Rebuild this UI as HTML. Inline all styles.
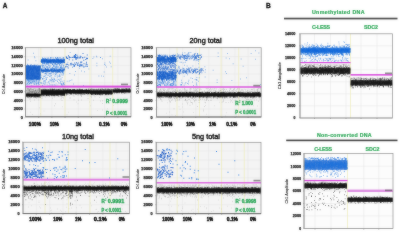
<!DOCTYPE html>
<html><head><meta charset="utf-8"><style>
html,body{margin:0;padding:0;background:#fff;width:400px;height:233px;overflow:hidden}
svg{display:block;font-family:"Liberation Sans", sans-serif;will-change:transform;}
</style></head><body><svg width="400" height="233" viewBox="0 0 400 233"><defs><filter id="soft" x="0" y="0" width="400" height="233" filterUnits="userSpaceOnUse" color-interpolation-filters="sRGB"><feGaussianBlur in="SourceGraphic" stdDeviation="1" result="b"/><feComposite in="SourceGraphic" in2="b" operator="arithmetic" k1="0" k2="0.65" k3="0.35" k4="0"/></filter></defs><g filter="url(#soft)"><rect width="400" height="233" fill="#fff"/><rect x="25.5" y="47.7" width="105.5" height="69.1" fill="#f4f4f4" fill-opacity="1.0"/><text x="20.68" y="119.06" font-size="3.5" font-weight="bold" text-anchor="start" fill="#1a1a1a" textLength="2.09" lengthAdjust="spacingAndGlyphs" stroke="#1a1a1a" stroke-width=".25">0</text><line x1="24.5" y1="117.8" x2="25.5" y2="117.8" stroke="#888" stroke-width=".5"/><line x1="25.5" y1="109.06" x2="131" y2="109.06" stroke="#e4e4e4" stroke-width=".5"/><text x="13.66" y="110.32" font-size="3.5" font-weight="bold" text-anchor="start" fill="#1a1a1a" textLength="9.11" lengthAdjust="spacingAndGlyphs" stroke="#1a1a1a" stroke-width=".25">2000</text><line x1="24.5" y1="109.06" x2="25.5" y2="109.06" stroke="#888" stroke-width=".5"/><line x1="25.5" y1="100.32" x2="131" y2="100.32" stroke="#e4e4e4" stroke-width=".5"/><text x="13.66" y="101.58" font-size="3.5" font-weight="bold" text-anchor="start" fill="#1a1a1a" textLength="9.11" lengthAdjust="spacingAndGlyphs" stroke="#1a1a1a" stroke-width=".25">4000</text><line x1="24.5" y1="100.32" x2="25.5" y2="100.32" stroke="#888" stroke-width=".5"/><line x1="25.5" y1="91.59" x2="131" y2="91.59" stroke="#e4e4e4" stroke-width=".5"/><text x="13.66" y="92.85" font-size="3.5" font-weight="bold" text-anchor="start" fill="#1a1a1a" textLength="9.11" lengthAdjust="spacingAndGlyphs" stroke="#1a1a1a" stroke-width=".25">6000</text><line x1="24.5" y1="91.59" x2="25.5" y2="91.59" stroke="#888" stroke-width=".5"/><line x1="25.5" y1="82.85" x2="131" y2="82.85" stroke="#e4e4e4" stroke-width=".5"/><text x="13.66" y="84.11" font-size="3.5" font-weight="bold" text-anchor="start" fill="#1a1a1a" textLength="9.11" lengthAdjust="spacingAndGlyphs" stroke="#1a1a1a" stroke-width=".25">8000</text><line x1="24.5" y1="82.85" x2="25.5" y2="82.85" stroke="#888" stroke-width=".5"/><line x1="25.5" y1="74.11" x2="131" y2="74.11" stroke="#e4e4e4" stroke-width=".5"/><text x="11.32" y="75.37" font-size="3.5" font-weight="bold" text-anchor="start" fill="#1a1a1a" textLength="11.45" lengthAdjust="spacingAndGlyphs" stroke="#1a1a1a" stroke-width=".25">10000</text><line x1="24.5" y1="74.11" x2="25.5" y2="74.11" stroke="#888" stroke-width=".5"/><line x1="25.5" y1="65.38" x2="131" y2="65.38" stroke="#e4e4e4" stroke-width=".5"/><text x="11.32" y="66.64" font-size="3.5" font-weight="bold" text-anchor="start" fill="#1a1a1a" textLength="11.45" lengthAdjust="spacingAndGlyphs" stroke="#1a1a1a" stroke-width=".25">12000</text><line x1="24.5" y1="65.38" x2="25.5" y2="65.38" stroke="#888" stroke-width=".5"/><line x1="25.5" y1="56.64" x2="131" y2="56.64" stroke="#e4e4e4" stroke-width=".5"/><text x="11.32" y="57.9" font-size="3.5" font-weight="bold" text-anchor="start" fill="#1a1a1a" textLength="11.45" lengthAdjust="spacingAndGlyphs" stroke="#1a1a1a" stroke-width=".25">14000</text><line x1="24.5" y1="56.64" x2="25.5" y2="56.64" stroke="#888" stroke-width=".5"/><text x="11.32" y="49.16" font-size="3.5" font-weight="bold" text-anchor="start" fill="#1a1a1a" textLength="11.45" lengthAdjust="spacingAndGlyphs" stroke="#1a1a1a" stroke-width=".25">16000</text><line x1="24.5" y1="47.9" x2="25.5" y2="47.9" stroke="#888" stroke-width=".5"/><line x1="38.69" y1="47.7" x2="38.69" y2="116.8" stroke="#e4e4e4" stroke-width=".5"/><line x1="38.69" y1="116.8" x2="38.69" y2="117.8" stroke="#666" stroke-width=".6"/><line x1="51.88" y1="47.7" x2="51.88" y2="116.8" stroke="#e4e4e4" stroke-width=".5"/><line x1="51.88" y1="116.8" x2="51.88" y2="117.8" stroke="#666" stroke-width=".6"/><line x1="65.06" y1="47.7" x2="65.06" y2="116.8" stroke="#e4e4e4" stroke-width=".5"/><line x1="65.06" y1="116.8" x2="65.06" y2="117.8" stroke="#666" stroke-width=".6"/><line x1="78.25" y1="47.7" x2="78.25" y2="116.8" stroke="#e4e4e4" stroke-width=".5"/><line x1="78.25" y1="116.8" x2="78.25" y2="117.8" stroke="#666" stroke-width=".6"/><line x1="91.44" y1="47.7" x2="91.44" y2="116.8" stroke="#e4e4e4" stroke-width=".5"/><line x1="91.44" y1="116.8" x2="91.44" y2="117.8" stroke="#666" stroke-width=".6"/><line x1="104.62" y1="47.7" x2="104.62" y2="116.8" stroke="#e4e4e4" stroke-width=".5"/><line x1="104.62" y1="116.8" x2="104.62" y2="117.8" stroke="#666" stroke-width=".6"/><line x1="117.81" y1="47.7" x2="117.81" y2="116.8" stroke="#e4e4e4" stroke-width=".5"/><line x1="117.81" y1="116.8" x2="117.81" y2="117.8" stroke="#666" stroke-width=".6"/><line x1="40.8" y1="47.7" x2="40.8" y2="116.8" stroke="#efeec0" stroke-width=".8"/><line x1="65" y1="47.7" x2="65" y2="116.8" stroke="#efeec0" stroke-width=".8"/><line x1="90" y1="47.7" x2="90" y2="116.8" stroke="#efeec0" stroke-width=".8"/><line x1="112.7" y1="47.7" x2="112.7" y2="116.8" stroke="#efeec0" stroke-width=".8"/><rect x="25.6" y="65.6" width="15.1" height="13.9" fill="#1860cc" fill-opacity="0.9"/><path transform="scale(.25)" d="M103 268h3m-3 27h3m-3 6h3m-3 1h3m-2-40h3m-3 5h3m-3 9h3m-3 6h3m-3 5h3m-3 1h3m-3 1h3m-3 2h3m-3 6h3m-3 6h3m-2-37h3m-3 20h3m-3 26h3m-3 1h3m-3 2h3m-2-40h3m-3 4h3m-3 5h3m-3 2h3m-3 3h3m-3 9h3m-3 2h3m-3 8h3m-2-42h3m-3 8h3m-3 1h3m-3 3h3m-3 1h3m-3 4h3m-3 6h3m-3 20h3m-2-40h3m-3 32h3m-2-41h3m-3 2h3m-3 29h3m-3 0h3m-3 7h3m-3 7h3m-3 2h3m-3 3h3m-2-28h3m-3 1h3m-3 2h3m-3 2h3m-3 4h3m-3 4h3m-3 0h3m-3 8h3m-3 14h3m-2-56h3m-3 2h3m-3 24h3m-3 1h3m-3 5h3m-3 2h3m-3 2h3m-3 1h3m-3 0h3m-3 15h3m-3 3h3m-2-52h3m-3 32h3m-3 7h3m-3 6h3m-2-47h3m-3 11h3m-3 6h3m-2-11h3m-3 0h3m-3 5h3m-3 44h3m-2-55h3m-3 7h3m-3 18h3m-3 12h3m-2-28h3m-3 11h3m-3 0h3m-3 6h3m-3 15h3m-2-24h3m-3 3h3m-3 33h3m-2-36h3m-3 27h3m-3 6h3m-2-46h3m-3 8h3m-3 4h3m-3 12h3m-3 23h3m-3 6h3m-2-56h3m-3 10h3m-3 5h3m-3 1h3m-3 22h3m-2-40h3m-3 0h3m-3 4h3m-3 28h3m-2-22h3m-3 2h3m-3 21h3m-3 7h3m-3 12h3m-3 2h3m-2-54h3m-3 15h3m-3 27h3m-3 8h3m-3 5h3m-3 0h3m-3 1h3m-2-42h3m-3 4h3m-3 5h3m-3 5h3m-2-29h3m-3 12h3m-3 15h3m-3 0h3m-3 9h3m-3 1h3m-3 2h3m-2-2h3m-3 12h3m-3 5h3m-3 2h3m-3 2h3m-2-25h3m-3 10h3m-3 10h3m-3 6h3m-2-56h3m-3 14h3m-3 0h3m-3 24h3m-3 4h3m-3 13h3m-2-56h3m-3 16h3m-3 1h3m-3 4h3m-3 2h3m-3 20h3m-2-25h3m-3 15h3m-3 7h3m-3 14h3m-2-50h3m-3 9h3m-3 16h3m-3 5h3m-3 2h3m-3 3h3m-3 7h3m-3 11h3m-2-57h3m-3 8h3m-3 0h3m-3 4h3m-3 13h3m-3 9h3m-2-16h3m-3 6h3m-3 33h3m-2-58h3m-3 8h3m-3 1h3m-3 4h3m-3 8h3m-3 20h3m-3 2h3m-3 12h3m-2-26h3m-3 22h3m-3 1h3m-2-49h3m-3 5h3m-3 25h3m-3 12h3m-3 7h3m-2-52h3m-3 0h3m-3 14h3m-3 22h3m-3 4h3m-3 12h3m-2-50h3m-3 7h3m-3 32h3m-3 5h3m-3 7h3m-2-48h3m-3 11h3m-3 31h3m-3 2h3m-3 8h3m-2-47h3m-3 21h3m-3 22h3m-2-53h3m-3 9h3m-3 35h3m-3 6h3m-2-36h3m-3 1h3m-3 4h3m-3 21h3m-3 6h3m-3 2h3m-2-36h3m-3 15h3m-3 26h3m-2-52h3m-3 21h3m-3 36h3m-2-43h3m-3 3h3m-3 2h3m-3 2h3m-3 5h3m-3 17h3m-3 4h3m-3 1h3m-3 8h3m-2-26h3m-3 3h3m-3 16h3m-3 5h3m-2-56h3m-3 25h3m-3 20h3m-2-24h3m-3 2h3m-3 4h3m-3 7h3m-3 13h3m-3 7h3m-2-44h3m-3 1h3m-3 5h3m-3 20h3m-3 0h3m-3 9h3m-3 10h3m-3 2h3m-3 1h3m-1-47h3m-3 12h3m-3 1h3m-3 22h3m-3 8h3m-2-22h3m-3 3h3m-3 2h3m-3 11h3m-3 11h3m-2-53h3m-3 4h3m-3 10h3m-3 11h3m-3 17h3m-2-45h3m-3 1h3m-3 17h3m-3 0h3m-3 2h3m-3 26h3m-3 6h3m-2-39h3m-3 5h3m-3 15h3m-3 17h3m-3 4h3m-3 2h3m-2-51h3m-3 9h3m-3 1h3m-3 25h3m-3 1h3m-2-28h3m-3 24h3m-2-35h3m-3 17h3m-3 11h3m-3 24h3m-2-53h3m-3 3h3m-3 10h3m-3 21h3m-3 2h3m-2-28h3m-3 39h3" stroke="#1860cc" stroke-width="3" stroke-opacity="0.8" fill="none"/><path transform="scale(.25)" d="M102 327h3m-1-4h3m-3 14h3m-2-13h3m-2 8h3m-3 7h3m-2-7h3m-3 4h3m-2-17h3m-3 1h3m-3 14h3m-2-15h3m-3 5h3m-3 8h3m-3 8h3m-2-20h3m-2 1h3m-3 5h3m-2-7h3m-3 1h3m-3 8h3m-3 1h3m-2-7h3m-3 15h3m-2-13h3m-3 1h3m-3 6h3m-2-8h3m-3 10h3m-3 5h3m-1-19h3m-3 7h3m-3 6h3m-3 3h3m-2-16h3m-3 1h3m-3 4h3m-3 10h3m-2-10h3m-2-4h3m-3 9h3m-2 3h3m-2-3h3m-3 2h3m-3 0h3m-2-11h3m-3 7h3m-3 5h3m-3 8h3m-2-7h3m-2-13h3m-3 12h3m-2-7h3m-3 17h3m-2-22h3m-3 1h3m-2 5h3m-3 3h3m-1-4h3m-3 6h3m-3 1h3m-2-6h3m-2-5h3m-2 11h3m-2-7h3m-3 14h3m-2-15h3m-3 3h3m-3 6h3m-2 2h3m-3 3h3m-2-18h3m-3 4h3m-3 4h3m-2-3h3m-2 4h3m-2-6h3m-1 9h3m-3 4h3m-2-15h3m-3 6h3m-3 2h3m-3 8h3m-2-14h3m-3 2h3m-3 15h3m-2-6h3m-2-14h3m-3 13h3m-3 3h3m-2-4h3m-1-8h3m-1 5h3m-3 3h3m-3 1h3m-3 8h3m-2-9h3m-3 4h3m-2-17h3m-3 7h3m-3 5h3m-3 5h3m-1-15h3m-3 7h3m-1-4h3m-3 14h3m-2-15h3m-2 7h3m-3 2h3m-3 0h3" stroke="#2274de" stroke-width="3" stroke-opacity="0.6" fill="none"/><path transform="scale(.25)" d="M108 257h3m0-17h3m18-27h3m2 14h3m-2 4h3m1 12h3" stroke="#2274de" stroke-width="3" stroke-opacity="0.8" fill="none"/><rect x="40.9" y="59.6" width="24" height="2.8" fill="#1860cc" fill-opacity="0.6"/><path transform="scale(.25)" d="M163 244h3m-3 2h3m-2-4h3m-3 1h3m-3 1h3m-3 3h3m-2-7h3m-3 1h3m-3 1h3m-3 0h3m-3 1h3m-3 5h3m-2-10h3m-3 4h3m-3 2h3m-3 3h3m-3 0h3m-3 2h3m-2-11h3m-3 2h3m-3 5h3m-3 4h3m-2-7h3m-3 10h3m-2-15h3m-3 2h3m-3 3h3m-3 5h3m-3 0h3m-3 1h3m-2-13h3m-3 6h3m-2-5h3m-3 6h3m-3 1h3m-3 3h3m-2-11h3m-3 4h3m-3 1h3m-3 8h3m-2-11h3m-3 11h3m-2-8h3m-3 1h3m-3 1h3m-2-4h3m-3 5h3m-3 0h3m-3 0h3m-3 2h3m-3 1h3m-3 2h3m-3 1h3m-2-13h3m-3 3h3m-3 2h3m-3 0h3m-3 3h3m-3 2h3m-3 3h3m-2-9h3m-3 3h3m-3 1h3m-3 1h3m-3 1h3m-2-3h3m-3 4h3m-3 0h3m-3 2h3m-2-14h3m-3 10h3m-2-5h3m-3 0h3m-3 2h3m-3 5h3m-2-10h3m-3 4h3m-3 5h3m-2-7h3m-3 3h3m-3 7h3m-2-10h3m-3 0h3m-3 1h3m-3 8h3m-2-10h3m-3 2h3m-3 4h3m-3 2h3m-2-7h3m-3 0h3m-3 1h3m-3 0h3m-3 1h3m-3 4h3m-3 4h3m-2-8h3m-3 1h3m-3 0h3m-3 6h3m-3 3h3m-2-15h3m-3 4h3m-3 2h3m-3 1h3m-3 1h3m-3 0h3m-3 2h3m-3 6h3m-2-13h3m-3 7h3m-3 0h3m-3 1h3m-3 0h3m-3 1h3m-3 0h3m-3 1h3m-2-3h3m-3 3h3m-3 0h3m-2-14h3m-3 4h3m-3 7h3m-3 1h3m-3 0h3m-3 0h3m-3 4h3m-2-14h3m-3 4h3m-3 2h3m-3 3h3m-3 1h3m-3 3h3m-2-8h3m-3 3h3m-3 2h3m-3 1h3m-3 3h3m-3 1h3m-2-8h3m-2-1h3m-3 2h3m-3 1h3m-3 1h3m-3 3h3m-2-13h3m-3 2h3m-3 3h3m-3 0h3m-3 1h3m-3 1h3m-3 1h3m-2-6h3m-3 3h3m-3 0h3m-3 2h3m-3 0h3m-3 4h3m-3 1h3m-3 3h3m-2-9h3m-3 3h3m-3 1h3m-2-3h3m-3 0h3m-3 1h3m-2 0h3m-3 2h3m-3 0h3m-3 2h3m-2-18h3m-3 8h3m-3 1h3m-3 2h3m-3 2h3m-3 1h3m-3 1h3m-3 3h3m-2-14h3m-3 6h3m-3 4h3m-3 0h3m-3 2h3m-3 5h3m-2-13h3m-3 0h3m-3 2h3m-3 1h3m-3 0h3m-3 1h3m-3 1h3m-3 1h3m-3 2h3m-3 4h3m-2-10h3m-3 2h3m-3 2h3m-3 3h3m-3 4h3m-2-10h3m-3 3h3m-2-6h3m-3 5h3m-3 6h3m-2-11h3m-3 7h3m-2-4h3m-3 3h3m-3 7h3m-2-12h3m-3 2h3m-3 3h3m-3 11h3m-3 1h3m-2-18h3m-3 0h3m-3 3h3m-3 2h3m-2-7h3m-3 7h3m-2-5h3m-3 4h3m-3 2h3m-3 5h3m-3 0h3m-2-13h3m-3 6h3m-3 2h3m-3 2h3m-3 0h3m-2-5h3m-3 2h3m-3 6h3m-2-13h3m-3 3h3m-3 1h3m-3 6h3m-3 2h3m-3 0h3m-2-10h3m-3 4h3m-3 0h3m-3 4h3m-3 1h3m-2-10h3m-3 1h3m-3 3h3m-3 3h3m-2 0h3m-3 1h3m-3 0h3m-3 1h3m-2-10h3m-3 3h3m-3 2h3m-3 2h3m-3 0h3m-3 6h3m-2-2h3m-3 1h3m-2-8h3m-3 3h3m-3 8h3m-3 2h3m-2-9h3m-3 1h3m-3 2h3m-2-9h3m-3 3h3m-3 3h3m-3 2h3m-3 5h3m-2-12h3m-3 1h3m-3 0h3m-3 4h3m-3 4h3m-2-13h3m-3 1h3m-3 3h3m-3 0h3m-3 2h3m-3 0h3m-3 0h3m-3 1h3m-3 0h3m-3 1h3m-3 5h3m-2 0h3m-2-6h3m-3 0h3m-3 1h3m-2-7h3m-3 0h3m-3 4h3m-3 1h3m-3 3h3m-3 1h3m-3 1h3m-3 1h3m-3 2h3m-3 0h3m-3 3h3m-2-17h3m-3 2h3m-3 1h3m-3 4h3m-3 3h3m-3 5h3m-2-21h3m-3 8h3m-3 7h3m-3 1h3m-2-5h3m-3 1h3m-3 0h3m-3 4h3m-2-7h3m-3 1h3m-3 1h3m-3 10h3m-3 1h3m-2-12h3m-3 3h3m-3 0h3m-3 3h3m-3 6h3m-2-16h3m-3 2h3m-3 2h3m-3 1h3m-3 2h3m-3 0h3m-3 1h3m-3 2h3m-3 4h3m-2-9h3m-3 2h3m-3 1h3m-3 1h3m-3 1h3m-3 1h3m-3 1h3m-3 6h3m-2-15h3m-3 0h3m-3 2h3m-3 1h3m-3 0h3m-3 0h3m-3 0h3m-3 3h3m-2 1h3m-3 1h3m-3 3h3m-2-8h3m-3 1h3m-3 2h3m-3 2h3m-2-11h3m-3 8h3m-3 0h3m-3 3h3m-3 2h3m-3 4h3m-2-14h3m-3 5h3m-3 2h3m-3 0h3m-3 2h3m-3 2h3m-2-4h3m-3 4h3m-2-13h3m-3 2h3m-3 4h3m-3 0h3m-3 1h3m-2-7h3m-3 5h3m-3 2h3m-2-5h3m-3 3h3m-3 3h3m-3 1h3m-3 1h3m-3 0h3m-3 1h3m-2-8h3m-3 2h3m-3 1h3m-3 6h3m-3 1h3m-3 0h3m-3 0h3m-2-14h3m-3 6h3m-3 3h3m-3 4h3m-2-10h3m-3 4h3m-3 2h3m-3 0h3m-3 2h3m-3 4h3m-2-15h3m-3 7h3m-2 0h3m-3 0h3m-3 0h3m-3 6h3m-3 1h3m-2-8h3m-3 0h3m-3 1h3m-3 0h3m-3 2h3m-2-6h3m-3 3h3m-3 4h3m-3 3h3m-2-13h3m-3 0h3m-3 7h3m-3 1h3m-3 1h3m-3 1h3m-2-7h3m-3 1h3m-3 2h3m-3 2h3m-3 1h3m-3 0h3m-3 3h3m-3 3h3m-2-6h3m-3 2h3m-2-15h3m-3 7h3m-3 4h3m-3 4h3m-2-3h3m-3 6h3m-3 0h3m-2-13h3m-3 1h3m-3 4h3m-3 8h3m-3 1h3m-2-11h3" stroke="#1860cc" stroke-width="3" stroke-opacity="0.85" fill="none"/><path transform="scale(.25)" d="M164 279h3m-3 1h3m-3 1h3m-2-3h3m-3 2h3m-3 1h3m-3 1h3m-3 1h3m-3 0h3m-3 0h3m-3 1h3m-2-7h3m-3 9h3m-3 1h3m-2-11h3m-3 4h3m-3 10h3m-2-6h3m-3 0h3m-2-3h3m-3 2h3m-3 1h3m-2-3h3m-3 0h3m-3 2h3m-3 0h3m-3 0h3m-3 0h3m-2-3h3m-3 2h3m-2-2h3m-3 3h3m-3 0h3m-3 1h3m-3 1h3m-3 0h3m-2-4h3m-3 3h3m-3 0h3m-2-5h3m-3 3h3m-3 1h3m-3 0h3m-3 3h3m-3 1h3m-2-15h3m-3 8h3m-3 3h3m-3 1h3m-2-3h3m-3 3h3m-2-3h3m-3 3h3m-3 2h3m-2-7h3m-3 1h3m-2 5h3m-3 1h3m-3 0h3m-2-10h3m-3 3h3m-3 1h3m-3 3h3m-3 1h3m-3 9h3m-2-19h3m-3 2h3m-3 0h3m-3 10h3m-2-9h3m-3 1h3m-3 1h3m-3 4h3m-3 0h3m-3 3h3m-3 8h3m-2-13h3m-3 3h3m-3 1h3m-3 0h3m-3 3h3m-3 0h3m-2-7h3m-3 2h3m-3 4h3m-2-9h3m-3 1h3m-2-1h3m-3 2h3m-3 3h3m-3 0h3m-2-6h3m-3 4h3m-3 1h3m-3 0h3m-3 2h3m-2-7h3m-3 2h3m-3 3h3m-3 5h3m-2-4h3m-3 0h3m-2-11h3m-3 8h3m-3 1h3m-3 4h3m-3 0h3m-2-8h3m-3 1h3m-3 1h3m-3 6h3m-2-2h3m-2-7h3m-3 5h3m-3 2h3m-3 1h3m-2-4h3m-3 0h3m-3 3h3m-3 0h3m-3 3h3m-2-4h3m-3 1h3m-2-2h3m-3 4h3m-3 2h3m-2-3h3m-3 0h3m-2-2h3m-3 1h3m-3 0h3m-2-10h3m-3 7h3m-2 0h3m-2-3h3m-3 5h3m-3 1h3m-2-4h3m-3 4h3m-3 0h3m-3 1h3m-3 4h3m-2-8h3m-3 1h3m-3 0h3m-2-3h3m-3 1h3m-3 4h3m-2-7h3m-3 5h3m-3 3h3m-3 8h3m-2-14h3m-3 3h3m-3 1h3m-3 1h3m-3 2h3m-3 1h3m-3 1h3m-2-10h3m-3 2h3m-3 4h3m-3 0h3m-3 3h3m-2-14h3m-3 7h3m-3 8h3m-2 0h3m-3 1h3m-2-12h3m-3 4h3m-2 3h3m-3 0h3m-2-4h3m-3 4h3m-3 2h3m-2-11h3m-3 9h3m-3 1h3m-3 0h3m-3 0h3m-3 1h3m-3 2h3m-3 4h3m-1-14h3m-3 2h3m-3 1h3m-3 0h3m-2 0h3m-3 2h3m-3 2h3m-3 0h3m-2-9h3m-3 5h3m-3 1h3m-3 0h3m-3 0h3m-3 2h3m-3 1h3m-3 2h3m-2 0h3m-2-6h3m-3 1h3m-3 0h3m-3 1h3m-2-1h3m-3 2h3m-3 1h3m-3 2h3m-2-4h3m-3 1h3m-3 8h3m-2-13h3m-3 2h3m-3 5h3m-2-4h3m-3 2h3m-3 1h3m-3 3h3m-2-10h3m-3 3h3m-3 7h3m-2 1h3m-2-8h3m-3 2h3m-3 5h3m-2-8h3m-3 1h3m-3 1h3m-3 1h3m-3 1h3m-3 1h3m-3 1h3m-3 5h3m-2-11h3m-3 4h3m-3 3h3m-2-4h3m-3 0h3m-2-1h3m-3 0h3m-3 6h3m-3 1h3m-3 0h3m-2-8h3m-3 5h3m-2-3h3m-3 1h3m-3 4h3m-2-8h3m-3 5h3m-3 1h3m-2-8h3m-3 2h3m-3 2h3m-3 3h3m-3 0h3m-3 2h3m-2-6h3m-3 4h3m-3 3h3m-3 0h3m-3 2h3m-2-10h3m-3 3h3m-3 5h3m-2-9h3m-3 1h3m-3 1h3m-3 1h3m-3 5h3m-3 0h3m-2-10h3m-3 7h3m-2-11h3m-3 5h3m-3 1h3m-3 10h3m-2-10h3m-3 3h3m-3 0h3m-3 10h3m-2-9h3m-2-3h3m-3 2h3m-3 4h3m-2-3h3m-3 1h3m-2-7h3m-1 1h3m-3 4h3m-3 1h3m-3 3h3m-2-8h3m-3 5h3m-3 3h3m-2-3h3m-3 2h3m-3 3h3m-2-11h3m-3 5h3m-3 2h3m-3 1h3m-3 6h3m-1-12h3m-3 1h3m-3 2h3m-2 2h3m-3 5h3m-2-7h3m-2-6h3m-3 3h3m-3 2h3m-3 0h3m-3 0h3m-3 5h3m-2-7h3m-2-3h3m-3 3h3m-3 2h3" stroke="#1860cc" stroke-width="3" stroke-opacity="0.8" fill="none"/><path transform="scale(.25)" d="M168 252h3m-3 2h3m-3 6h3m-2 1h3m1-7h3m-2 15h3m-1-15h3m-3 6h3m-3 7h3m-2-14h3m-1 0h3m-2 11h3m-1-12h3m-3 5h3m-3 14h3m0-18h3m-3 12h3m-3 4h3m-2 4h3m1-16h3m-3 11h3m1-11h3m0 13h3m-2-9h3m0 5h3m-1-13h3m-3 0h3m-3 21h3m2-3h3m-3 0h3m-2-13h3m-3 16h3m0-11h3m-1-9h3m-3 13h3m-2 0h3m-2-13h3m-2 9h3m-2-5h3m-2-1h3m-2 1h3m-2 14h3m-1-7h3m-3 1h3m-3 3h3m0-11h3m-3 2h3m-1-2h3m-2 6h3m-3 4h3m0-12h3m-2 20h3m0-18h3m-2 5h3m-2-11h3m-2 1h3m-3 18h3m-2-1h3m-2-17h3m-2 0h3m-3 8h3m-3 5h3m-2-5h3m-2 8h3m-2 4h3m-1 0h3m1-11h3m-2-1h3m-2 5h3m0 5h3" stroke="#2274de" stroke-width="3" stroke-opacity="0.6" fill="none"/><path transform="scale(.25)" d="M163 262h3m-2 14h3m-3 0h3m-3 58h3m-2-95h3m-3 10h3m-3 61h3m-3 20h3m-2-87h3m-3 17h3m-3 16h3m-3 1h3m-3 26h3m-2-38h3m-3 68h3m-2-103h3m-3 19h3m-3 16h3m-3 4h3m-3 21h3m-3 25h3m-3 26h3m-2-106h3m-3 1h3m-3 36h3m-3 43h3m-3 27h3m-2-106h3m-3 28h3m-3 25h3m-3 26h3m-3 0h3m-3 2h3m-2-66h3m-3 15h3m-2 20h3m-3 22h3m-2-56h3m-3 9h3m-3 1h3m-3 27h3m-3 36h3m-2-70h3m-3 18h3m-3 12h3m-3 6h3m-3 13h3m-3 27h3m-3 2h3m-3 1h3m-2-63h3m-3 35h3m-3 8h3m-3 9h3m-3 2h3m-3 13h3m-2-102h3m-3 12h3m-3 75h3m-2-69h3m-3 41h3m-2-64h3m-3 44h3m-3 29h3m-3 2h3m-2 21h3m-3 10h3m-2-103h3m-3 10h3m-3 17h3m-3 13h3m-3 19h3m-3 8h3m-3 10h3m-3 11h3m-2-85h3m-3 91h3m-3 4h3m-2-95h3m-2-1h3m-3 64h3m-3 18h3m-3 1h3m-1-72h3m-3 7h3m-3 31h3m-3 9h3m-3 4h3m-3 16h3m-3 4h3m-2-76h3m-3 14h3m-3 2h3m-3 9h3m-3 12h3m-3 31h3m-2-79h3m-3 11h3m-3 10h3m-3 58h3m-3 21h3m-3 8h3m-2-73h3m-3 21h3m-2-15h3m-3 29h3m-2-55h3m-3 3h3m-3 6h3m-3 17h3m-3 20h3m-2-3h3m-3 54h3m-2-105h3m-3 7h3m-3 11h3m-3 70h3m-3 5h3m-2-100h3m-3 31h3m-3 34h3m-3 6h3m-2-67h3m-3 8h3m-2 20h3m-3 1h3m-3 7h3m-3 10h3m-3 4h3m-3 43h3m-2-87h3m-3 26h3m-3 27h3m-2 12h3m-3 28h3m-3 6h3m-2-62h3m-3 17h3m-3 1h3m-3 23h3m-3 5h3m-2-82h3m-3 53h3m-3 6h3m-3 4h3m-3 2h3m-3 12h3m-3 21h3m-2-110h3m-3 50h3m-2 1h3m-3 13h3m-3 29h3m-2-72h3m-3 10h3m-3 11h3m-2 24h3m-3 6h3m-3 18h3m-3 19h3m-2-108h3m-3 82h3m-2-66h3m-3 26h3m-3 30h3m-3 20h3m-2-91h3m-3 16h3m-3 63h3m-3 9h3m-3 8h3m-2-84h3m-3 73h3m-3 26h3m-2-96h3m-3 32h3m-3 6h3m-2-38h3m-3 2h3m-3 29h3m-3 5h3m-3 35h3m-3 6h3m-2-68h3m-3 26h3m-3 57h3m-3 1h3m-2-110h3m-3 35h3m-3 7h3m-3 15h3m-3 10h3m-3 22h3m-2-57h3m-3 15h3m-3 48h3m-2-88h3m-3 20h3m-3 7h3m-2 48h3m-3 11h3m-3 5h3m-2-64h3m-3 10h3m-3 41h3m-3 4h3m-3 7h3m-2-80h3m-3 9h3m-2 37h3m-3 24h3m-3 2h3m-3 22h3m-2-94h3m-3 30h3m-3 4h3m-3 3h3m-3 21h3m-3 35h3m-2-95h3m-3 28h3m-3 0h3m-3 27h3m-3 6h3m-2-75h3m-3 0h3m-3 12h3m-3 56h3m-3 23h3m-2-87h3m-3 58h3m-2-44h3m-3 16h3m-3 6h3m-3 4h3m-3 24h3m-3 44h3m-2-110h3m-3 34h3m-3 56h3m-3 14h3m-2-94h3m-3 7h3m-3 11h3m-2-26h3m-3 6h3m-3 2h3m-3 16h3m-3 16h3m-3 20h3m-2-53h3m-3 29h3m-3 3h3m-3 23h3m-2-42h3m-3 14h3m-3 34h3m-3 6h3m-3 9h3m-2-81h3m-3 3h3m-3 7h3m-3 27h3m-3 16h3m-2-48h3m-3 67h3m-3 16h3m-3 2h3m-2-96h3m-3 1h3m-3 7h3m-3 8h3m-3 1h3m-3 93h3m-2-106h3m-3 5h3m-3 4h3m-2 26h3m-3 62h3m-2-83h3m-3 19h3m-3 38h3m-3 13h3m-1-75h3m-3 6h3m-3 27h3m-3 9h3m-3 19h3m-3 13h3m-3 16h3m-2-77h3m-3 3h3m-3 63h3m-2-75h3m-3 31h3m-3 22h3m-2-69h3m-3 1h3m-3 12h3m-3 17h3m-3 37h3m-3 5h3m-3 1h3m-3 1h3m-3 2h3m-2-77h3m-3 14h3m-3 76h3m-2-45h3m-3 12h3m-3 39h3m-3 3h3m-2-75h3m-3 16h3m-3 10h3m-3 53h3m-2-79h3m-3 12h3m-3 3h3m-3 14h3m-3 8h3m-3 24h3m-3 21h3m-2-63h3m-3 13h3m-3 31h3m-1-53h3m-3 19h3m-3 1h3m-3 1h3m-3 50h3m-3 3h3m-3 2h3m-2-84h3m-3 3h3m-3 10h3m-3 0h3m-3 21h3m-3 8h3m-3 26h3m-3 11h3m-3 2h3m-2-52h3m-3 0h3m-3 8h3m-3 9h3m-3 8h3m-3 16h3m-3 16h3m-1-87h3m-3 33h3m-3 52h3m-2-109h3m-3 19h3m-3 22h3m-3 19h3m-2-20h3m-3 10h3m-3 4h3m-3 12h3m-3 34h3m-3 6h3m-2-43h3m-2-64h3m-3 2h3m-3 68h3m-3 34h3m-3 0h3m-2-91h3m-3 18h3m-3 8h3m-3 5h3m-3 18h3m-3 40h3m-3 6h3m-3 2h3m-2-17h3m-3 6h3m-2 8h3m-2-92h3" stroke="#2274de" stroke-width="3" stroke-opacity="0.6" fill="none"/><path transform="scale(.25)" d="M263 227h4m-3 3h4m-3 3h4m-1 0h4m-3 1h4m-1-11h4m-2 5h4m-3 11h4m-3-11h4m-4 3h4m1-1h4m2 0h4m-2 10h4m-3-11h4m0 0h4m-3-6h4m-4 3h4m-3-3h4m-4 6h4m-4 0h4m0-11h4m-4 2h4m-4 6h4m-4 4h4m-3-10h4m-4 16h4m-3-3h4m-3-2h4m-4 6h4m-2-7h4m-3-9h4m-3 12h4m-2-5h4m-4 1h4m1 3h4m-1-1h4m-2-6h4m-3 6h4m-2-4h4m2 4h4m-2-17h4m-4 17h4m-1 10h4m0-12h4m0 9h4m0-5h4m-3 0h4m-4 2h4m-3-15h4m-4 14h4" stroke="#1860cc" stroke-width="4" stroke-opacity="0.85" fill="none"/><path transform="scale(.25)" d="M261 268h4m-3-2h4m-3-7h4m-1-3h4m-3 2h4m-2 9h4m-2 5h4m-2-12h4m4-6h4m-3 5h4m-4 0h4m-3-6h4m2 4h4m-1 2h4m-1 3h4m-4 3h4m-3-1h4m-3-12h4m-3 7h4m-1-2h4m-1-6h4m0 5h4m-4 5h4m-1-9h4m-4 9h4m1-1h4m-4 5h4m-1-1h4m-2-16h4m-4 9h4m-4 4h4m-3-11h4m-3 10h4m-3 3h4m-3-15h4m-2 12h4m-1 4h4m-1 4h4m-3-13h4m4 5h4m-4 6h4m-3-11h4m-3-6h4m-2 9h4m-2 7h4" stroke="#1860cc" stroke-width="4" stroke-opacity="0.85" fill="none"/><path transform="scale(.25)" d="M267 325h3m0-76h3m2 76h3m0-31h3m-2-84h3m-3 112h3m4-2h3m-1-50h3m0-4h3m-1 70h3m1-36h3m0-14h3m14-13h3m5 11h3m4 58h3m1-55h3m-2-20h3m14 9h3" stroke="#2274de" stroke-width="3" stroke-opacity="0.8" fill="none"/><path transform="scale(.25)" d="M370 234h3m1-6h3m8-3h3m-2 3h3m11 2h3m-2 0h3m4 5h3m28-10h3" stroke="#2274de" stroke-width="3" stroke-opacity="0.8" fill="none"/><path transform="scale(.25)" d="M386 253h3m-3 10h3m27-5h3m-1-6h3m-1 9h3m2 7h3m8-20h3m4 19h3" stroke="#2274de" stroke-width="3" stroke-opacity="0.8" fill="none"/><path transform="scale(.25)" d="M394 304h3m8 0h3m4 1h3m0-17h3m22-35h3" stroke="#2274de" stroke-width="3" stroke-opacity="0.8" fill="none"/><rect x="25.5" y="94" width="15.3" height="2.4" fill="#121212" fill-opacity="1.0"/><path transform="scale(.25)" d="M103 374h2m-1 0h2m-1 0h2m-2 3h2m0-4h2m-2 1h2m-2 2h2m-1-3h2m-2 4h2m-1-3h2m-1-1h2m-2 3h2m-2 0h2m-1-3h2m-2 1h2m-1 1h2m-2 1h2m-2 0h2m-1-1h2m-2 0h2m-1-2h2m-2 0h2m0 0h2m-2 3h2m-1-1h2m-2 1h2m-1-3h2m-1 1h2m-2 1h2m-2 0h2m-1 1h2m-1-3h2m-1 2h2m-2 0h2m0 1h2m-1-3h2m-2 1h2m-2 2h2m-1 0h2m-2 1h2m-1-3h2m-2 3h2m-1-3h2m0 0h2m-2 2h2m-2 0h2m-1-1h2m-2 1h2m0-2h2m-1 0h2m-1 0h2m-2 1h2m-2 1h2m-1-1h2m-1-1h2m-2 0h2m-2 2h2m-1-3h2m-1 0h2m-2 0h2m-2 1h2m-2 1h2m-1 0h2m-2 2h2m-1-3h2m-2 2h2m-1-2h2m-2 1h2m-2 0h2m0-1h2m-2 2h2m-2 1h2m-1-2h2m-1 0h2m-2 1h2m-1-3h2m-2 2h2m-2 0h2m1-1h2m-2 1h2m-2 0h2m-2 0h2m1 0h2m-1-2h2m-1 1h2m-1-1h2m-1 1h2m0-1h2m-2 2h2m-1-2h2m-2 4h2" stroke="#111" stroke-width="2" stroke-opacity="0.8" fill="none"/><path transform="scale(.25)" d="M102 387h2m-1 1h2m0-3h2m-1 1h2m-1 0h2m-2 1h2m-1-2h2m-2 3h2m-1-3h2m-2 2h2m-2 1h2m-1 0h2m1-3h2m-2 3h2m-2 0h2m-1-2h2m-2 2h2m0-2h2m-1-1h2m-2 1h2m-1 0h2m-2 1h2m-2 0h2m-1 0h2m-2 1h2m-1 1h2m-1-3h2m-2 1h2m0 0h2m-1 0h2m-2 1h2m-1-3h2m-2 1h2m-2 1h2m-1-2h2m-2 1h2m-2 2h2m-1-2h2m-2 0h2m-1 1h2m-1-2h2m-1 0h2m-2 1h2m0 2h2m-1-1h2m-1 0h2m-1-1h2m-2 1h2m-2 1h2m-1-2h2m-1 0h2m-1 0h2m-2 2h2m-2 1h2m-1-4h2m-2 1h2m-2 1h2m-1 0h2m-1 1h2m-2 0h2m0-3h2m-2 1h2m-2 1h2m-2 1h2m-2 0h2m-2 0h2m-1-2h2m0 0h2m-1 1h2m-2 1h2m-1-2h2m-2 0h2m-1 0h2m-2 2h2m-1-3h2m-2 0h2m-1 1h2m-2 0h2m-2 1h2m-2 0h2m-2 1h2m-1-2h2m-2 1h2m-1-2h2m-1 3h2m0-3h2m-1 2h2m-2 1h2m-2 0h2m-1-1h2m1 2h2" stroke="#111" stroke-width="2" stroke-opacity="0.8" fill="none"/><path transform="scale(.25)" d="M102 365h2m-1-10h2m-2 9h2m-2 3h2m-2 4h2m-2 3h2m-2 0h2m-1-11h2m-2 6h2m-2 2h2m-2 2h2m-1-19h2m-2 4h2m-2 4h2m-2 1h2m-2 9h2m-1-12h2m-2 1h2m-2 3h2m-1-10h2m-2 3h2m-2 7h2m-2 8h2m-1-18h2m-2 1h2m-2 1h2m-2 13h2m-2 3h2m-1-17h2m-2 3h2m-2 4h2m-2 6h2m-2 4h2m-2 0h2m-2 1h2m-2 1h2m-1-19h2m-2 2h2m-2 4h2m-2 3h2m-2 1h2m-2 4h2m-1-8h2m-2 0h2m-2 6h2m-2 6h2m-1-19h2m-2 2h2m-2 1h2m-2 4h2m-2 7h2m-2 1h2m-2 0h2m-2 3h2m-1-17h2m-2 4h2m-2 1h2m-2 3h2m-2 11h2m-1-20h2m-2 5h2m-2 2h2m-2 4h2m-2 3h2m-2 3h2m-2 0h2m-1-15h2m-2 1h2m-2 5h2m-2 4h2m-2 4h2m-2 1h2m-1-17h2m-2 6h2m-2 3h2m-2 0h2m-2 1h2m-2 1h2m-2 1h2m-2 6h2m-1-13h2m-2 1h2m-2 0h2m-2 4h2m-2 5h2m-2 2h2m-2 1h2m-2 0h2m-2 2h2m-2 0h2m-1-18h2m-2 2h2m-2 1h2m-2 0h2m-2 1h2m-2 3h2m-2 0h2m-2 9h2m-2 2h2m-2 1h2m-1-20h2m-2 6h2m-2 4h2m-2 0h2m-2 2h2m-2 2h2m-2 1h2m-2 0h2m-2 1h2m-1-16h2m-2 1h2m-2 0h2m-2 9h2m-2 3h2m-2 0h2m-2 6h2m-2 0h2m-1-20h2m-2 4h2m-2 7h2m-2 0h2m-2 0h2m-2 4h2m-2 3h2m-1-17h2m-2 4h2m-2 1h2m-2 8h2m-2 7h2m-1-19h2m-2 4h2m-2 0h2m-2 1h2m-2 4h2m-2 1h2m-2 1h2m-1-12h2m-2 2h2m-2 4h2m-2 2h2m-2 1h2m-2 1h2m-2 2h2m-2 2h2m-2 0h2m-2 2h2m-1-15h2m-2 2h2m-2 6h2m-2 5h2m-2 1h2m-2 4h2m-1-18h2m-2 11h2m-2 4h2m-2 0h2m-2 3h2m-1-16h2m-2 9h2m-2 0h2m-2 2h2m-2 1h2m-2 5h2m-1-11h2m-2 1h2m-2 0h2m-2 2h2m-2 0h2m-2 1h2m-2 0h2m-2 0h2m-2 2h2m-1-11h2m-2 1h2m-2 3h2m-2 4h2m-2 1h2m-2 0h2m-2 3h2m-1-16h2m-2 3h2m-2 1h2m-2 1h2m-2 9h2m-2 1h2m-2 2h2m-1-15h2m-2 1h2m-2 1h2m-2 9h2m-2 5h2m-1-16h2m-2 3h2m-2 2h2m-2 1h2m-2 1h2m-2 4h2m-1-9h2m-2 1h2m-2 3h2m-2 3h2m-2 1h2m-2 2h2m-2 0h2m-2 0h2m-2 2h2m-2 2h2m-1-17h2m-2 1h2m-2 8h2m-1-10h2m-2 1h2m-2 7h2m-2 0h2m-2 3h2m-2 1h2m-2 4h2m-1-6h2m-2 1h2m-2 0h2m-2 5h2m-2 2h2m-1-18h2m-2 14h2m-2 2h2m-2 1h2m-2 0h2m-2 0h2m-2 1h2m-1-17h2m-2 7h2m-2 0h2m-2 3h2m-2 3h2m-2 3h2m-2 1h2m-2 1h2m-1-18h2m-2 5h2m-2 0h2m-2 1h2m-2 1h2m-2 2h2m-2 5h2m-2 1h2m-1-14h2m-2 3h2m-2 0h2m-2 1h2m-2 1h2m-2 1h2m-2 1h2m-2 3h2m-2 1h2m-2 3h2m-1-16h2m-2 7h2m-2 1h2m-2 1h2m-2 10h2m-1-12h2m-2 3h2m-2 6h2m-2 1h2m-1-16h2m-2 0h2m-2 3h2m-2 4h2m-2 1h2m-2 0h2m-2 4h2m-2 1h2m-2 1h2m-2 0h2m-1-11h2m-2 9h2m-2 2h2m-2 1h2m-2 1h2m-1-15h2m-2 4h2m-2 2h2m-2 2h2m-2 0h2m-2 3h2m-2 1h2m-2 1h2m-1-3h2m-2 1h2m-2 2h2m-1-15h2m-2 7h2m-2 1h2m-2 6h2m-1-13h2m-2 6h2m-2 5h2m-2 3h2m-1-12h2m-2 4h2m-2 4h2m-2 2h2m-1-10h2m-2 2h2m-2 3h2m-2 3h2m-2 5h2m-2 3h2m-1-19h2m-2 5h2m-2 1h2m-2 2h2m-2 0h2m-2 1h2m-2 4h2m-2 1h2m-2 1h2m-2 3h2m-1-13h2m-2 9h2m-2 2h2m-2 0h2m-1-14h2m-2 1h2m-2 4h2m-2 2h2m-2 1h2m-2 9h2m-2 0h2m-1-20h2m-2 2h2m-2 8h2m-2 4h2m-2 1h2m-2 1h2m-2 1h2m-2 0h2m-2 2h2m-2 1h2m-2 0h2m-2 1h2m-1-19h2m-2 1h2m-2 2h2m-2 0h2m-2 1h2m-2 4h2m-2 3h2m-2 3h2m-1-16h2m-2 1h2m-2 1h2m-2 0h2m-2 4h2m-2 4h2m-2 1h2m-2 3h2m-2 5h2m-2 1h2m-1-19h2m-2 1h2m-2 2h2m-2 2h2m-2 2h2m-2 1h2m-2 0h2m-2 1h2m-2 1h2m-2 1h2m-2 1h2m-2 2h2m-2 1h2m-1-16h2m-2 1h2m-2 4h2m-2 1h2m-2 7h2m-2 5h2m-2 2h2m-1-15h2m-2 0h2m-2 1h2m-2 2h2m-2 2h2m-2 0h2m-2 1h2m-2 2h2m-2 1h2m-1-14h2m-2 10h2m-2 1h2m-2 2h2m-2 3h2m-1-12h2m-2 0h2m-2 0h2m-2 1h2" stroke="#555" stroke-width="2" stroke-opacity="0.45" fill="none"/><path transform="scale(.25)" d="M112 391h2m4 5h2m-1-7h2m-1 7h2m-2 9h2m2-17h2m11 12h2m5-7h2m7-6h2m5 3h2" stroke="#333" stroke-width="2" stroke-opacity="0.6" fill="none"/><rect x="40.8" y="90.1" width="24.2" height="4.8" fill="#121212" fill-opacity="1.0"/><path transform="scale(.25)" d="M163 361h2m-1-1h2m0 0h2m-2 0h2m-2 0h2m-2 1h2m-1-3h2m-1 3h2m-1-3h2m0 1h2m-2 0h2m-2 0h2m-1 1h2m0-2h2m-2 1h2m-2 0h2m-1-1h2m-1 1h2m-2 1h2m-2 0h2m0-1h2m-2 2h2m-1 0h2m-1-2h2m-2 0h2m-1-1h2m-2 1h2m-1-1h2m-2 2h2m-1 0h2m-2 1h2m-1-2h2m-2 2h2m-2 0h2m-1-2h2m-1 2h2m-1-2h2m-2 1h2m0-2h2m-2 3h2m-1-1h2m-1-3h2m-1 1h2m-2 2h2m-1 0h2m-1-2h2m-2 2h2m-1 1h2m-1-3h2m-2 1h2m1-1h2m-1 2h2m-2 0h2m-1-1h2m-2 0h2m-2 0h2m-2 2h2m0-3h2m-2 2h2m0 0h2m-1-2h2m-1 1h2m-2 0h2m-2 0h2m-1-2h2m-2 2h2m-1-2h2m-2 4h2m-2 0h2m-1-3h2m-2 0h2m-2 1h2m-2 0h2m-2 0h2m-1 0h2m-2 2h2m-2 0h2m-1-3h2m-2 0h2m-1 0h2m-2 0h2m-2 1h2m0-1h2m-1 0h2m-1 0h2m-2 0h2m-2 0h2m-1 0h2m0 0h2m-1 0h2m0 1h2m-2 1h2m-2 0h2m-1-3h2m-2 3h2m-2 1h2m0-3h2m-2 3h2m-1-2h2m-1-1h2m-1 1h2m-1 1h2m-2 1h2m-1-2h2m-2 2h2m-1-3h2m-2 1h2m-1-1h2m-2 1h2m-2 1h2m-1-2h2m-2 0h2m-2 1h2m0-1h2m-2 2h2m-2 1h2m-1-2h2m-2 2h2m-1-3h2m0 3h2m-1-2h2m-1 0h2m0-1h2m-2 2h2m-1 0h2m-1 1h2m1-3h2m-1 0h2m-1 0h2m-2 1h2m-2 0h2m-1 0h2m-2 1h2m-1-3h2m-2 2h2m-1 0h2m-2 1h2m-2 0h2m-1-2h2m-2 2h2m-2 0h2m-1 0h2m-2 0h2m-1-2h2m-2 2h2" stroke="#111" stroke-width="2" stroke-opacity="0.8" fill="none"/><path transform="scale(.25)" d="M164 379h2m-1 1h2m-1 1h2m-2 0h2m-2 0h2m-2 2h2m-1-3h2m-1 0h2m-2 2h2m0-3h2m-1 0h2m-2 1h2m-2 2h2m-2 1h2m-1-3h2m-1 2h2m-2 1h2m-1-1h2m-1-1h2m-1-1h2m-2 3h2m0-1h2m1 0h2m0-3h2m-2 1h2m-2 3h2m-1-4h2m-2 0h2m-2 1h2m-2 2h2m-2 1h2m-1-3h2m-2 2h2m-2 0h2m-1-2h2m-2 2h2m-1-1h2m-1-2h2m-2 4h2m0-2h2m-1-1h2m-2 0h2m-2 1h2m-2 1h2m-2 0h2m-1-2h2m-2 0h2m-1 1h2m-2 1h2m-1-1h2m0 2h2m-1-2h2m-2 1h2m0-3h2m-2 0h2m-2 0h2m-2 1h2m-2 1h2m0 0h2m0 0h2m-2 0h2m-1-1h2m-1 1h2m-1-2h2m-2 2h2m-2 1h2m-2 1h2m-1-4h2m-2 4h2m-1-4h2m-2 1h2m-1 1h2m-1-1h2m-2 1h2m-1-2h2m-1 2h2m-2 0h2m-1 1h2m-2 0h2m-1 0h2m-1-3h2m-1 1h2m-2 2h2m-2 0h2m-1-3h2m-2 2h2m-2 1h2m-1 0h2m0-1h2m-1 0h2m-2 1h2m-1-3h2m0 0h2m-2 2h2m-1-2h2m-2 2h2m-2 0h2m-2 1h2m-1-2h2m0 0h2m-2 1h2m-2 1h2m-1-2h2m-2 0h2m-2 3h2m-1-4h2m-2 0h2m-1 1h2m-1 2h2m-1-3h2m-1 2h2m-2 2h2m-1-3h2m1 0h2m-1 2h2m0-3h2m-2 1h2m-2 1h2m0-2h2m-2 2h2m-2 2h2m-1-4h2m-2 1h2m0-1h2m-2 3h2m-2 1h2m-1 0h2m-1-3h2m-1 1h2m-1-1h2m-2 2h2m-2 0h2m-1-2h2m-2 2h2m-1-3h2m-1 1h2m-2 2h2m-2 0h2m0 0h2m-1-1h2m-2 1h2m-2 1h2m-1-4h2m-2 3h2m-2 0h2" stroke="#111" stroke-width="2" stroke-opacity="0.8" fill="none"/><path transform="scale(.25)" d="M163 359h2m-1-2h2m-2 2h2m0 0h2m-1-1h2m-1-2h2m-2 2h2m-1-2h2m-1 2h2m-2 0h2m0-2h2m-1 2h2m-1-3h2m-2 3h2m-2 0h2m-1-1h2m-2 1h2m-1-3h2m-2 2h2m-2 1h2m-2 1h2m-1-1h2m-1-2h2m-2 2h2m-1-2h2m-2 0h2m-1 0h2m-2 1h2m-2 0h2m-1 1h2m-1 0h2m-1 0h2m-1 0h2m-2 1h2m0-3h2m-2 1h2m-2 1h2m-1 0h2m-1 0h2m0-2h2m-2 2h2m-1 1h2m-1-1h2m-1 1h2m-1-1h2m-2 0h2m0 0h2m0-3h2m-2 2h2m-2 1h2m-2 1h2m-1-4h2m-2 1h2m-2 2h2m-1-2h2m-2 2h2m-2 0h2m-1-1h2m-2 1h2m-1-2h2m-1-1h2m-2 1h2m-1 1h2m-2 1h2m0 0h2m-1-3h2m-2 4h2m-1-2h2m-1-2h2m-2 1h2m-2 2h2m0-1h2m-2 0h2m-2 2h2m0-2h2m-1 0h2m0-1h2m-2 1h2m-1-1h2m-2 1h2m-2 1h2m-1-3h2m-2 1h2m2 1h2m-1-1h2m0 2h2m-1 0h2m-1 0h2m1-1h2m-1 0h2m-1-2h2m-1 4h2m-2 0h2m-2 0h2m0-2h2m-1-1h2m-2 2h2m-2 0h2m-1-2h2m0 1h2m-1 2h2m-1-1h2m-2 1h2m-1-3h2m-2 0h2m-2 0h2m-1 1h2m0 1h2m-1 1h2m0-3h2m-1 0h2m-1 0h2m-1 1h2m-1-2h2m-2 1h2m-2 3h2m0-4h2m0 2h2m-1-1h2m-2 1h2m-2 1h2" stroke="#555" stroke-width="2" stroke-opacity="0.45" fill="none"/><path transform="scale(.25)" d="M163 382h2m1 4h2m-1 8h2m1-7h2m-1-3h2m4-1h2m1 5h2m1-6h2m10 3h2m1 1h2m8-3h2m0-2h2m-2 12h2m0-10h2m0-2h2m-1 4h2m0 3h2m-1 35h2m-1-38h2m-1 30h2m12-29h2m-1 0h2m5-2h2m-1 12h2m-1-12h2m-1 8h2m0 10h2m2-21h2m0 1h2m-2 10h2" stroke="#333" stroke-width="2" stroke-opacity="0.6" fill="none"/><rect x="65" y="90" width="25" height="3.3" fill="#121212" fill-opacity="1.0"/><path transform="scale(.25)" d="M260 357h2m-1 1h2m-2 2h2m-2 0h2m-1-3h2m-2 1h2m-1 0h2m-2 2h2m-2 1h2m-1-3h2m-2 2h2m-2 0h2m-2 1h2m0-2h2m-1-2h2m-2 3h2m-2 0h2m-2 0h2m-1-3h2m-2 1h2m-2 1h2m-1 1h2m-2 0h2m-2 0h2m-1-2h2m-1-1h2m-2 3h2m-1-2h2m-1 3h2m-1-4h2m-2 1h2m-2 2h2m1-1h2m-2 1h2m-2 0h2m-1-2h2m-2 1h2m-2 0h2m-2 1h2m-1-2h2m-2 1h2m-1 0h2m-2 1h2m-1-2h2m-2 0h2m-2 1h2m-2 0h2m-1-1h2m-1 1h2m0 0h2m-2 2h2m0-1h2m-1-2h2m-1 2h2m-1-2h2m-2 0h2m-2 1h2m-1-2h2m-1 2h2m-2 0h2m-1-1h2m-2 0h2m-1 1h2m-2 0h2m-2 2h2m-1-3h2m-1-1h2m-2 1h2m-2 1h2m-1-1h2m-2 1h2m-1-1h2m-2 0h2m-2 3h2m-1-3h2m-2 3h2m1-3h2m-1 1h2m0-1h2m-1-1h2m-1 1h2m0 0h2m-2 0h2m-1-1h2m-2 2h2m-2 1h2m-1-1h2m-1 0h2m-2 2h2m0-3h2m-2 1h2m0-2h2m-1 0h2m-2 1h2m-2 1h2m-1-2h2m-2 1h2m-2 1h2m-1-2h2m-2 0h2m-2 3h2m-1-1h2m-2 0h2m-2 2h2m0-3h2m-2 0h2m0 0h2m-2 2h2m-1-2h2m-2 1h2m-2 2h2m0-3h2m-2 0h2m-2 2h2m-1-1h2m-2 1h2m-2 0h2m-1-3h2m-2 3h2m-1-1h2m-1 1h2m-2 1h2m-1 0h2m0-1h2m0 0h2m-1-2h2m-1 1h2m0 1h2m-2 0h2m-1-2h2m0-1h2m-2 2h2m-2 1h2m-1-3h2m-2 1h2m-2 0h2m0 0h2m-2 2h2m-1 0h2m-2 0h2m0 0h2m-2 1h2m0-3h2m0-1h2m-2 0h2m-1 0h2m-2 3h2m-1-3h2m-1 1h2m-1-1h2" stroke="#111" stroke-width="2" stroke-opacity="0.8" fill="none"/><path transform="scale(.25)" d="M261 375h2m-1-1h2m-2 1h2m-1-2h2m-2 2h2m-2 0h2m0-1h2m-2 2h2m-1-2h2m-2 0h2m-2 1h2m-1-1h2m-1 0h2m-1 1h2m-1 1h2m0-1h2m1-2h2m-2 1h2m-1-1h2m-1 0h2m-1 1h2m-1-1h2m-2 2h2m-1-1h2m-2 0h2m-1 0h2m-2 1h2m-2 1h2m-1-3h2m-2 1h2m-2 1h2m-2 1h2m0-2h2m-2 1h2m-1-2h2m-2 1h2m-2 1h2m-1-1h2m-2 2h2m-2 0h2m-2 0h2m1-2h2m-2 0h2m1-1h2m-2 1h2m0 0h2m-2 0h2m-1 0h2m-1 2h2m-1-2h2m-2 0h2m-1-1h2m-1 1h2m-1-1h2m-1 0h2m-2 3h2m-1-2h2m-2 1h2m-2 0h2m-1 1h2m-2 0h2m-2 0h2m-1-3h2m-2 1h2m0 1h2m-2 0h2m-1 1h2m-1-3h2m-1 1h2m-2 0h2m-1 0h2m-2 1h2m-1-2h2m-2 2h2m-1-2h2m-2 0h2m-1 1h2m-1-1h2m-1 0h2m-2 0h2m-2 3h2m-2 0h2m-1-2h2m0-1h2m-2 1h2m-1-1h2m-2 1h2m-2 0h2m-2 1h2m-2 1h2m0 0h2m-1-3h2m-2 1h2m-2 2h2m-2 0h2m-1-3h2m-2 2h2m-1 0h2m-1-1h2m-2 0h2m-2 2h2m-2 0h2m-1-1h2m-1-2h2m-1 2h2m-2 1h2m-2 0h2m1-2h2m-2 2h2m0-3h2m-2 2h2m-2 1h2m-1-2h2m-1 1h2m0 1h2m-1-1h2m-2 1h2m-2 0h2m-1-1h2m-2 1h2m0 0h2m-1-3h2m-2 0h2m-1 1h2m-1 0h2m-2 0h2m-1-1h2m-2 1h2m-2 1h2m-1-3h2m-1 2h2m-2 1h2m-2 0h2m-1 0h2m-2 1h2m-1-1h2m0-2h2m-1 1h2m-2 0h2m-2 0h2m-2 0h2m-2 1h2m-1-1h2m-2 2h2m-1-1h2m-1-2h2m-2 1h2m-2 1h2m0-1h2m-2 2h2" stroke="#111" stroke-width="2" stroke-opacity="0.8" fill="none"/><path transform="scale(.25)" d="M263 376h2m-2 5h2m-1-1h2m-1-4h2m-2 0h2m-1 4h2m-1-5h2m-2 4h2m-1-2h2m1 1h2m0-3h2m2 5h2m1-4h2m0 16h2m2-17h2m1 4h2m1-4h2m-1 1h2m-2 4h2m0 5h2m-2 14h2m7-23h2m4 4h2m0 21h2m-1-24h2m-2 3h2m7 2h2m0-5h2m-1 5h2m-2 4h2m-1-2h2m-2 16h2m1-25h2m-2 1h2m2 1h2m2-2h2m11 0h2m-1 0h2m-2 9h2m-2 10h2" stroke="#333" stroke-width="2" stroke-opacity="0.6" fill="none"/><rect x="90" y="90.3" width="22.7" height="3.6" fill="#121212" fill-opacity="1.0"/><path transform="scale(.25)" d="M360 361h2m-1-2h2m-2 1h2m-1-1h2m-2 2h2m-1-3h2m-2 2h2m-2 0h2m0 0h2m-1-1h2m-2 3h2m-2 0h2m0-3h2m-2 0h2m0 2h2m0-2h2m-1 1h2m-2 2h2m-1-1h2m-1-2h2m-2 0h2m-2 1h2m-2 0h2m-2 1h2m-1-1h2m-2 2h2m-1-4h2m2 3h2m-1 0h2m-2 0h2m-1-2h2m-2 1h2m-1-1h2m-2 1h2m-1 1h2m-1-1h2m-2 1h2m-1 0h2m-1-2h2m-1 1h2m-2 0h2m-2 1h2m-1 1h2m-1-2h2m-2 1h2m-1 1h2m-1-4h2m-1 1h2m0 2h2m-1-1h2m-1 2h2m-1-3h2m-2 0h2m-2 1h2m-1 2h2m-1-3h2m-2 1h2m-2 1h2m-1-2h2m-2 0h2m-2 1h2m-1-2h2m-2 3h2m-2 1h2m-1 0h2m-1-4h2m-2 4h2m-1 0h2m-1-3h2m-1-1h2m0 1h2m-2 1h2m-1-1h2m-1 0h2m-2 0h2m-2 0h2m-1 1h2m-2 1h2m0-2h2m-2 1h2m-2 1h2m-1-1h2m-1 0h2m-1 1h2m-2 1h2m-1-3h2m-1 1h2m-2 0h2m-1 0h2m-1 1h2m-1-3h2m-2 2h2m-1 0h2m-2 1h2m-1 0h2m0-2h2m-2 2h2m-1-1h2m-2 0h2m-1 1h2m-2 0h2m-1-1h2m-1-2h2m-2 1h2m-2 0h2m0 1h2m-1-1h2m-2 0h2m-2 1h2m-2 2h2m-1-4h2m-2 2h2m-2 0h2m-1-1h2m-2 1h2m-1-1h2m-2 2h2m-1-2h2m-1 0h2m-2 1h2m-2 1h2m-1-1h2m-2 1h2m0 1h2m-1-4h2m-2 2h2m-2 0h2m-2 0h2m-1-1h2m-2 2h2m0-3h2m-2 1h2m-1 2h2m-1-2h2m-2 0h2m-2 2h2" stroke="#111" stroke-width="2" stroke-opacity="0.8" fill="none"/><path transform="scale(.25)" d="M363 375h2m-2 1h2m-2 1h2m-2 1h2m-1-1h2m-2 2h2m-1-4h2m-2 2h2m-1-1h2m-2 2h2m-1-3h2m-2 2h2m-2 1h2m-2 1h2m-1-4h2m-2 3h2m-1 0h2m0 0h2m-2 0h2m-1-2h2m0 0h2m-1-1h2m0 2h2m-1-2h2m-2 0h2m-2 3h2m0-3h2m-2 1h2m-2 1h2m-2 0h2m-2 1h2m-2 0h2m-1-2h2m-2 1h2m-1-2h2m-2 1h2m-2 0h2m-1 0h2m0 0h2m-2 2h2m0-1h2m-2 1h2m-2 0h2m-1-3h2m-2 0h2m-2 0h2m-2 1h2m-1 0h2m-2 0h2m-2 2h2m-1-2h2m-1 2h2m0-3h2m-1 0h2m-2 1h2m-2 2h2m-1-3h2m-2 1h2m-2 1h2m-2 1h2m-1-3h2m-1 2h2m-2 0h2m-2 1h2m-1-1h2m-2 0h2m-1 0h2m-2 1h2m-2 1h2m-1-4h2m-1 2h2m-1-1h2m-2 1h2m-1 1h2m-1-1h2m-1 1h2m-2 0h2m0-2h2m-1 0h2m-1 2h2m-2 0h2m-1 0h2m-1 0h2m-1-3h2m-2 1h2m-1-1h2m1 2h2m0-2h2m0 2h2m-2 0h2m-2 2h2m-1-3h2m-2 1h2m-2 0h2m-1-1h2m-1-1h2m-2 1h2m-2 0h2m-2 3h2m0-3h2m-2 0h2m-2 0h2m-2 1h2m-1-2h2m-2 1h2m-2 1h2m2-1h2m-2 1h2m-2 0h2m-1-2h2m-2 1h2m-2 0h2m-2 0h2m0-1h2m-2 3h2m-2 1h2m-1-3h2m-2 1h2m-2 0h2m-1-1h2m-1 0h2m-1 0h2m-2 2h2m-1-3h2m1 2h2m-2 1h2m-1-2h2m-1 0h2m-2 2h2m-1-2h2m-2 2h2m-1-3h2m-1 0h2m-1 0h2m-2 3h2m-1-3h2" stroke="#111" stroke-width="2" stroke-opacity="0.8" fill="none"/><path transform="scale(.25)" d="M361 356h2m-1 0h2m-1 0h2m-2 2h2m-2 1h2m-1-3h2m-2 0h2m-1-1h2m-1 1h2m-1 0h2m-2 3h2m-1-1h2m-2 1h2m-1-3h2m-1 0h2m-2 1h2m-2 3h2m-1-2h2m-1-1h2m-2 0h2m-2 1h2m-1-1h2m-2 2h2m0-2h2m-2 0h2m1-1h2m-1 0h2m-2 3h2m-2 0h2m-2 1h2m-1-1h2m-2 0h2m-1-1h2m-2 2h2m-1-1h2m-1-3h2m-1 1h2m-1 1h2m-1-2h2m-1 1h2m-2 1h2m-2 1h2m1 0h2m-1-3h2m-2 0h2m-1-1h2m-2 3h2m-2 0h2m-1 1h2m-1-3h2m-2 1h2m-2 2h2m-2 1h2m-1-4h2m-2 1h2m-2 0h2m-2 2h2m2-4h2m-2 1h2m-2 3h2m-1-3h2m-2 1h2m-1 3h2m-1-4h2m-1 1h2m-1-1h2m-2 1h2m-2 2h2m-1-3h2m-2 0h2m0-1h2m-2 3h2m-2 1h2m-1-1h2m-1-2h2m-2 0h2m-2 0h2m-2 0h2m-2 1h2m-1-1h2m-2 4h2m-1-4h2m-2 2h2m1-1h2m-1 2h2m-1-2h2m-2 0h2m-2 1h2m-1-2h2m-1 2h2m-1 0h2m-2 1h2m-1-3h2m-2 1h2m-2 2h2m-1-4h2m-2 1h2m-2 2h2m-1-3h2m-2 3h2m-1-2h2m-2 0h2m-2 1h2m-1 2h2m0-3h2m-2 0h2m0 0h2m-2 1h2m-2 2h2m-1-3h2m-2 2h2m-1-2h2m-2 1h2m-1-2h2m-1 0h2m-2 4h2m-1-3h2m-2 3h2m-2 1h2m-1-4h2m-2 1h2m-1-2h2m-2 1h2m0 0h2m-2 4h2m-1-1h2m-2 0h2m0-3h2m-2 0h2m-1 3h2m0-3h2m-1 0h2m-2 0h2m-2 3h2m-1-1h2m1 0h2" stroke="#555" stroke-width="2" stroke-opacity="0.45" fill="none"/><path transform="scale(.25)" d="M363 386h2m0 3h2m5-9h2m-2 21h2m-1-24h2m3 3h2m-1 7h2m4-8h2m10 11h2m0-11h2m0-1h2m-2 26h2m-1-22h2m3 0h2m-1 32h2m-1-35h2m-1 24h2m13-7h2m0-12h2m14-5h2" stroke="#333" stroke-width="2" stroke-opacity="0.6" fill="none"/><rect x="112.7" y="89.5" width="18.3" height="2.6" fill="#121212" fill-opacity="1.0"/><path transform="scale(.25)" d="M451 357h2m-2 1h2m-1-1h2m-1 1h2m0-3h2m0 1h2m-2 2h2m-1-3h2m-1 1h2m-1 0h2m-2 2h2m-1-3h2m-2 0h2m-2 1h2m-2 2h2m0-1h2m-1 0h2m-2 0h2m-1-2h2m-1 2h2m-1-2h2m-2 2h2m-1-2h2m-2 4h2m-1-4h2m-2 0h2m-1 1h2m-2 2h2m0 0h2m-2 0h2m-1-2h2m-2 1h2m-2 0h2m-2 0h2m-1-1h2m-1 0h2m-2 2h2m-1-1h2m-2 1h2m-1-3h2m-2 2h2m-1 0h2m-1 1h2m1 0h2m0-1h2m-1-1h2m-2 1h2m-2 0h2m-2 0h2m1 1h2m-2 0h2m-1-3h2m-2 3h2m-1-2h2m-2 1h2m-2 2h2m-1-3h2m-1-1h2m-1 2h2m-2 1h2m-1-1h2m-2 2h2m-1-3h2m-2 3h2m0-2h2m-2 0h2m-2 2h2m-1-2h2m-2 2h2m-2 0h2m-1-4h2m-1 1h2m-1 3h2m-1-4h2m-2 1h2m-1 0h2m-2 2h2m-1-1h2m-2 0h2m-1 1h2m-1-3h2m-2 0h2m-2 0h2m-2 1h2m-2 2h2m-1-3h2m0 0h2m-2 3h2m-1-2h2m-2 2h2m-1-2h2m-1 1h2m-2 0h2m-1-2h2m-2 1h2m-1 2h2m-1-3h2m-1 0h2m-2 0h2m-2 1h2m-2 2h2m-2 0h2m-1-2h2m-2 0h2m-2 1h2m-1 0h2m-1 1h2m-1-1h2m-1 0h2" stroke="#111" stroke-width="2" stroke-opacity="0.8" fill="none"/><path transform="scale(.25)" d="M451 369h2m-2 1h2m-1 1h2m0-1h2m-1-2h2m-2 0h2m-2 1h2m-2 2h2m-1-3h2m-2 3h2m0-2h2m-2 2h2m-2 0h2m0-1h2m0-2h2m-2 1h2m-2 0h2m-2 1h2m-2 1h2m0-2h2m-2 2h2m-1-2h2m-2 0h2m-2 1h2m-1-2h2m-2 3h2m-1-3h2m-2 2h2m-2 1h2m-2 0h2m-1-2h2m-2 1h2m-2 0h2m-1 1h2m-1-3h2m-2 2h2m-1 0h2m-1-1h2m-1 2h2m-1-1h2m-2 0h2m-1-1h2m-2 2h2m-1-1h2m-1-1h2m-2 0h2m-2 2h2m-1-2h2m-2 2h2m1-2h2m-1 1h2m-1-2h2m-2 1h2m-1 0h2m-2 2h2m-2 1h2m-1-2h2m-2 1h2m-2 0h2m-1-2h2m-2 1h2m-1-1h2m-1 0h2m-1-1h2m-2 0h2m-2 2h2m-1-2h2m-2 1h2m-2 1h2m-1 0h2m-1-2h2m-1 1h2m-2 0h2m-1 1h2m-2 1h2m-2 0h2m-1 0h2m0 0h2m-2 0h2m-2 1h2m-2 0h2m-1-4h2m-1 4h2m-1-4h2m-2 2h2m-2 2h2m0-2h2m-1-1h2m-2 2h2m-1-1h2m-1 1h2m0 0h2m-1 0h2m-1-2h2m0-1h2m-2 2h2m1-1h2m-2 2h2m-1-3h2m-2 1h2m-2 0h2m-2 2h2m-1-2h2m-1-1h2m-2 2h2m-2 1h2m1-3h2m-2 1h2m-2 1h2" stroke="#111" stroke-width="2" stroke-opacity="0.8" fill="none"/><path transform="scale(.25)" d="M456 371h2m0 4h2m5-3h2m1-1h2m14-1h2m4 5h2m7 18h2m9 2h2" stroke="#333" stroke-width="2" stroke-opacity="0.6" fill="none"/><path transform="scale(.25)" d="M122 449h2m5 9h2m23-58h2m2 31h2m-1-44h2m1 68h2m11-11h2m72-54h2m-2 37h2m16 32h2m4-10h2m1-57h2m27 16h2m4 7h2m44-7h2m3 15h2m25 19h2m18-2h2m16 5h2m-1-10h2m23-13h2m1 40h2m17-69h2m43-6h2m-1 67h2" stroke="#777" stroke-width="2" stroke-opacity="0.6" fill="none"/><rect x="25.5" y="85.6" width="105.5" height="2" fill="#d846dc" fill-opacity="1.0"/><rect x="121" y="83.6" width="7" height="1.6" fill="#444" fill-opacity="0.6"/><rect x="25.5" y="47.7" width="105.5" height="69.1" fill="none" stroke="#8c8c8c" stroke-width=".7"/><line x1="25.5" y1="116.8" x2="131" y2="116.8" stroke="#666" stroke-width="1"/><line x1="25.5" y1="47.7" x2="25.5" y2="116.8" stroke="#888" stroke-width=".6"/><text x="57.4" y="43.2" font-size="7" font-weight="normal" text-anchor="start" fill="#141414" textLength="36.6" lengthAdjust="spacingAndGlyphs" stroke="#141414" stroke-width=".4">100ng total</text><text x="5.3" y="84" font-size="3.1" text-anchor="middle" fill="#1e1e1e" stroke="#1e1e1e" stroke-width=".12" textLength="20" lengthAdjust="spacingAndGlyphs" transform="rotate(-90 5.3 84)">Ch1 Amplitude</text><text x="28.75" y="126.2" font-size="5.4" font-weight="bold" text-anchor="start" fill="#141414" textLength="12.2" lengthAdjust="spacingAndGlyphs" stroke="#141414" stroke-width=".5">100%</text><text x="49.75" y="126.2" font-size="5.4" font-weight="bold" text-anchor="start" fill="#141414" textLength="9.2" lengthAdjust="spacingAndGlyphs" stroke="#141414" stroke-width=".5">10%</text><text x="75.75" y="126.2" font-size="5.4" font-weight="bold" text-anchor="start" fill="#141414" textLength="5.5" lengthAdjust="spacingAndGlyphs" stroke="#141414" stroke-width=".5">1%</text><text x="98.95" y="126.2" font-size="5.4" font-weight="bold" text-anchor="start" fill="#141414" textLength="10.8" lengthAdjust="spacingAndGlyphs" stroke="#141414" stroke-width=".5">0.1%</text><text x="120.85" y="126.2" font-size="5.4" font-weight="bold" text-anchor="start" fill="#141414" textLength="6.4" lengthAdjust="spacingAndGlyphs" stroke="#141414" stroke-width=".5">0%</text><text x="106.05" y="103.3" font-size="4.5" font-weight="bold" text-anchor="start" fill="#25a454" textLength="3.3" lengthAdjust="spacingAndGlyphs" stroke="#25a454" stroke-width=".3">R</text><text x="109.6" y="101.4" font-size="2.6" font-weight="bold" text-anchor="start" fill="#25a454" >2</text><text x="112.35" y="103.3" font-size="4.5" font-weight="bold" text-anchor="start" fill="#25a454" textLength="15.6" lengthAdjust="spacingAndGlyphs" stroke="#25a454" stroke-width=".3">0.9999</text><text x="106.05" y="114.6" font-size="4.5" font-weight="bold" text-anchor="start" fill="#25a454" textLength="21.2" lengthAdjust="spacingAndGlyphs" stroke="#25a454" stroke-width=".3">P &lt; 0.0001</text><rect x="156.5" y="47.7" width="104.7" height="69.3" fill="#f4f4f4" fill-opacity="1.0"/><text x="150.59" y="119.06" font-size="3.5" font-weight="bold" text-anchor="start" fill="#1a1a1a" textLength="2.09" lengthAdjust="spacingAndGlyphs" stroke="#1a1a1a" stroke-width=".25">0</text><line x1="155.5" y1="117.8" x2="156.5" y2="117.8" stroke="#888" stroke-width=".5"/><line x1="156.5" y1="109.05" x2="261.2" y2="109.05" stroke="#e4e4e4" stroke-width=".5"/><text x="143.56" y="110.31" font-size="3.5" font-weight="bold" text-anchor="start" fill="#1a1a1a" textLength="9.11" lengthAdjust="spacingAndGlyphs" stroke="#1a1a1a" stroke-width=".25">2000</text><line x1="155.5" y1="109.05" x2="156.5" y2="109.05" stroke="#888" stroke-width=".5"/><line x1="156.5" y1="100.3" x2="261.2" y2="100.3" stroke="#e4e4e4" stroke-width=".5"/><text x="143.56" y="101.56" font-size="3.5" font-weight="bold" text-anchor="start" fill="#1a1a1a" textLength="9.11" lengthAdjust="spacingAndGlyphs" stroke="#1a1a1a" stroke-width=".25">4000</text><line x1="155.5" y1="100.3" x2="156.5" y2="100.3" stroke="#888" stroke-width=".5"/><line x1="156.5" y1="91.55" x2="261.2" y2="91.55" stroke="#e4e4e4" stroke-width=".5"/><text x="143.56" y="92.81" font-size="3.5" font-weight="bold" text-anchor="start" fill="#1a1a1a" textLength="9.11" lengthAdjust="spacingAndGlyphs" stroke="#1a1a1a" stroke-width=".25">6000</text><line x1="155.5" y1="91.55" x2="156.5" y2="91.55" stroke="#888" stroke-width=".5"/><line x1="156.5" y1="82.8" x2="261.2" y2="82.8" stroke="#e4e4e4" stroke-width=".5"/><text x="143.56" y="84.06" font-size="3.5" font-weight="bold" text-anchor="start" fill="#1a1a1a" textLength="9.11" lengthAdjust="spacingAndGlyphs" stroke="#1a1a1a" stroke-width=".25">8000</text><line x1="155.5" y1="82.8" x2="156.5" y2="82.8" stroke="#888" stroke-width=".5"/><line x1="156.5" y1="74.05" x2="261.2" y2="74.05" stroke="#e4e4e4" stroke-width=".5"/><text x="141.23" y="75.31" font-size="3.5" font-weight="bold" text-anchor="start" fill="#1a1a1a" textLength="11.45" lengthAdjust="spacingAndGlyphs" stroke="#1a1a1a" stroke-width=".25">10000</text><line x1="155.5" y1="74.05" x2="156.5" y2="74.05" stroke="#888" stroke-width=".5"/><line x1="156.5" y1="65.3" x2="261.2" y2="65.3" stroke="#e4e4e4" stroke-width=".5"/><text x="141.23" y="66.56" font-size="3.5" font-weight="bold" text-anchor="start" fill="#1a1a1a" textLength="11.45" lengthAdjust="spacingAndGlyphs" stroke="#1a1a1a" stroke-width=".25">12000</text><line x1="155.5" y1="65.3" x2="156.5" y2="65.3" stroke="#888" stroke-width=".5"/><line x1="156.5" y1="56.55" x2="261.2" y2="56.55" stroke="#e4e4e4" stroke-width=".5"/><text x="141.23" y="57.81" font-size="3.5" font-weight="bold" text-anchor="start" fill="#1a1a1a" textLength="11.45" lengthAdjust="spacingAndGlyphs" stroke="#1a1a1a" stroke-width=".25">14000</text><line x1="155.5" y1="56.55" x2="156.5" y2="56.55" stroke="#888" stroke-width=".5"/><text x="141.23" y="49.06" font-size="3.5" font-weight="bold" text-anchor="start" fill="#1a1a1a" textLength="11.45" lengthAdjust="spacingAndGlyphs" stroke="#1a1a1a" stroke-width=".25">16000</text><line x1="155.5" y1="47.8" x2="156.5" y2="47.8" stroke="#888" stroke-width=".5"/><line x1="169.59" y1="47.7" x2="169.59" y2="117" stroke="#e4e4e4" stroke-width=".5"/><line x1="169.59" y1="117" x2="169.59" y2="118" stroke="#666" stroke-width=".6"/><line x1="182.68" y1="47.7" x2="182.68" y2="117" stroke="#e4e4e4" stroke-width=".5"/><line x1="182.68" y1="117" x2="182.68" y2="118" stroke="#666" stroke-width=".6"/><line x1="195.76" y1="47.7" x2="195.76" y2="117" stroke="#e4e4e4" stroke-width=".5"/><line x1="195.76" y1="117" x2="195.76" y2="118" stroke="#666" stroke-width=".6"/><line x1="208.85" y1="47.7" x2="208.85" y2="117" stroke="#e4e4e4" stroke-width=".5"/><line x1="208.85" y1="117" x2="208.85" y2="118" stroke="#666" stroke-width=".6"/><line x1="221.94" y1="47.7" x2="221.94" y2="117" stroke="#e4e4e4" stroke-width=".5"/><line x1="221.94" y1="117" x2="221.94" y2="118" stroke="#666" stroke-width=".6"/><line x1="235.02" y1="47.7" x2="235.02" y2="117" stroke="#e4e4e4" stroke-width=".5"/><line x1="235.02" y1="117" x2="235.02" y2="118" stroke="#666" stroke-width=".6"/><line x1="248.11" y1="47.7" x2="248.11" y2="117" stroke="#e4e4e4" stroke-width=".5"/><line x1="248.11" y1="117" x2="248.11" y2="118" stroke="#666" stroke-width=".6"/><line x1="177" y1="47.7" x2="177" y2="117" stroke="#efeec0" stroke-width=".8"/><line x1="199.5" y1="47.7" x2="199.5" y2="117" stroke="#efeec0" stroke-width=".8"/><line x1="221.1" y1="47.7" x2="221.1" y2="117" stroke="#efeec0" stroke-width=".8"/><line x1="238.7" y1="47.7" x2="238.7" y2="117" stroke="#efeec0" stroke-width=".8"/><path transform="scale(.25)" d="M626 230h3m-2 2h3m-3 1h3m-3 3h3m-3 6h3m-3 4h3m-3 1h3m-2-17h3m-3 1h3m-3 2h3m-3 1h3m-3 1h3m-3 4h3m-3 0h3m-3 5h3m-2-12h3m-3 1h3m-3 3h3m-3 4h3m-3 0h3m-3 0h3m-2-20h3m-3 11h3m-3 2h3m-3 12h3m-3 8h3m-2-30h3m-3 8h3m-3 2h3m-3 0h3m-3 3h3m-3 4h3m-3 2h3m-3 6h3m-2-21h3m-3 7h3m-3 1h3m-3 1h3m-3 3h3m-3 3h3m-3 3h3m-2-7h3m-3 2h3m-3 2h3m-3 4h3m-3 0h3m-2-17h3m-3 10h3m-3 2h3m-2 0h3m-3 0h3m-3 2h3m-2-22h3m-3 17h3m-3 7h3m-3 0h3m-3 3h3m-2-23h3m-3 2h3m-3 6h3m-3 3h3m-3 1h3m-3 0h3m-3 1h3m-3 7h3m-2-23h3m-3 8h3m-3 2h3m-3 4h3m-3 6h3m-3 2h3m-3 6h3m-2-20h3m-3 4h3m-3 1h3m-3 1h3m-3 1h3m-3 2h3m-3 4h3m-3 3h3m-2-24h3m-3 13h3m-3 0h3m-3 2h3m-3 4h3m-2-5h3m-3 2h3m-3 1h3m-3 4h3m-3 2h3m-3 7h3m-2-23h3m-3 8h3m-3 0h3m-3 6h3m-3 0h3m-3 11h3m-2-28h3m-3 1h3m-3 2h3m-3 9h3m-3 4h3m-3 0h3m-3 2h3m-2-12h3m-2-7h3m-3 2h3m-3 3h3m-3 5h3m-3 3h3m-3 0h3m-3 0h3m-3 9h3m-2-16h3m-3 4h3m-3 2h3m-3 1h3m-3 1h3m-3 3h3m-3 5h3m-2-15h3m-3 2h3m-3 5h3m-3 4h3m-3 0h3m-3 9h3m-2-27h3m-3 0h3m-3 4h3m-3 1h3m-3 15h3m-2-12h3m-3 3h3m-3 5h3m-3 8h3m-2-21h3m-3 11h3m-3 2h3m-3 0h3m-3 9h3m-3 1h3m-2-23h3m-3 3h3m-3 2h3m-3 3h3m-3 1h3m-3 4h3m-3 3h3m-3 0h3m-3 2h3m-2-19h3m-3 4h3m-3 2h3m-3 0h3m-3 3h3m-3 4h3m-3 4h3m-2-13h3m-3 8h3m-2-9h3m-3 2h3m-3 5h3m-3 2h3m-3 11h3m-2-27h3m-3 5h3m-3 3h3m-3 6h3m-3 6h3m-3 4h3m-2-19h3m-3 7h3m-3 2h3m-3 1h3m-3 3h3m-3 4h3m-3 3h3m-2-20h3m-3 4h3m-3 0h3m-3 7h3m-3 1h3m-3 3h3m-3 3h3m-3 1h3m-2-22h3m-3 21h3m-2-20h3m-3 6h3m-3 1h3m-3 4h3m-3 1h3m-3 2h3m-3 1h3m-3 6h3m-2-11h3m-3 8h3m-3 8h3m-2-25h3m-3 11h3m-3 7h3m-3 1h3m-3 9h3m-2-28h3m-3 8h3m-3 1h3m-3 4h3m-3 3h3m-2-6h3m-3 14h3m-2-27h3m-3 22h3m-3 3h3m-3 2h3m-2-19h3m-3 4h3m-3 2h3m-3 4h3m-3 3h3m-3 2h3m-2-11h3m-3 1h3m-3 1h3m-3 3h3m-2-11h3m-3 3h3m-3 6h3m-3 1h3m-3 7h3m-2-4h3m-3 0h3m-2-18h3m-3 3h3m-3 1h3m-3 3h3m-3 2h3m-3 2h3m-3 1h3m-3 10h3m-2-15h3m-3 2h3m-3 1h3m-3 2h3m-3 1h3m-3 4h3m-2-12h3m-3 1h3m-3 2h3m-3 2h3m-3 5h3m-3 0h3m-3 5h3m-3 3h3m-2-13h3m-3 2h3m-3 1h3m-3 17h3m-2-20h3m-3 2h3m-3 6h3m-3 1h3m-3 0h3m-2-1h3m-3 3h3m-2-12h3m-3 1h3m-3 10h3m-3 1h3m-2-11h3m-3 0h3m-2-3h3m-3 0h3m-3 2h3m-3 12h3m-3 1h3m-2-14h3m-3 5h3m-3 2h3m-3 4h3m-3 1h3m-3 1h3m-2-18h3m-3 7h3m-3 1h3m-3 2h3m-3 2h3m-3 8h3m-2-12h3m-3 5h3m-2-13h3m-3 10h3m-2-5h3m-3 2h3m-3 3h3m-3 0h3m-3 0h3m-3 4h3m-3 3h3m-3 3h3m-2-18h3m-3 1h3m-3 2h3m-3 2h3m-3 5h3m-2-8h3m-3 5h3m-3 3h3m-3 10h3m-2-20h3m-3 6h3m-3 5h3m-3 1h3m-2-10h3m-3 2h3m-3 0h3m-3 5h3m-3 2h3m-3 1h3m-3 0h3m-3 2h3m-3 0h3m-3 2h3m-2-12h3m-3 0h3m-3 3h3m-3 4h3m-3 5h3m-2-5h3m-3 5h3m-3 0h3m-3 7h3m-2-21h3m-3 0h3m-3 2h3m-3 6h3m-3 7h3m-2-20h3m-3 4h3m-3 1h3m-3 3h3m-3 3h3m-3 4h3m-3 1h3m-3 0h3m-2-13h3m-3 1h3m-3 4h3m-3 1h3m-3 2h3m-3 2h3m-3 5h3m-2-15h3m-3 2h3m-3 2h3m-3 4h3m-3 0h3m-3 6h3m-2-23h3m-3 5h3m-3 6h3m-3 2h3m-3 5h3m-3 4h3m-3 1h3m-2-14h3m-3 5h3m-3 11h3m-3 1h3m-2-18h3m-3 2h3m-3 3h3m-3 12h3m-2-22h3m-3 11h3m-3 7h3m-3 1h3m-2-13h3m-3 5h3m-3 0h3m-3 1h3m-2-6h3m-3 7h3m-3 2h3m-3 1h3m-3 4h3m-2-8h3m-3 0h3m-3 2h3m-3 0h3m-3 1h3m-3 5h3m-3 3h3m-2-13h3m-3 2h3m-3 5h3m-3 2h3m-3 0h3m-3 6h3m-2-14h3m-3 3h3m-3 1h3m-3 0h3m-3 3h3m-3 0h3m-2-9h3m-3 4h3m-3 1h3m-3 7h3m-2-12h3m-3 7h3m-3 4h3m-3 0h3m-2-19h3m-3 13h3" stroke="#1860cc" stroke-width="3" stroke-opacity="0.85" fill="none"/><path transform="scale(.25)" d="M626 247h3m-2-9h3m-2-7h3m-3 12h3m-2-13h3m-3 16h3m-3 2h3m-2-20h3m-3 3h3m-3 2h3m-3 8h3m-2 10h3m-2-29h3m-3 2h3m-3 6h3m-3 2h3m-3 6h3m-3 5h3m-3 5h3m-2-26h3m-3 15h3m-2-13h3m-3 4h3m-3 19h3m-2-26h3m-3 11h3m-3 8h3m-3 6h3m-2-22h3m-3 12h3m-2-16h3m-3 10h3m-2-8h3m-3 3h3m-3 17h3m-3 6h3m-2-27h3m-3 4h3m-3 16h3m-3 10h3m-3 2h3m-2-26h3m-3 4h3m-2 12h3m-3 7h3m-2-16h3m-2-4h3m-3 15h3m-2-10h3m-3 17h3m-2-17h3m-2-15h3m-3 14h3m-3 1h3m-2 0h3m-3 1h3m-3 9h3m-2-21h3m-2 15h3m-2-10h3m-3 21h3m-2-21h3m-3 2h3m-3 1h3m-3 4h3m-3 9h3m-3 3h3m-2-15h3m-3 0h3m-3 10h3m-2-11h3m-3 2h3m-2-14h3m-3 10h3m-3 3h3m-3 6h3m-2-3h3m-2-11h3m-3 10h3m-3 1h3m-3 14h3m-2-7h3m-3 10h3m-2-3h3m-3 4h3m-2-33h3m-3 7h3m-2-7h3m-3 16h3m-3 4h3m-3 5h3m-3 4h3m-2-25h3m-3 2h3m-3 12h3m-3 14h3m-2-11h3m-2-1h3m-2 3h3m-2-17h3m-3 17h3m-2 2h3m-2-25h3m-3 9h3m-1-4h3m-3 1h3m-3 4h3m-3 19h3m-1-15h3m-3 18h3m-2-23h3m-3 14h3m-2-13h3m-3 5h3m-2-3h3m-3 2h3m-3 0h3m-3 5h3m-2-5h3m-3 13h3m-3 2h3m-3 1h3m-3 3h3m-2-28h3m-2-5h3m-3 13h3m-2-5h3m-3 8h3m-3 8h3m-3 0h3m-3 3h3m-3 0h3m-2-21h3m-3 12h3m-3 2h3m-3 11h3m-3 0h3m-2-23h3m-3 13h3m-3 9h3m-2-24h3m-3 4h3m-3 6h3m-2-15h3m-3 9h3m-3 12h3m-3 2h3m-3 6h3m-2-27h3m-3 20h3m-3 5h3m-3 2h3m-2-16h3m-3 1h3m-3 12h3m-2-18h3m-3 5h3m-3 2h3m-3 7h3m-3 1h3m-3 4h3m-2-26h3m-3 14h3m-3 13h3m-3 1h3m-2-27h3m-3 8h3m-3 4h3m-2 16h3m-2-30h3m-3 0h3m-3 5h3m-3 1h3m-3 1h3m-2 3h3m-3 4h3m-3 14h3m-3 4h3m-2-34h3m-3 7h3m-3 4h3m-3 22h3m-2-22h3m-3 9h3m-3 6h3m-3 6h3m-2-7h3m-3 9h3m-2-27h3m-3 17h3m-3 3h3m-3 3h3m-2-27h3m-3 18h3m-2-19h3m-3 10h3m-3 2h3m-3 1h3m-3 1h3m-2-14h3m-3 19h3m-3 13h3m-2-33h3m-3 7h3m-3 4h3m-2-10h3m-3 16h3m-3 7h3m-3 1h3m-2-26h3m-3 9h3m-3 7h3m-2-6h3m-3 3h3m-3 9h3m-3 4h3m-2-16h3m-3 3h3m-3 7h3m-3 5h3" stroke="#1860cc" stroke-width="3" stroke-opacity="0.8" fill="none"/><path transform="scale(.25)" d="M626 267h3m-3 13h3m-3 5h3m-2-28h3m-3 1h3m-3 2h3m-3 17h3m-2-20h3m-3 2h3m-3 24h3m-2-28h3m-3 0h3m-3 2h3m-3 11h3m-3 2h3m-1 7h3m-3 1h3m-3 7h3m-2-30h3m-3 6h3m-3 1h3m-3 15h3m-3 6h3m-2-21h3m-3 3h3m-3 2h3m-3 8h3m-3 1h3m-2-16h3m-3 1h3m-3 5h3m-3 2h3m-3 7h3m-3 1h3m-2-15h3m-3 24h3m-2-16h3m-3 6h3m-3 10h3m-3 0h3m-2-24h3m-3 7h3m-2-11h3m-3 2h3m-3 7h3m-3 1h3m-3 1h3m-3 4h3m-3 1h3m-2-17h3m-3 2h3m-3 13h3m-2-15h3m-3 22h3m-3 6h3m-2-26h3m-3 20h3m-3 2h3m-2-19h3m-3 10h3m-3 1h3m-3 11h3m-2-29h3m-3 4h3m-3 1h3m-2-5h3m-3 2h3m-3 0h3m-3 9h3m-3 8h3m-2-13h3m-3 5h3m-2-7h3m-3 16h3m-3 1h3m-3 4h3m-2-22h3m-3 3h3m-3 10h3m-3 10h3m-3 4h3m-2-8h3m-2-21h3m-3 14h3m-3 12h3m-2-8h3m-3 2h3m-3 10h3m-2-24h3m-3 5h3m-3 6h3m-3 8h3m-2-21h3m-3 10h3m-3 5h3m-3 1h3m-2-9h3m-3 13h3m-2-22h3m-3 17h3m-3 9h3m-2-29h3m-3 17h3m-3 9h3m-2-7h3m-3 3h3m-3 4h3m-2-15h3m-3 13h3m-2-6h3m-2-12h3m-3 11h3m-3 3h3m-2-19h3m-3 12h3m-3 2h3m-2-2h3m-3 5h3m-3 9h3m-3 0h3m-3 4h3m-2-22h3m-3 5h3m-3 7h3m-2-18h3m-3 2h3m-3 7h3m-3 6h3m-2-18h3m-3 21h3m-3 10h3m-2-16h3m-3 6h3m-3 3h3m-2-21h3m-3 24h3m-2-6h3m-3 1h3m-3 2h3m-2-21h3m-3 8h3m-3 5h3m-3 4h3m-2-2h3m-2-13h3m-3 11h3m-3 10h3m-2-9h3m-3 4h3m-3 1h3m-2-19h3m-3 11h3m-3 0h3m-3 17h3m-1-27h3m-3 9h3m-3 12h3m-1-4h3m-2-16h3m-3 0h3m-2-4h3m-3 23h3m-2-23h3m-3 7h3m-2 6h3m-3 10h3m-3 2h3m-3 4h3m-2-28h3m-3 9h3m-3 2h3m-3 4h3m-2-16h3m-3 7h3m-3 18h3m-2-18h3m-3 5h3m-2 2h3m-3 10h3m-2-20h3m-3 11h3m-3 7h3m-2-10h3m-3 9h3m-2 1h3m-3 3h3m-3 4h3m-2-24h3m-3 4h3m-3 14h3m-3 5h3m-2-23h3m-3 4h3m-2 21h3m-2-3h3m-2-22h3m-3 9h3m-3 13h3m-2-19h3m-3 5h3m-2-5h3m-3 15h3m-3 1h3m-3 2h3m-2-4h3m-3 1h3m-3 4h3m-2-24h3m-3 24h3m-2-13h3m-2-14h3m-3 8h3m-3 1h3m-3 3h3m-3 17h3m-2-15h3m-3 5h3m-2-17h3m-3 1h3m-3 7h3m-3 9h3m-3 5h3m-2-18h3m-3 9h3m-3 14h3m-2-1h3m-2-5h3m-3 3h3m-3 2h3m-2-21h3" stroke="#1860cc" stroke-width="3" stroke-opacity="0.7" fill="none"/><path transform="scale(.25)" d="M626 287h3m-3 12h3m-3 9h3m-3 9h3m-2-30h3m-3 2h3m-3 1h3m-3 5h3m-3 7h3m-3 15h3m-2-28h3m-3 3h3m-3 5h3m-3 2h3m-3 12h3m-3 4h3m-2-22h3m-3 16h3m-2-17h3m-3 8h3m-3 1h3m-3 1h3m-3 0h3m-3 15h3m-2-26h3m-3 24h3m-2-21h3m-3 12h3m-3 5h3m-3 2h3m-2-16h3m-3 12h3m-3 3h3m-3 3h3m-3 0h3m-2-25h3m-3 12h3m-3 3h3m-3 2h3m-3 8h3m-2-26h3m-3 2h3m-3 1h3m-3 4h3m-3 2h3m-3 10h3m-3 0h3m-3 0h3m-3 7h3m-3 3h3m-2-32h3m-3 12h3m-3 9h3m-3 2h3m-3 1h3m-3 4h3m-3 4h3m-2-27h3m-3 1h3m-3 1h3m-3 7h3m-3 0h3m-3 5h3m-3 0h3m-3 7h3m-3 1h3m-3 5h3m-2-30h3m-3 0h3m-3 3h3m-3 7h3m-2-9h3m-3 19h3m-2-20h3m-3 1h3m-3 3h3m-3 1h3m-3 2h3m-3 12h3m-3 8h3m-2-24h3m-3 0h3m-3 4h3m-3 8h3m-3 5h3m-2-9h3m-3 2h3m-3 1h3m-3 7h3m-3 3h3m-2-26h3m-3 2h3m-3 0h3m-3 0h3m-3 3h3m-3 5h3m-3 1h3m-3 10h3m-3 6h3m-3 3h3m-3 1h3m-2-26h3m-3 17h3m-3 8h3m-2-9h3m-3 8h3m-2-27h3m-3 3h3m-3 19h3m-3 4h3m-3 0h3m-3 1h3m-3 0h3m-3 2h3m-2-20h3m-3 2h3m-3 8h3m-3 11h3m-2-31h3m-3 2h3m-3 13h3m-3 6h3m-3 8h3m-2-28h3m-3 11h3m-3 3h3m-3 14h3m-3 2h3m-3 0h3m-2-31h3m-3 1h3m-3 13h3m-3 0h3m-3 6h3m-3 7h3m-3 1h3m-2-19h3m-3 8h3m-3 5h3m-2-22h3m-3 3h3m-3 2h3m-3 0h3m-3 13h3m-3 2h3m-3 2h3m-3 4h3m-3 1h3m-3 1h3m-2-25h3m-3 5h3m-2-4h3m-3 1h3m-3 1h3m-3 8h3m-3 9h3m-3 5h3m-2-29h3m-3 17h3m-3 5h3m-3 1h3m-3 5h3m-2-28h3m-3 14h3m-3 3h3m-2-15h3m-3 19h3m-3 0h3m-3 5h3m-3 5h3m-2-28h3m-3 1h3m-3 2h3m-3 2h3m-3 13h3m-3 1h3m-3 3h3m-3 0h3m-2-20h3m-3 15h3m-3 1h3m-3 4h3m-3 0h3m-2-23h3m-3 4h3m-3 14h3m-2-19h3m-3 6h3m-3 1h3m-3 9h3m-3 9h3m-2-23h3m-3 1h3m-3 5h3m-3 6h3m-3 6h3m-3 2h3m-3 5h3m-3 0h3m-2-19h3m-3 5h3m-3 0h3m-3 15h3m-2-26h3m-3 29h3m-2-23h3m-3 1h3m-3 10h3m-3 11h3m-2-22h3m-3 12h3m-3 3h3m-3 7h3m-2-24h3m-3 3h3m-3 4h3m-3 8h3m-3 2h3m-3 3h3m-3 4h3m-2-10h3m-3 9h3m-2-27h3m-3 5h3m-3 3h3m-3 15h3m-2-20h3m-3 0h3m-3 10h3m-2 11h3m-3 2h3m-2-20h3m-3 17h3m-3 2h3m-2-28h3m-3 11h3m-3 3h3m-3 3h3m-3 12h3m-3 3h3m-2-24h3m-3 16h3m-3 2h3m-2-26h3m-3 15h3m-3 0h3m-3 3h3m-3 3h3m-3 7h3m-3 0h3m-2-28h3m-3 1h3m-3 2h3m-3 5h3m-3 6h3m-3 11h3m-2-20h3m-3 3h3m-3 5h3m-3 3h3m-3 2h3m-3 7h3m-2-22h3m-3 12h3m-3 1h3m-3 5h3m-3 5h3m-3 1h3m-3 5h3m-2-28h3m-3 7h3m-3 5h3m-3 10h3m-2-25h3m-3 6h3m-3 13h3m-3 9h3m-2-28h3m-3 14h3m-3 7h3m-3 3h3m-2-2h3m-2-20h3m-3 8h3m-3 1h3m-3 13h3m-3 7h3m-2-31h3m-3 19h3m-3 3h3m-3 4h3m-2-19h3m-3 0h3m-3 11h3m-3 6h3m-3 7h3m-2-26h3m-3 1h3m-2-5h3m-3 0h3m-3 3h3m-3 13h3m-2-14h3m-3 3h3m-3 1h3m-3 3h3m-3 9h3m-3 2h3m-3 9h3m-2-30h3m-3 20h3m-3 10h3m-2-28h3m-3 5h3m-3 3h3m-3 14h3m-3 1h3m-3 3h3m-3 0h3m-2-23h3m-3 0h3m-3 2h3m-3 4h3m-3 1h3m-3 1h3m-3 4h3m-3 7h3m-3 4h3m-2-14h3m-3 4h3m-3 8h3m-3 2h3m-2-2h3m-3 3h3m-2-27h3m-3 6h3m-3 1h3m-3 5h3m-3 2h3m-3 10h3m-2-27h3m-3 14h3m-3 5h3m-2-14h3m-3 13h3m-3 5h3m-3 0h3m-3 7h3m-2-11h3m-3 4h3m-3 4h3m-2-19h3m-3 12h3m-3 2h3m-3 6h3m-2-25h3m-3 1h3m-3 10h3m-3 18h3m-2-16h3m-3 6h3m-3 8h3m-3 2h3m-2-25h3m-3 8h3m-3 2h3m-3 6h3m-3 6h3m-2-26h3m-3 11h3m-3 4h3m-3 6h3m-3 4h3m-3 2h3m-2-29h3m-3 2h3m-3 0h3m-3 15h3m-2-12h3m-3 17h3" stroke="#1860cc" stroke-width="3" stroke-opacity="0.85" fill="none"/><path transform="scale(.25)" d="M627 300h3m-3 5h3m-3 6h3m-2-22h3m-3 3h3m-3 7h3m-3 3h3m-3 13h3m-2-27h3m-3 12h3m-3 3h3m-3 11h3m-2-21h3m-3 4h3m-3 0h3m-3 1h3m-2 13h3m-1-6h3m-2 0h3m-2-6h3m-3 3h3m-2 3h3m-3 4h3m-3 4h3m-2-27h3m-3 15h3m-3 6h3m-2-15h3m-3 11h3m-3 3h3m-2-5h3m-3 6h3m-2-5h3m-3 5h3m-2-13h3m-3 2h3m-3 10h3m-2-4h3m-3 1h3m-3 10h3m-2-2h3m-2-6h3m-3 2h3m-3 2h3m-3 1h3m-2-16h3m-3 4h3m-3 0h3m-3 2h3m-3 4h3m-2-15h3m-3 10h3m-3 4h3m-3 2h3m-3 8h3m-3 6h3m-3 2h3m-2-26h3m-3 11h3m-3 0h3m-3 11h3m-2-19h3m-3 11h3m-3 3h3m-2-19h3m-3 1h3m-3 10h3m-3 10h3m-3 2h3m-3 6h3m-2-29h3m-3 6h3m-3 0h3m-2-4h3m-3 3h3m-3 6h3m-3 3h3m-3 0h3m-3 5h3m-3 6h3m-3 2h3m-2-10h3m-2-21h3m-3 0h3m-3 4h3m-3 4h3m-3 1h3m-3 3h3m-3 8h3m-2-21h3m-3 15h3m-3 1h3m-3 13h3m-2-22h3m-3 3h3m-3 4h3m-3 2h3m-3 7h3m-2-5h3m-2-3h3m-2-13h3m-3 7h3m-3 1h3m-3 1h3m-3 0h3m-3 10h3m-2-15h3m-3 2h3m-3 3h3m-3 7h3m-3 3h3m-3 7h3m-1-15h3m-3 10h3m-2-22h3m-2 4h3m-3 8h3m-3 4h3m-3 7h3m-3 1h3m-2 6h3m-3 3h3m-2-30h3m-3 2h3m-2 1h3m-3 3h3m-3 1h3m-3 5h3m-3 5h3m-3 5h3m-2-13h3m-2-6h3m-3 2h3m-3 2h3m-3 5h3m-3 8h3m-2-12h3m-3 3h3m-3 2h3m-3 10h3m-2-17h3m-3 2h3m-3 5h3m-3 2h3m-3 3h3m-2-20h3m-3 5h3m-3 6h3m-3 4h3m-3 0h3m-2-6h3m-3 8h3m-3 4h3m-2-18h3m-3 10h3m-2-2h3m-3 3h3m-2-21h3m-3 14h3m-3 2h3m-3 1h3m-3 4h3m-3 7h3m-1-14h3m-2 15h3m-2-9h3m-3 5h3m-2-16h3m-3 9h3m-2-8h3m-3 8h3m-3 2h3m-2-6h3m-2-10h3m-3 4h3m-3 2h3m-3 4h3m-2-5h3m-3 5h3m-3 5h3m-3 6h3m-3 1h3m-2-11h3m-3 1h3m-3 2h3m-3 2h3m-3 1h3m-3 10h3m-2-22h3m-3 9h3m-3 8h3m-2-23h3m-3 15h3m-3 2h3m-2-12h3m-3 7h3m-3 1h3m-3 0h3m-3 16h3m-2-28h3m-3 10h3m-3 14h3m-3 0h3m-2-10h3m-3 6h3m-3 8h3m-2-25h3m-3 10h3m-2 13h3m-3 2h3m-3 6h3m-2-38h3m-3 8h3m-3 26h3m-2-29h3m-3 14h3m-3 1h3m-1 10h3m-2-18h3m-2-4h3m-3 6h3m-3 4h3m-2-1h3m-3 1h3m-3 6h3m-2-7h3m-3 2h3m-3 4h3m-2-13h3m-3 8h3m-3 8h3m-3 0h3m-3 2h3m-2-19h3m-3 3h3m-3 6h3m-3 2h3m-3 6h3m-2-7h3m-3 3h3" stroke="#1860cc" stroke-width="3" stroke-opacity="0.85" fill="none"/><path transform="scale(.25)" d="M626 329h3m-2 14h3m-2-10h3m-2 8h3m-3 1h3m-3 1h3m-2-21h3m-3 13h3m-2-9h3m-3 3h3m-3 10h3m-2-14h3m-3 18h3m-1-22h3m-3 18h3m-2-19h3m-3 12h3m-3 6h3m-3 3h3m-2-15h3m-2 12h3m-3 0h3m-2-8h3m-3 2h3m-2 9h3m-2-16h3m-3 6h3m-3 7h3m-3 3h3m-3 3h3m-2-8h3m-3 7h3m-2-12h3m-3 13h3m-1-16h3m-3 3h3m-2-12h3m-2 13h3m-3 2h3m-2-13h3m-3 18h3m-2-15h3m-3 3h3m-3 1h3m-2 5h3m-2-9h3m-3 2h3m-2 2h3m-2 1h3m-2 2h3m-3 3h3m-2-2h3m-3 4h3m-1-8h3m-3 12h3m-3 1h3m-2-21h3m-3 4h3m-2 0h3m-3 13h3m-3 4h3m-1-14h3m-2 4h3m-2 10h3m-2-6h3m-3 8h3m-3 1h3m-2-24h3m-1 2h3m-3 14h3m-2-4h3m-3 7h3m-2-11h3m-3 11h3m-2-4h3m-2-15h3m-3 23h3m-2-23h3m-3 8h3m-3 1h3m-3 8h3m-2-4h3m-1-14h3m-3 7h3m-3 17h3m-1-3h3m-2-18h3m-3 8h3m-2-10h3m-2 16h3m-3 4h3m-2-2h3m-3 3h3m-1-6h3m-3 1h3m-3 2h3m-3 4h3m-3 1h3m-2-24h3m-3 4h3m-1 11h3m-3 9h3m-2-24h3m-3 5h3m-3 12h3m-3 6h3m-2-3h3m-2-20h3m-3 1h3m-2 12h3m-3 2h3m-3 9h3m-2-23h3m-3 21h3m-3 2h3m-2-8h3m-2-7h3m-3 0h3m-3 4h3m-3 6h3m-3 1h3m-2-12h3m-3 8h3m-2-10h3m-2 5h3m-3 7h3m-3 5h3m-2-23h3m-3 7h3m-1 9h3m-2-12h3m-1-3h3m-3 2h3m-3 18h3m-2-13h3m-3 5h3m-3 8h3m-3 3h3m-2-19h3m-3 16h3" stroke="#2274de" stroke-width="3" stroke-opacity="0.7" fill="none"/><path transform="scale(.25)" d="M708 233h3m-2-17h3m-3 9h3m-2-1h3m-2 0h3m-3 5h3m-2-5h3m-1-5h3m-1 12h3m-3 2h3m-1-5h3m-3 1h3m-3 3h3m-2-11h3m-3 4h3m-3 2h3m-3 3h3m-2-2h3m-3 6h3m-1 3h3m-2-9h3m-2-3h3m-1 4h3m-2-9h3m-3 5h3m-1-7h3m-3 12h3m-2-7h3m-1 6h3m-2-7h3m-3 5h3m-2-4h3m-3 11h3m-2-6h3m-3 5h3m-2-9h3m-3 0h3m-3 6h3m-2-5h3m-2-2h3m-2-1h3m-3 8h3m-2-7h3m-3 2h3m-2 9h3m-3 9h3m-2-10h3m-2 1h3m-1-14h3m-3 6h3m-3 7h3m-2 4h3m-2-12h3m-2 3h3m-2-7h3m-3 13h3m-2-5h3m-3 0h3m-2-13h3m-2 8h3m-2 1h3m-3 0h3m-1 8h3m-2-6h3m-3 9h3m0-1h3m-2-6h3m-1-5h3m0 11h3m-2-11h3m-3 8h3m-1-7h3m-2-4h3m-3 11h3m0-12h3m-3 7h3m-3 0h3m-2 13h3m-2-12h3m-1-11h3m-3 3h3m-3 1h3m-3 3h3m-3 11h3m-3 3h3m-2-6h3m-2-16h3m-3 14h3m-3 2h3m-2-18h3m-2 12h3m-3 5h3m-3 4h3m-2-10h3m-2 0h3m-3 4h3m-3 1h3m-2-2h3m-3 5h3m-3 0h3m-3 1h3m-2-12h3m-3 7h3m-1-2h3m-3 9h3m-2-12h3m-2-2h3m-2-8h3m-2 3h3m-3 4h3m-3 5h3m-2 0h3m-3 13h3m-2-17h3m-3 6h3m-2 2h3m-3 8h3m-2-16h3m-3 8h3m-3 9h3m0-18h3m-2 16h3m-2-16h3m-3 10h3m-2-9h3m-3 13h3m0-16h3m-3 11h3m-2-4h3m-3 3h3" stroke="#1860cc" stroke-width="3" stroke-opacity="0.9" fill="none"/><path transform="scale(.25)" d="M708 286h3m-2-3h3m-3 1h3m-3 1h3m-2-8h3m-2 7h3m-3 5h3m-1-18h3m-3 21h3m-2 2h3m-1-26h3m-3 16h3m-3 1h3m-3 6h3m-3 2h3m-2 4h3m-2-5h3m-2-7h3m-3 4h3m-2-7h3m-3 3h3m-2-3h3m-3 0h3m-2-4h3m-3 0h3m-3 5h3m-3 11h3m2-7h3m-3 4h3m-1-4h3m-2-14h3m-2 5h3m-3 7h3m-3 5h3m-3 1h3m-2-9h3m-3 5h3m-2 5h3m-2-10h3m-1 4h3m-3 4h3m-2-9h3m-2-1h3m-3 7h3m-1-2h3m-3 2h3m-3 0h3m-2 4h3m-2-8h3m-3 6h3m-2-3h3m-3 3h3m-3 2h3m-2-8h3m-3 5h3m-3 6h3m-1-20h3m-3 5h3m-2-2h3m-3 16h3m-2-15h3m-3 9h3m-1-6h3m-1-4h3m-2-5h3m-3 4h3m-2 5h3m-3 10h3m-2-12h3m-3 6h3m-2-10h3m-3 8h3m-3 1h3m-2 1h3m-2 1h3m-2-14h3m-1 17h3m-2-18h3m-3 13h3m-3 7h3m-1-14h3m-2 3h3m-2 2h3m-1 4h3m-2-9h3m-3 16h3m-1-9h3m-3 2h3m-3 5h3m-2-12h3m-3 6h3m-2 2h3m-3 3h3m-3 0h3m-2-8h3m-3 7h3m-1-5h3m-2-3h3m-3 0h3m-2-7h3m-3 11h3m-2-3h3m-2 9h3m-2-12h3m-3 2h3m-3 6h3m-2-10h3m-3 10h3m-1-11h3m-3 14h3m-1-11h3m-1 8h3m-3 2h3m-2-12h3m-3 9h3m-2-9h3m0 10h3m-1-4h3m-3 1h3m-3 14h3m-2-4h3m-2-3h3m-3 3h3m-2-14h3m-3 1h3m-3 8h3m-2-9h3m-2-4h3m-3 8h3m-3 5h3m0-12h3m-1-3h3m-3 7h3m-3 4h3m-2-6h3m-3 2h3m-3 10h3m-1-11h3m-1-5h3m-1 8h3" stroke="#1860cc" stroke-width="3" stroke-opacity="0.9" fill="none"/><path transform="scale(.25)" d="M710 244h3m-1 21h3m1 10h3m0-39h3m-3 13h3m0 89h3m-3 3h3m-1-92h3m-3 90h3m-3 0h3m-2-18h3m-3 8h3m0-117h3m-3 69h3m-3 51h3m0-81h3m-1 23h3m-1-37h3m-3 38h3m-3 30h3m-3 36h3m-2-106h3m-3 3h3m-3 23h3m-1-50h3m-2 39h3m-3 85h3m-2-114h3m-1 109h3m-1-99h3m-3 11h3m-3 41h3m-2-58h3m-2 17h3m-2 22h3m-2 35h3m-3 35h3m-2-114h3m-2 15h3m-2-20h3m-2 112h3m-2-116h3m-3 74h3m-3 51h3m-2-15h3m-2-110h3m-3 9h3m-2 4h3m-3 66h3m-2-10h3m2-70h3m-3 102h3m0-85h3m0 87h3m-3 14h3m-2-99h3m-2 35h3m0 20h3m-3 2h3m-3 56h3m0-118h3m-1 17h3m-3 37h3m-2 40h3m2-25h3m-3 25h3m-3 19h3m-2-96h3m-3 91h3m-2-22h3m-3 10h3m-3 1h3m-3 20h3m-1-124h3m-3 23h3m2 5h3m-3 10h3m-3 70h3m-2-56h3m-2 42h3" stroke="#2274de" stroke-width="3" stroke-opacity="0.8" fill="none"/><path transform="scale(.25)" d="M818 267h3m-2 22h3m-3 19h3m-2-29h3m28 2h3m13 39h3m-3 10h3m1-118h3m-3 14h3m27 61h3m-1-55h3m-1 62h3m0-80h3m5 21h3m7 87h3m2-67h3m27 61h3m-1-80h3m5 29h3m10 46h3m16-97h3m14 23h3m-2-34h3m10 9h3m3 126h3" stroke="#2274de" stroke-width="3" stroke-opacity="0.8" fill="none"/><path transform="scale(.25)" d="M626 356h2m-2 14h2m-1-11h2m-1-5h2m-2 5h2m-2 6h2m-1 1h2m-2 2h2m-1-11h2m-2 6h2m0 2h2m-1-11h2m1 7h2m-2 5h2m-1 1h2m-1-3h2m-1-6h2m-2 6h2m-2 0h2m-2 0h2m-2 2h2m0-10h2m-2 2h2m-1-1h2m-2 9h2m-1-4h2m-1 2h2m0-8h2m-1 11h2m-1-12h2m-2 11h2m1-8h2m-1-3h2m-2 5h2m-1 3h2m-2 7h2m-1-9h2m-1-1h2m-1 2h2m-2 0h2m-1-2h2m-1-5h2m-1 14h2m-1-11h2m-1 11h2m2-4h2m0-3h2m-2 2h2m0 3h2m-2 4h2m-1-14h2m-2 3h2m-1-5h2m-1 5h2m-1-4h2m-2 7h2m-1 3h2m-1-10h2m-2 12h2m-1-1h2m-1 2h2m-1-13h2m-1-2h2m0 11h2m0-10h2m0 1h2m0-1h2m-2 8h2m-1-7h2m-1 10h2m-1-12h2m-1 10h2m-1-4h2m-1 3h2m-2 6h2m-1-15h2m-1 12h2m-2 4h2m-1-13h2m-2 7h2m-2 2h2m0-1h2m-2 2h2m0-3h2m-2 2h2m-2 5h2m-1-14h2m-2 3h2m-1 0h2m-2 3h2m-2 5h2m0-6h2m-1-7h2m-1 12h2m-1-1h2m-2 3h2m1-7h2m-2 5h2m-2 2h2m-1-12h2m-2 5h2m1 5h2m-2 4h2m0-9h2m-2 2h2m-1-5h2m0 2h2m-1-2h2m0 7h2m0-1h2m0-2h2m-2 6h2m-1-1h2m2-9h2m-2 8h2m1 3h2m0-16h2m-1 1h2m-2 4h2m-2 4h2m-1-7h2m-1 3h2m-2 6h2m-2 4h2m-1-12h2m-1 6h2m-1 2h2m-2 5h2m2-8h2m-2 4h2m-2 3h2m-2 2h2m-1-11h2m-2 1h2m-2 0h2m-1 10h2m-1-3h2m0 0h2m2 1h2m-1-12h2m-1 8h2m-1 2h2m-1-13h2m-2 6h2m0-4h2m-2 10h2m-1-11h2m-2 7h2m-2 6h2m-1-11h2m-1-2h2m-1 14h2m-1-1h2m6-14h2m-2 9h2m-1-8h2m-2 2h2m-1 4h2m-1 1h2m-2 5h2m-1 1h2m0-3h2m-1-10h2m-2 6h2m-1 1h2m-1-6h2m-2 8h2m-1-1h2m-1-5h2m-2 2h2m-2 10h2m-1-3h2m-1-12h2m-1 6h2m-2 3h2m-2 2h2m-1-12h2m1 0h2m-2 14h2m1-8h2m-2 8h2m-1-9h2m-2 3h2m-1 8h2m0-15h2m-2 2h2m0 0h2m1 1h2m-1 9h2m3-1h2m5-2h2m-1-1h2m1 8h2m0-16h2m-1 0h2m0 12h2m-1-13h2m-1 0h2m-2 5h2m-1 7h2m-1 1h2m1-4h2m-1-9h2m-2 15h2m-2 1h2m1-12h2m-2 4h2m-1-5h2m-2 14h2m-1-2h2m-1-9h2m-1-7h2m-2 13h2m-1-11h2m-1 1h2m-2 8h2m-2 5h2m-1-8h2m-1 10h2m0-13h2m-1-3h2m4 5h2m-1-5h2m-2 7h2m1-8h2m-2 6h2m0 6h2m-2 2h2m-1-2h2m-2 0h2m-1-5h2m-2 1h2m-1-8h2m-1 11h2m0-8h2m-1 10h2m0 3h2m-1 1h2m-1-1h2m0-1h2m-1-10h2m-1 5h2m-2 6h2m-1-7h2m1-9h2m-2 5h2m-2 10h2m-1-7h2m-2 1h2m-2 0h2m0 6h2m-1-8h2m-1 7h2m-2 0h2m-2 3h2m1-13h2m0-1h2m-2 9h2m0-10h2m-1 14h2m-1-17h2m-2 4h2m-2 5h2m-1 0h2m-2 3h2m-2 1h2m-1-10h2m-2 3h2m-1-1h2m-2 13h2m-1-3h2m0-11h2m0 7h2m-2 2h2m2-9h2m-2 1h2m1 6h2m-1 2h2m0 0h2m0 4h2m1-15h2m-1 5h2m-2 3h2m-2 2h2m-1-2h2m0-8h2m0 1h2m-2 1h2m-1-2h2m0 8h2m-2 6h2m1-7h2m-2 2h2m-1 0h2m-2 7h2m1-12h2m-2 5h2m-1-7h2m-2 4h2m-1-4h2m-2 9h2m0-11h2m-1-2h2m-2 4h2m-1 3h2m2 2h2m0-3h2m-2 1h2m-1 6h2m0 0h2m1-12h2m-2 2h2m-2 1h2m0 10h2m-2 3h2m-1 1h2m-1-6h2m-2 0h2m-1-11h2m-2 2h2m-2 2h2m-2 12h2m-1-15h2m-1 4h2m0 4h2m-1 4h2m-1 1h2m0-8h2m-1 9h2m0-9h2m-2 0h2m2-2h2m-2 3h2m-1 1h2m-2 6h2m1-8h2m-2 7h2m0-10h2m3 7h2m-1-5h2m-1 0h2m1 7h2m1-4h2m-1-1h2m-2 5h2m-1-5h2m3 6h2m-1 4h2m-1-2h2m-1-11h2m-2 5h2m-2 2h2m-2 5h2m-1-4h2m1 4h2m-1-5h2m-1-7h2m-1-1h2m-2 2h2m-2 8h2m-1 0h2m-1-9h2m-1-1h2m-2 4h2m2-5h2m-2 8h2m0-8h2m-1 0h2m-2 6h2m-2 5h2m0 0h2m-1-7h2m0 5h2m-1 5h2m1-12h2m-1 4h2m-2 9h2m-1-2h2m-1-10h2m-2 1h2m-2 4h2m-2 2h2m-1-9h2m-2 6h2m-1-4h2m-2 6h2m-1-9h2m-2 0h2m0-2h2m-1 7h2m-1-7h2m-2 12h2m-1 1h2m0-2h2m-1-11h2m-1 2h2m-2 0h2m-2 12h2m-1-5h2m-1-7h2" stroke="#666" stroke-width="2" stroke-opacity="0.5" fill="none"/><rect x="156.5" y="93.1" width="104.7" height="3.2" fill="#121212" fill-opacity="1.0"/><path transform="scale(.25)" d="M626 372h2m-1 0h2m-2 1h2m-1-2h2m-2 1h2m-2 0h2m-1 1h2m0-3h2m-2 1h2m-1-1h2m-2 2h2m-2 1h2m-1-1h2m-2 1h2m-1-3h2m-1 0h2m-2 2h2m-1 0h2m-1-2h2m-2 1h2m-1 1h2m0-1h2m-2 2h2m-1 0h2m-1-3h2m-2 0h2m-2 2h2m0 0h2m-2 0h2m-2 0h2m-2 1h2m-1 0h2m-2 0h2m-1-4h2m-2 3h2m-2 1h2m-1-4h2m-2 1h2m-2 1h2m-1 0h2m-1 0h2m-1 2h2m0-2h2m-1-1h2m-1 0h2m-1 0h2m-2 0h2m-2 2h2m-2 0h2m-1-3h2m-2 4h2m-1-1h2m-1-3h2m-1 4h2m1-3h2m-2 0h2m-1 0h2m-1-1h2m-2 1h2m-2 1h2m-2 2h2m-2 0h2m-1 0h2m-2 0h2m-1-3h2m0 0h2m-2 0h2m-2 3h2m0-1h2m-2 0h2m-1-3h2m-2 1h2m-1 0h2m-1 3h2m-1-4h2m-1 2h2m-1-1h2m-1 0h2m1-1h2m-2 2h2m-1 0h2m-2 1h2m-1-2h2m-2 0h2m-2 3h2m-1-1h2m-2 1h2m-1-2h2m-2 1h2m-1-2h2m-2 0h2m0 1h2m-2 2h2m-1-4h2m-2 0h2m-2 2h2m1 1h2m-2 0h2m-1 1h2m-1-2h2m0-1h2m-2 2h2m2-1h2m-1 0h2m-2 0h2m-2 1h2m-1-1h2m-1-1h2m-2 2h2m-2 0h2m-1-2h2m-1 2h2m-2 0h2m-2 0h2m-1-2h2m-2 2h2m-2 1h2m-1 0h2m-1-3h2m3 2h2m-1-1h2m-2 1h2m0-3h2m-1 4h2m-1-2h2m-2 1h2m-2 1h2m-1-3h2m-2 2h2m-2 1h2m-1-4h2m-2 1h2m-2 2h2m-1-1h2m-2 1h2m-1-2h2m-2 1h2m-1 1h2m-1-2h2m-2 2h2m1-1h2m-2 2h2m-1-3h2m-2 1h2m-1 0h2m-2 1h2m-1-2h2m-2 3h2m-1-1h2m-1-1h2m-2 1h2m-2 0h2m-2 1h2m-1-2h2m-2 2h2m-1-1h2m-2 0h2m-1-2h2m-1 2h2m0-3h2m-2 1h2m-2 3h2m-1-3h2m-2 2h2m-2 0h2m-1 1h2m-1-4h2m-1 3h2m-1 0h2m-1-1h2m-2 1h2m-1-2h2m-2 1h2m-2 1h2m-1-3h2m-2 0h2m-2 1h2m-2 1h2m-1 0h2m-2 0h2m-1 0h2m-1 1h2m-1-1h2m-1 0h2m-2 0h2m-2 1h2m0-1h2m-2 1h2m-1-1h2m-1 1h2m-1-1h2m-1-2h2m-2 1h2m-2 1h2m-2 0h2m-1 1h2m-1-1h2m-1-1h2m-2 0h2m-2 0h2m-2 0h2m1-1h2m-2 1h2m-2 1h2m-2 2h2m-1-3h2m-2 0h2m-2 1h2m-2 1h2m-1-2h2m-1-1h2m0 2h2m-1-2h2m-1 2h2m-2 1h2m-1-2h2m-2 2h2m-2 0h2m-2 1h2m0-4h2m-2 4h2m-1-3h2m-2 2h2m-2 1h2m0-3h2m-2 1h2m-1-1h2m-2 2h2m-1-1h2m2 2h2m-1-2h2m-1 0h2m-2 1h2m-1 1h2m-1 0h2m-1-3h2m-2 2h2m-1-3h2m-2 3h2m-1 0h2m0-3h2m-2 4h2m0-3h2m-1 0h2m-1 1h2m0-2h2m-2 2h2m-2 1h2m-1-1h2m-2 0h2m-2 0h2m-1-2h2m-2 1h2m-2 1h2m-2 2h2m0-2h2m-2 2h2m-1-3h2m-2 0h2m-2 0h2m-2 1h2m-2 0h2m-2 1h2m0-2h2m-2 2h2m0-2h2m-2 0h2m-2 2h2m-1-2h2m-2 3h2m0-4h2m-2 1h2m-2 2h2m-1 0h2m-1-3h2m-2 1h2m-2 2h2m-1 0h2m-1-1h2m-1 2h2m-1-1h2m-1-1h2m0 0h2m-1-2h2m-1 4h2m-1-4h2m-2 2h2m-1-1h2m-1 0h2m-2 2h2m-1-1h2m-2 1h2m-1 0h2m-1-2h2m-2 3h2m-1-3h2m-2 2h2m-2 0h2m-2 1h2m0-3h2m-2 3h2m-1-2h2m-1-2h2m-2 1h2m-2 1h2m-2 0h2m-2 0h2m-2 1h2m-1-3h2m-1 3h2m-1-1h2m-2 0h2m-1-1h2m-2 0h2m-2 3h2m-1 0h2m-1-2h2m-2 0h2m-1 1h2m-1-3h2m-2 1h2m-2 0h2m-2 1h2m-1-2h2m3 4h2m-1-3h2m-1 0h2m-2 1h2m-1 0h2m-2 0h2m-2 0h2m-2 1h2m-2 1h2m-2 0h2m1-2h2m-2 2h2m-1-3h2m-1 0h2m-2 2h2m-1-1h2m-2 2h2m0-3h2m-2 0h2m-1 0h2m-2 0h2m-2 1h2m-2 0h2m-1 0h2m-2 0h2m-2 1h2m0-2h2m-2 2h2m-1 0h2m-1-3h2m-2 1h2m-2 2h2m-2 0h2m-2 1h2m-1-3h2m1 2h2m-2 0h2m-1-2h2m-2 3h2m1-3h2m-2 1h2m-1 0h2m-1 0h2m-1-1h2m-2 0h2m-2 0h2m-1 2h2m-1-3h2m-2 2h2m-1-2h2m-2 2h2m0-1h2m0 0h2m-1 0h2m-2 3h2m-2 0h2m0-2h2m-2 0h2m-2 1h2m-1-1h2m-1-1h2m-2 3h2m-1-2h2m-2 2h2m-1-2h2m-1-1h2m-2 1h2m-2 0h2m-2 0h2m-1-1h2m-2 1h2m-2 2h2m-1-2h2m-2 2h2m0-3h2m-1-1h2m-2 2h2m-1 1h2m-2 0h2m-1-2h2m-2 0h2m-2 1h2m-1 1h2m-1 0h2m-1-3h2m-2 1h2m-2 2h2m-2 0h2m0-1h2m-1-2h2m-2 4h2m-1-1h2m0-3h2m-2 2h2m-2 2h2m-1-2h2m-1 0h2m-1-1h2m0 2h2m-2 1h2m-1-3h2m-1 2h2m0 0h2m-2 1h2m-2 0h2m0-2h2m-2 0h2m-2 1h2m0-2h2m-2 2h2m-2 1h2m-2 0h2m-2 0h2m-1-2h2m-2 2h2m-1-2h2m-2 2h2m-1 0h2m0-4h2m-1 1h2m-2 1h2m-2 1h2m-2 1h2m-1-3h2m-2 1h2m-1 0h2m-1 2h2m0-3h2m-2 1h2m-1 1h2m-1-2h2m-2 0h2m1 0h2m-2 2h2m0 0h2m-2 1h2m-1-1h2m-2 0h2m-1-1h2m-1-1h2m-2 1h2m-2 1h2m-1-1h2m-1-1h2m-2 1h2m-2 1h2m-2 0h2m-2 1h2m-2 0h2m-1-3h2m-2 2h2m0 0h2m1-1h2m-1 2h2m-1-1h2m-2 0h2m-1-1h2m-2 1h2m-2 0h2m-1-1h2m-2 1h2m-1 0h2m-1 0h2m-2 0h2m0-2h2m-2 3h2m-2 0h2m-1-3h2m-2 1h2m-2 0h2m-2 0h2m-1-2h2m-2 3h2m-2 0h2m-1-2h2m-2 2h2m-2 1h2m0-4h2m-2 1h2m-2 1h2m-1-1h2m-2 1h2m-2 0h2m-2 1h2m-1-3h2m0 1h2m-1 0h2m-2 1h2m-2 1h2m-1-2h2m-1 0h2m-2 1h2m0 0h2m-2 1h2m-1-1h2m-2 0h2m-2 1h2m-1-1h2m-2 1h2m0-1h2m-2 1h2m-2 0h2m-1-1h2m-1-1h2m-1 2h2m-1 0h2m0 0h2m-1-2h2m-2 3h2m-1-2h2m-1 0h2m-2 1h2m-2 1h2m-1 0h2m0-1h2m-2 1h2m-1-1h2m-1-1h2m0 1h2m-1-1h2m-2 1h2m-1-2h2m-2 0h2m0-1h2m-2 1h2m-1 0h2m-2 1h2m-1 2h2m-1-2h2m-2 1h2m-1 1h2m0-3h2m-1 1h2m-1 1h2m-1-2h2m-2 2h2m-1 0h2m0-2h2m2 2h2m0-1h2m-2 1h2m-1-3h2m-2 1h2m-2 2h2m-2 0h2m-2 1h2m1-2h2m-2 0h2m-2 1h2m-2 1h2m-1-3h2m-2 2h2m-1-2h2m-2 2h2m-1 0h2m-2 1h2m-1-3h2m-2 1h2m-2 2h2m0-3h2m-2 2h2m-1-2h2m-2 0h2m-2 1h2m0 1h2m-1-3h2m-2 1h2m-1 0h2m-2 2h2m-1 0h2m-2 0h2m-2 1h2m-1-2h2m-1 1h2m-2 1h2m-2 0h2m-1-3h2m-2 2h2m-2 1h2m-2 0h2m-1-2h2m0-2h2m-2 0h2m-2 2h2m-2 1h2m-1-1h2m-1 0h2m-2 0h2m-2 1h2m-2 0h2m-1-2h2m-2 1h2m-2 1h2m-2 1h2m-1-1h2m-1-2h2m-1 0h2m-2 2h2m-1-2h2m-2 0h2m-2 2h2m-1-1h2m-1 0h2m-1 2h2" stroke="#111" stroke-width="2" stroke-opacity="0.8" fill="none"/><path transform="scale(.25)" d="M629 387h2m-1-1h2m-2 2h2m-2 0h2m0-2h2m-2 0h2m-1-1h2m-2 1h2m-2 2h2m-1-3h2m-2 1h2m0 2h2m-2 0h2m-2 0h2m-1-3h2m-1 0h2m-2 2h2m-1-1h2m-2 2h2m-1-3h2m-2 1h2m-1-1h2m-1 1h2m1-1h2m-2 1h2m-2 1h2m-2 1h2m-1-2h2m-1 1h2m1 1h2m-2 0h2m2-1h2m-1 1h2m-1-2h2m1-1h2m-2 0h2m-2 2h2m-2 0h2m-1 0h2m0-2h2m-2 3h2m1-2h2m-2 0h2m-1 0h2m-2 1h2m-2 1h2m-1-2h2m-1-2h2m-2 1h2m-1 0h2m-2 2h2m-2 0h2m0 1h2m-2 0h2m-1-3h2m-2 0h2m1 0h2m-2 3h2m-1-3h2m-2 1h2m-2 2h2m-1-3h2m-2 1h2m-2 0h2m-2 1h2m-2 1h2m-1-2h2m-2 0h2m-2 1h2m-1-1h2m-2 1h2m0 0h2m-2 1h2m-1-3h2m-2 2h2m-1 0h2m-2 0h2m-2 0h2m-1 0h2m-1-1h2m-2 0h2m-1 0h2m-2 0h2m-2 1h2m-2 1h2m-2 0h2m1-3h2m-1 1h2m0 2h2m0-2h2m-2 0h2m1-1h2m-2 1h2m-2 1h2m0-2h2m-2 1h2m-2 0h2m-1-1h2m-2 0h2m-2 2h2m-2 0h2m-1 0h2m0-2h2m-2 2h2m-2 1h2m-1-2h2m1 1h2m-2 1h2m-1 0h2m0-2h2m-1 0h2m-1 0h2m-2 0h2m-2 1h2m-2 1h2m-1-3h2m-2 1h2m-2 1h2m-1-1h2m0 2h2m-1-3h2m-2 2h2m-2 1h2m-1-3h2m-2 1h2m-2 0h2m-2 1h2m-2 0h2m-2 1h2m-1-2h2m-2 1h2m-2 0h2m-2 0h2m0-2h2m-1 0h2m-2 1h2m-1-1h2m-2 2h2m0-2h2m0 3h2m-1-2h2m-2 0h2m-2 2h2m-1-1h2m-1-2h2m-2 0h2m-2 2h2m-2 1h2m-1-1h2m-2 1h2m0-2h2m-2 1h2m-2 0h2m-1-2h2m-2 1h2m0-1h2m-2 2h2m0-2h2m-2 2h2m-1-2h2m-1 1h2m-2 2h2m-1-3h2m-1 3h2m-1-1h2m-1-2h2m-2 1h2m-2 1h2m-1-2h2m0 0h2m-2 1h2m-1 1h2m-1-1h2m-1 0h2m-2 0h2m-1 1h2m-2 1h2m-1-3h2m-1 0h2m-2 2h2m-1-2h2m-2 1h2m-2 1h2m-2 1h2m-1-2h2m-1-1h2m-2 0h2m-1 0h2m-2 1h2m2 0h2m-2 1h2m-2 1h2m-1-3h2m-2 1h2m-2 2h2m-1-1h2m1 1h2m0-3h2m-2 3h2m-1-1h2m0 0h2m-2 0h2m-1-1h2m-1-2h2m-2 1h2m-2 1h2m-2 1h2m-2 1h2m-1-3h2m-2 1h2m-2 1h2m-2 0h2m-2 1h2m0-2h2m-2 1h2m1-1h2m-1 1h2m-1-2h2m-2 2h2m-1-2h2m-2 2h2m-2 1h2m-2 0h2m-1-2h2m-1 1h2m-1-2h2m-1 0h2m-2 0h2m-2 3h2m0-2h2m-2 1h2m-1-2h2m-2 1h2m-2 0h2m-2 0h2m-1-1h2m-1 1h2m-2 2h2m0-3h2m-2 2h2m-2 1h2m0-2h2m-1 1h2m-2 0h2m-2 0h2m-1-1h2m-2 0h2m-2 1h2m-2 1h2m-1-4h2m-2 2h2m-2 0h2m-2 2h2m0-3h2m-1 0h2m-2 1h2m-2 0h2m-2 1h2m-2 0h2m-1 1h2m0-3h2m-1 0h2m-2 2h2m-1-2h2m-2 1h2m-2 1h2m-2 0h2m-1-2h2m-1 0h2m-1 3h2m-2 0h2m-1-3h2m-1 2h2m-2 0h2m-1-2h2m-1-1h2m-2 1h2m-2 2h2m-1 0h2m-2 0h2m-2 1h2m-2 0h2m-1-1h2m-1-1h2m-2 2h2m-1-3h2m-2 1h2m-1 2h2m-1-2h2m-1-1h2m-1 3h2m-1-3h2m-2 2h2m-1 1h2m-1 0h2m-2 0h2m-1-1h2m-2 1h2m-1-1h2m-1-2h2m-2 0h2m-2 2h2m-1-2h2m-2 2h2m-2 1h2m-1-1h2m-2 1h2m-1-1h2m-1-1h2m-2 0h2m-2 0h2m-1-2h2m-1 4h2m-1-1h2m-2 1h2m-1-1h2m-1-2h2m-2 0h2m-1 3h2m-1-1h2m-1-2h2m-2 1h2m0 0h2m-1 2h2m-1 0h2m-1-3h2m-1 0h2m-2 2h2m0 0h2m2-2h2m-2 2h2m-1 1h2m-1-2h2m-1 0h2m-2 1h2m-2 1h2m-2 0h2m-2 0h2m-1-3h2m-2 3h2m-1-1h2m-1-2h2m-2 3h2m-1-3h2m-2 0h2m-2 1h2m-1 0h2m-1 0h2m-1 0h2m-1 1h2m-2 1h2m-1 0h2m-1-2h2m0 1h2m-1 1h2m-1-2h2m-2 1h2m-1-2h2m-2 1h2m-1 0h2m-2 0h2m-1-1h2m-2 1h2m-1-1h2m-2 0h2m-2 1h2m-2 2h2m-1-2h2m-2 0h2m-2 1h2m-1-2h2m-2 3h2m-2 0h2m-1-2h2m-2 0h2m-1-1h2m-2 3h2m-1-1h2m-2 1h2m0-3h2m-2 1h2m-2 1h2m-1-2h2m-2 0h2m-2 3h2m-1-3h2m-2 2h2m-1-1h2m-2 1h2m-1-1h2m-1-1h2m-2 0h2m-1 0h2m-2 1h2m-2 2h2m-1 0h2m-1-1h2m-1 1h2m-1-3h2m-2 3h2m-2 0h2m-1-2h2m-2 2h2m-1-3h2m-2 2h2m-1-2h2m-2 1h2m0 1h2m-2 1h2m-1-3h2m-1 3h2m-1-3h2m-2 0h2m-2 0h2m-2 3h2m-1 0h2m-2 0h2m-1-2h2m-2 2h2m-1-3h2m-2 1h2m-1-1h2m-2 3h2m-1-2h2m-1 1h2m-1-1h2m-2 0h2m-2 1h2m-2 1h2m-1-1h2m-1-1h2m-2 1h2m-1-2h2m-2 3h2m0-2h2m-2 0h2m-2 1h2m-1-3h2m0 1h2m0 0h2m-1 0h2m-2 2h2m0-1h2m0 1h2m-2 1h2m-2 0h2m-1-2h2m-2 2h2m-1-3h2m-2 3h2m-1 0h2m-1-1h2m-1-2h2m0 0h2m-1 0h2m-2 1h2m0-1h2m-1 2h2m-1-1h2m-2 1h2m-1-3h2m-2 0h2m-2 3h2m-2 1h2m-1-1h2m-2 0h2m-2 1h2m-2 0h2m-1-2h2m-2 2h2m-1-1h2m-2 0h2m-2 1h2m-1-2h2m-2 1h2m-2 0h2m-1-2h2m-2 2h2m-1-2h2m-2 3h2m-1-2h2m0-1h2m-1 0h2m-2 3h2m-1-2h2m-2 1h2m-2 1h2m-2 0h2m0-2h2m0-1h2m-2 0h2m-2 2h2m-1 0h2m-2 1h2m-2 0h2m-1-2h2m3 1h2m0 1h2m-1-3h2m-2 1h2m-1 0h2m0 0h2m-2 1h2m-1-2h2m-2 0h2m-1 0h2m-2 1h2m-1-1h2m-1 1h2m-1 0h2m-2 1h2m-2 1h2m1-2h2m-2 1h2m-2 1h2m1-3h2m-2 3h2m-1-4h2m-2 2h2m-1-2h2m-2 1h2m-2 0h2m-1 3h2m0-4h2m-1 2h2m-1-1h2m-2 3h2m-2 0h2m-1-2h2m-2 2h2m-1-2h2m-1 1h2m-2 0h2m-2 0h2m-1-2h2m-2 1h2m-1-1h2m-2 1h2m-1-1h2m-2 0h2m-2 2h2m-1-1h2m0-1h2m-2 3h2m0-2h2m-2 1h2m-1-2h2m-2 2h2m-1-1h2m-2 1h2m-1-1h2m-2 1h2m-1-1h2m-2 2h2m-1-3h2m1 0h2m-1 1h2m-1-1h2m-2 0h2m-1 3h2m-1-2h2m-2 2h2m-2 0h2m-1-3h2m-2 3h2m-1-3h2m-2 1h2m-1 2h2m-2 0h2m-1-2h2m-2 2h2m-1-3h2m-2 2h2m0-2h2m-2 0h2m-2 3h2m-1-2h2m-2 2h2m0-1h2m-2 0h2m-1-2h2m-2 0h2m-2 3h2m-2 0h2m-1-1h2m-2 1h2m-1-3h2m-2 0h2m-1 0h2m-2 2h2m-1-2h2m-2 1h2m-2 2h2m-1-3h2m-2 1h2m-2 1h2m-1-2h2m-1 1h2m-2 1h2m-2 0h2m1-2h2m-2 3h2m0-2h2m-1-1h2m-2 3h2m3-3h2m-2 0h2m-1 0h2m-2 0h2m0 0h2m-2 1h2m-1-1h2m1 1h2m-2 0h2m-2 2h2m-2 0h2m-1-3h2m-2 1h2m-2 1h2m-1-2h2m-2 1h2m-1-1h2m-2 2h2m-1-2h2m-2 1h2m-1 0h2m-2 1h2m-2 0h2" stroke="#111" stroke-width="2" stroke-opacity="0.8" fill="none"/><path transform="scale(.25)" d="M627 386h2m-2 43h2m3-42h2m0 0h2m-2 4h2m-2 1h2m3-5h2m-2 2h2m-2 0h2m-2 4h2m-1-6h2m-1 4h2m-2 5h2m-2 1h2m1-7h2m0 9h2m-1-11h2m-2 17h2m-1-18h2m2 2h2m0-1h2m-2 0h2m6-1h2m-1 2h2m1-2h2m3 0h2m-2 1h2m-1 8h2m-1-8h2m-2 2h2m1-4h2m-1 5h2m-1 12h2m-1-10h2m-2 14h2m-1-13h2m0-5h2m-2 19h2m-1-19h2m0 2h2m-1 10h2m-1-14h2m-2 5h2m0 7h2m1-8h2m0-4h2m-1 1h2m-2 47h2m0-45h2m-2 4h2m-1 1h2m0 1h2m-1 5h2m1-10h2m-1 2h2m0 0h2m-2 8h2m-1-2h2m0-8h2m3-4h2m-2 13h2m1-5h2m-2 4h2m-1-12h2m-1 0h2m-2 0h2m1 5h2m-2 1h2m14 9h2m-1-5h2m-2 2h2m-1 2h2m-1-3h2m0 5h2m1 6h2m0-8h2m-1-12h2m-2 0h2m-2 25h2m2-24h2m-2 8h2m0 0h2m0-9h2m-1 32h2m0-32h2m-2 15h2m0 6h2m1 0h2m-1-17h2m-2 1h2m-1-1h2m-2 23h2m-1-28h2m-2 23h2m1-13h2m2-8h2m-2 17h2m-1-4h2m-1-9h2m-1 8h2m1-3h2m2 1h2m1 26h2m4-26h2m-2 1h2m-2 9h2m-1-22h2m-2 3h2m-1 3h2m1-3h2m-1-2h2m-2 9h2m5-1h2m1-9h2m-2 3h2m-1-4h2m-1 0h2m2 12h2m-2 27h2m0-17h2m1 2h2m0-20h2m-2 4h2m-1-6h2m-1 7h2m-2 5h2m-1-11h2m-2 8h2m0-4h2m2 8h2m3-12h2m0 1h2m0-2h2m-2 12h2m1-8h2m-1 8h2m3-12h2m0 5h2m2-5h2m4 2h2m2 3h2m-1-5h2m-2 1h2m-2 3h2m-2 2h2m6-4h2m0-4h2m-2 0h2m0 2h2m1 0h2m4-2h2m-2 6h2m0-1h2m-2 15h2m0-3h2m-1-5h2m0-11h2m-2 5h2m1 1h2m0-6h2m-1-1h2m-1 3h2m-2 20h2m4-18h2m5-1h2m1-3h2m-1 11h2m-2 9h2m3-20h2m-1 15h2m0-7h2m-1 13h2m3-20h2m2-1h2m-2 1h2m-1 14h2m-1-15h2m-2 13h2m0-12h2m2 25h2m-1-22h2m6 1h2m-1-6h2m-1 13h2m11-9h2m6-1h2m0 13h2m-1 12h2m-1-25h2m-2 4h2m-1-6h2m-1 9h2m-1-10h2m0 0h2m-1 3h2m-2 6h2m4 2h2m-2 8h2m1-17h2m0 10h2m-1-11h2m-1 0h2m-1 3h2m-1 7h2m4-3h2m-1-7h2m-2 4h2m0-2h2m-2 5h2m2-7h2m-1 12h2m0-8h2m4-6h2m-2 4h2m-1 9h2m4-11h2m0 1h2m-2 16h2m2-14h2m-1 6h2" stroke="#333" stroke-width="2" stroke-opacity="0.6" fill="none"/><path transform="scale(.25)" d="M664 453h2m3-42h2m7 37h2m7 12h2m11-54h2m0 56h2m11-35h2m2 10h2m8-21h2m-2 12h2m3 20h2m13-29h2m0-10h2m21 41h2m36-13h2m-2 6h2m-1 1h2m6-22h2m0-20h2m-1 55h2m31-34h2m19-14h2m7 0h2m11 55h2m4-13h2m4-41h2m24 41h2m4 14h2m0 1h2m7-49h2m2 34h2m1-11h2m14-36h2m1 3h2m2-1h2m0-8h2m18 68h2m4-43h2m14 1h2m8 42h2" stroke="#777" stroke-width="2" stroke-opacity="0.6" fill="none"/><rect x="156.5" y="86.3" width="104.7" height="1.4" fill="#d846dc" fill-opacity="1.0"/><rect x="253.3" y="84.8" width="7" height="1.6" fill="#444" fill-opacity="0.6"/><rect x="156.5" y="47.7" width="104.7" height="69.3" fill="none" stroke="#8c8c8c" stroke-width=".7"/><line x1="156.5" y1="117" x2="261.2" y2="117" stroke="#666" stroke-width="1"/><line x1="156.5" y1="47.7" x2="156.5" y2="117" stroke="#888" stroke-width=".6"/><text x="189.5" y="43.2" font-size="7" font-weight="normal" text-anchor="start" fill="#141414" textLength="32" lengthAdjust="spacingAndGlyphs" stroke="#141414" stroke-width=".4">20ng total</text><text x="138.9" y="83.6" font-size="3.1" text-anchor="middle" fill="#1e1e1e" stroke="#1e1e1e" stroke-width=".12" textLength="20" lengthAdjust="spacingAndGlyphs" transform="rotate(-90 138.9 83.6)">Ch1 Amplitude</text><text x="161.25" y="125.6" font-size="5.4" font-weight="bold" text-anchor="start" fill="#141414" textLength="11" lengthAdjust="spacingAndGlyphs" stroke="#141414" stroke-width=".5">100%</text><text x="186.25" y="125.6" font-size="5.4" font-weight="bold" text-anchor="start" fill="#141414" textLength="8.5" lengthAdjust="spacingAndGlyphs" stroke="#141414" stroke-width=".5">10%</text><text x="209" y="125.6" font-size="5.4" font-weight="bold" text-anchor="start" fill="#141414" textLength="7" lengthAdjust="spacingAndGlyphs" stroke="#141414" stroke-width=".5">1%</text><text x="226.25" y="125.6" font-size="5.4" font-weight="bold" text-anchor="start" fill="#141414" textLength="11" lengthAdjust="spacingAndGlyphs" stroke="#141414" stroke-width=".5">0.1%</text><text x="250.25" y="125.6" font-size="5.4" font-weight="bold" text-anchor="start" fill="#141414" textLength="5.5" lengthAdjust="spacingAndGlyphs" stroke="#141414" stroke-width=".5">0%</text><text x="235.35" y="105.3" font-size="4.5" font-weight="bold" text-anchor="start" fill="#25a454" textLength="3.3" lengthAdjust="spacingAndGlyphs" stroke="#25a454" stroke-width=".3">R</text><text x="238.9" y="103.4" font-size="2.6" font-weight="bold" text-anchor="start" fill="#25a454" >2</text><text x="241.65" y="105.3" font-size="4.5" font-weight="bold" text-anchor="start" fill="#25a454" textLength="11.5" lengthAdjust="spacingAndGlyphs" stroke="#25a454" stroke-width=".3">1.000</text><text x="235.35" y="114.3" font-size="4.5" font-weight="bold" text-anchor="start" fill="#25a454" textLength="20.8" lengthAdjust="spacingAndGlyphs" stroke="#25a454" stroke-width=".3">P &lt; 0.0001</text><rect x="23" y="142.2" width="106.5" height="71.4" fill="#f4f4f4" fill-opacity="1.0"/><text x="17.59" y="214.86" font-size="3.5" font-weight="bold" text-anchor="start" fill="#1a1a1a" textLength="2.09" lengthAdjust="spacingAndGlyphs" stroke="#1a1a1a" stroke-width=".25">0</text><line x1="22" y1="213.6" x2="23" y2="213.6" stroke="#888" stroke-width=".5"/><line x1="23" y1="204.66" x2="129.5" y2="204.66" stroke="#e4e4e4" stroke-width=".5"/><text x="10.57" y="205.92" font-size="3.5" font-weight="bold" text-anchor="start" fill="#1a1a1a" textLength="9.11" lengthAdjust="spacingAndGlyphs" stroke="#1a1a1a" stroke-width=".25">2000</text><line x1="22" y1="204.66" x2="23" y2="204.66" stroke="#888" stroke-width=".5"/><line x1="23" y1="195.72" x2="129.5" y2="195.72" stroke="#e4e4e4" stroke-width=".5"/><text x="10.57" y="196.98" font-size="3.5" font-weight="bold" text-anchor="start" fill="#1a1a1a" textLength="9.11" lengthAdjust="spacingAndGlyphs" stroke="#1a1a1a" stroke-width=".25">4000</text><line x1="22" y1="195.72" x2="23" y2="195.72" stroke="#888" stroke-width=".5"/><line x1="23" y1="186.79" x2="129.5" y2="186.79" stroke="#e4e4e4" stroke-width=".5"/><text x="10.57" y="188.05" font-size="3.5" font-weight="bold" text-anchor="start" fill="#1a1a1a" textLength="9.11" lengthAdjust="spacingAndGlyphs" stroke="#1a1a1a" stroke-width=".25">6000</text><line x1="22" y1="186.79" x2="23" y2="186.79" stroke="#888" stroke-width=".5"/><line x1="23" y1="177.85" x2="129.5" y2="177.85" stroke="#e4e4e4" stroke-width=".5"/><text x="10.57" y="179.11" font-size="3.5" font-weight="bold" text-anchor="start" fill="#1a1a1a" textLength="9.11" lengthAdjust="spacingAndGlyphs" stroke="#1a1a1a" stroke-width=".25">8000</text><line x1="22" y1="177.85" x2="23" y2="177.85" stroke="#888" stroke-width=".5"/><line x1="23" y1="168.91" x2="129.5" y2="168.91" stroke="#e4e4e4" stroke-width=".5"/><text x="8.23" y="170.17" font-size="3.5" font-weight="bold" text-anchor="start" fill="#1a1a1a" textLength="11.45" lengthAdjust="spacingAndGlyphs" stroke="#1a1a1a" stroke-width=".25">10000</text><line x1="22" y1="168.91" x2="23" y2="168.91" stroke="#888" stroke-width=".5"/><line x1="23" y1="159.97" x2="129.5" y2="159.97" stroke="#e4e4e4" stroke-width=".5"/><text x="8.23" y="161.23" font-size="3.5" font-weight="bold" text-anchor="start" fill="#1a1a1a" textLength="11.45" lengthAdjust="spacingAndGlyphs" stroke="#1a1a1a" stroke-width=".25">12000</text><line x1="22" y1="159.97" x2="23" y2="159.97" stroke="#888" stroke-width=".5"/><line x1="23" y1="151.04" x2="129.5" y2="151.04" stroke="#e4e4e4" stroke-width=".5"/><text x="8.23" y="152.3" font-size="3.5" font-weight="bold" text-anchor="start" fill="#1a1a1a" textLength="11.45" lengthAdjust="spacingAndGlyphs" stroke="#1a1a1a" stroke-width=".25">14000</text><line x1="22" y1="151.04" x2="23" y2="151.04" stroke="#888" stroke-width=".5"/><text x="8.23" y="143.36" font-size="3.5" font-weight="bold" text-anchor="start" fill="#1a1a1a" textLength="11.45" lengthAdjust="spacingAndGlyphs" stroke="#1a1a1a" stroke-width=".25">16000</text><line x1="22" y1="142.1" x2="23" y2="142.1" stroke="#888" stroke-width=".5"/><line x1="36.31" y1="142.2" x2="36.31" y2="213.6" stroke="#e4e4e4" stroke-width=".5"/><line x1="36.31" y1="213.6" x2="36.31" y2="214.6" stroke="#666" stroke-width=".6"/><line x1="49.62" y1="142.2" x2="49.62" y2="213.6" stroke="#e4e4e4" stroke-width=".5"/><line x1="49.62" y1="213.6" x2="49.62" y2="214.6" stroke="#666" stroke-width=".6"/><line x1="62.94" y1="142.2" x2="62.94" y2="213.6" stroke="#e4e4e4" stroke-width=".5"/><line x1="62.94" y1="213.6" x2="62.94" y2="214.6" stroke="#666" stroke-width=".6"/><line x1="76.25" y1="142.2" x2="76.25" y2="213.6" stroke="#e4e4e4" stroke-width=".5"/><line x1="76.25" y1="213.6" x2="76.25" y2="214.6" stroke="#666" stroke-width=".6"/><line x1="89.56" y1="142.2" x2="89.56" y2="213.6" stroke="#e4e4e4" stroke-width=".5"/><line x1="89.56" y1="213.6" x2="89.56" y2="214.6" stroke="#666" stroke-width=".6"/><line x1="102.88" y1="142.2" x2="102.88" y2="213.6" stroke="#e4e4e4" stroke-width=".5"/><line x1="102.88" y1="213.6" x2="102.88" y2="214.6" stroke="#666" stroke-width=".6"/><line x1="116.19" y1="142.2" x2="116.19" y2="213.6" stroke="#e4e4e4" stroke-width=".5"/><line x1="116.19" y1="213.6" x2="116.19" y2="214.6" stroke="#666" stroke-width=".6"/><line x1="45" y1="142.2" x2="45" y2="213.6" stroke="#efeec0" stroke-width=".8"/><line x1="68.5" y1="142.2" x2="68.5" y2="213.6" stroke="#efeec0" stroke-width=".8"/><line x1="90" y1="142.2" x2="90" y2="213.6" stroke="#efeec0" stroke-width=".8"/><line x1="110" y1="142.2" x2="110" y2="213.6" stroke="#efeec0" stroke-width=".8"/><path transform="scale(.25)" d="M92 620h4m-3 12h4m-3-18h4m-2 13h4m-4 2h4m-3 4h4m-3-13h4m-4 8h4m-4 8h4m-3 4h4m-3-15h4m-3-11h4m-3 10h4m-4 5h4m-3-18h4m-2 30h4m-2-14h4m-4 3h4m-2-5h4m-3-5h4m-4 23h4m-3-28h4m-4 5h4m-2 12h4m-4 0h4m-4 12h4m-3-35h4m-3 3h4m-4 2h4m-4 31h4m-3-24h4m-4 4h4m-3-15h4m-3 16h4m-3-16h4m-4 24h4m-3-20h4m-4 25h4m-2-12h4m-2 7h4m-4 5h4m-3-27h4m-4 2h4m-4 29h4m-1-15h4m-3 17h4m-3-15h4m-3-19h4m-1 23h4m-3-13h4m-4 2h4m-4 14h4m-3-28h4m-3 23h4m-3-20h4m-4 29h4m-4 4h4m-3-23h4m-4 1h4m-4 13h4m-2-6h4m-3 7h4m-3-13h4m-4 21h4m-3-35h4m-4 15h4m-4 10h4m-4 0h4m-4 9h4m-3-34h4m-4 8h4m-4 11h4m-2 7h4m-4 3h4m-3-6h4m-3-23h4m-4 27h4m-2-17h4m-4 8h4m-3-15h4m-3 3h4m-3 0h4m-4 22h4m-2 3h4m-3-30h4m-4 15h4m-4 18h4m-1-28h4m-4 11h4m-4 6h4m-4 7h4m-3-28h4m-4 14h4m-4 2h4m-3-10h4m-3-5h4m-4 2h4m-4 3h4m-3 5h4m-2 14h4m-3-7h4m-3-19h4m-3 6h4m-4 20h4m-3-4h4m-4 1h4m-3-11h4m-4 22h4m-3-31h4m-4 17h4" stroke="#1a58c4" stroke-width="4" stroke-opacity="0.85" fill="none"/><path transform="scale(.25)" d="M94 633h4m-4 7h4m-3-23h4m-4 18h4m-1-10h4m-3 11h4m-3-11h4m-3 7h4m-3-1h4m-2-10h4m-4 0h4m-4 5h4m2 2h4m-3-12h4m-4 13h4m-3 6h4m-2-16h4m-3 7h4m-3 9h4m-3-9h4m-4 6h4m-1 3h4m-3-5h4m-1 4h4m-3-7h4m-1-6h4m-3 12h4m1 1h4m-3-18h4m1 13h4m-2 0h4m-3 6h4m-3-7h4m-4 2h4m-4 4h4m-2-11h4m-1 5h4m-3-20h4m-2 21h4m-2 3h4m-1-6h4m0 2h4m-2 7h4m-2-4h4m-3-9h4" stroke="#2a6ad0" stroke-width="4" stroke-opacity="0.85" fill="none"/><path transform="scale(.25)" d="M93 683h4m-3 6h4m-3 22h4m-3-25h4m-4 6h4m-2-8h4m-4 11h4m-4 10h4m-2-12h4m-4 7h4m-3-4h4m-3-18h4m-4 6h4m-4 6h4m-4 11h4m-4 7h4m-4 6h4m-3-12h4m-3-13h4m-4 4h4m-4 4h4m-2-14h4m-4 19h4m-4 6h4m-2-18h4m-4 19h4m-3-2h4m-2-5h4m-1-23h4m-3 8h4m-4 2h4m-3-1h4m-4 4h4m-4 4h4m-1-3h4m-4 6h4m-4 6h4m-3 6h4m-3-2h4m-3-11h4m-3-3h4m-3 3h4m-4 0h4m-3-7h4m-4 11h4m-2-5h4m-3-12h4m-4 13h4m-3-14h4m-4 5h4m-4 2h4m-4 23h4m-3-31h4m-4 11h4m-4 11h4m-3-11h4m-4 4h4m-3-8h4m-1-12h4m-4 1h4m-3 0h4m-4 1h4m-4 26h4m-3-20h4m-4 12h4m-2-1h4m-2-9h4m-4 3h4m-3-4h4m-4 9h4m-4 9h4m-4 8h4m-2-8h4m-3-15h4m-4 13h4m-3-6h4m-2-15h4m-4 28h4m-3-27h4m-3-3h4m-4 1h4m-4 19h4m-4 7h4m-4 0h4m-2-20h4m-3 5h4m-3-10h4m-4 1h4m-4 14h4m-4 13h4m-3-17h4m-4 2h4m-3 15h4m-4 2h4m-3-30h4m-4 3h4m-3-2h4m-3-3h4m-4 25h4m-3-14h4m-3-3h4m-3 3h4m-4 2h4m-3 7h4m-4 0h4m-4 10h4m-2-5h4m-4 7h4m-2-24h4m-4 6h4m-3-13h4m-3 8h4m-4 1h4m-4 16h4m-3-26h4m-4 14h4m-4 10h4m-3-18h4m-4 3h4m-3 3h4" stroke="#1a58c4" stroke-width="4" stroke-opacity="0.85" fill="none"/><path transform="scale(.25)" d="M94 705h4m1-18h4m-4 10h4m-2-7h4m-4 4h4m-2 4h4m-3 12h4m-2-16h4m-3 13h4m-3-11h4m-2-9h4m1 12h4m-4 5h4m-3 4h4m-2-14h4m-4 1h4m-2-1h4m-3 14h4m-3-10h4m-4 1h4m-3-17h4m-3 7h4m-3 0h4m-4 13h4m-2 9h4m-3-13h4m0 8h4m-2-16h4m-1 4h4m-3-4h4m-4 11h4m-2 2h4m-3-15h4m-4 4h4m-4 14h4m-2-5h4m9-10h4m-3 4h4m-1 1h4m-3 12h4m-2-20h4m-3 7h4m-3-6h4m1 7h4m-1 11h4" stroke="#2a6ad0" stroke-width="4" stroke-opacity="0.85" fill="none"/><path transform="scale(.25)" d="M94 593h4m-3 42h4m-4 28h4m-3 5h4m-3-66h4m-2 36h4m-2 36h4m0-84h4m0 32h4m-3-5h4m-4 22h4m2-25h4m-4 29h4m-3 16h4m7-64h4m-1 39h4m-3-25h4m-4 11h4m-3 39h4m-4 15h4m-2-56h4m0-21h4m-3 65h4m-3-23h4m-4 0h4m-4 35h4m-1-74h4m-4 17h4m-2-9h4m0 56h4m-1-22h4m-3-22h4m3 34h4m3-63h4m-3 34h4m-3 45h4m-2 1h4m-3-62h4m-4 34h4m-4 29h4" stroke="#2274de" stroke-width="4" stroke-opacity="0.85" fill="none"/><path transform="scale(.25)" d="M179 634h4m-2 6h4m-1-17h4m3 0h4m-4 8h4m-3-26h4m2 15h4m-1 2h4m-3-12h4m1-2h4m-3 30h4m2 0h4m-2 3h4m6-5h4m0-18h4m0 10h4m-3 2h4m7-24h4m-3 3h4m-4 15h4m8-5h4m-1 21h4m-2-8h4m-4 8h4m-3-10h4m-1 9h4m-2-31h4m-4 11h4" stroke="#2274de" stroke-width="4" stroke-opacity="0.9" fill="none"/><path transform="scale(.25)" d="M180 678h4m0 12h4m-2-12h4m-2 35h4m8-31h4m5 14h4m0-22h4m-2-3h4m-4 43h4m-2-33h4m-3 24h4m0-35h4m-2 40h4m-4 1h4m-3-25h4m1-6h4m1 13h4m2 14h4m-3-29h4m3 25h4m-3-30h4m-4 37h4m-3-21h4m-1 14h4m-4 6h4m-3-37h4m-3 32h4m-3-17h4m-2-10h4m-3 8h4m0 19h4m-3-28h4" stroke="#2274de" stroke-width="4" stroke-opacity="0.9" fill="none"/><path transform="scale(.25)" d="M184 641h4m8 0h4m18 57h4m1-26h4m1 35h4m3-100h4m-2 61h4m4 11h4m9-14h4m-2 4h4" stroke="#2274de" stroke-width="4" stroke-opacity="0.9" fill="none"/><path transform="scale(.25)" d="M299 674h4m25-31h4m7-45h4m13 53h4m18-1h4m54 62h4m29-77h4m17 45h4" stroke="#2274de" stroke-width="4" stroke-opacity="0.9" fill="none"/><rect x="23" y="186.7" width="106.5" height="3.1" fill="#121212" fill-opacity="1.0"/><path transform="scale(.25)" d="M92 744h2m-2 0h2m-2 0h2m-2 3h2m-1-1h2m0-2h2m-2 0h2m-2 3h2m-1 0h2m-1-3h2m-2 1h2m-1-1h2m-1 1h2m-2 2h2m1-3h2m-2 3h2m-1-3h2m-2 2h2m-1-1h2m-2 2h2m-1 1h2m-1-1h2m1-2h2m-2 1h2m0-1h2m-1 1h2m0-2h2m-2 1h2m-2 2h2m-1 0h2m-1-3h2m-1 2h2m-1 1h2m0-1h2m0-2h2m-1 2h2m-1-1h2m-2 0h2m-1 0h2m-1-1h2m-2 0h2m-1 0h2m-2 3h2m-2 0h2m-1-3h2m-2 3h2m-1-2h2m-2 2h2m-1-2h2m0 1h2m-2 1h2m-1-2h2m-2 1h2m-2 1h2m-1-2h2m-2 1h2m0-2h2m-2 0h2m-2 1h2m-2 1h2m-1-2h2m-2 1h2m-2 2h2m-1-3h2m-2 0h2m-2 0h2m-2 2h2m-2 1h2m-1-3h2m-2 2h2m-2 1h2m-1-3h2m-2 1h2m-2 1h2m-1-2h2m-2 2h2m-2 0h2m-1-1h2m-2 2h2m-1-2h2m-2 1h2m-1-2h2m1 0h2m-2 3h2m-1-2h2m-1 1h2m-2 1h2m-2 0h2m-1-2h2m0-1h2m0 0h2m-2 2h2m-2 1h2m-1-1h2m-1-2h2m-2 2h2m-2 1h2m-1-2h2m-1-1h2m-1 0h2m-2 0h2m-2 3h2m-2 0h2m-1-1h2m1 1h2m-1-2h2m-2 0h2m-2 1h2m-2 0h2m-1-2h2m0 0h2m0 0h2m-2 1h2m-2 0h2m-1-1h2m-2 2h2m-1-2h2m-2 2h2m-2 1h2m-1-3h2m-2 1h2m-2 1h2m-1 1h2m-1-3h2m-2 2h2m0 1h2m-1-2h2m-1-1h2m-2 1h2m-2 0h2m-2 2h2m-2 0h2m-1-3h2m-2 3h2m-2 0h2m0-2h2m-2 0h2m-1-1h2m-2 2h2m-1-2h2m-2 1h2m-1 0h2m-1 1h2m-2 1h2m-2 0h2m-2 1h2m2-3h2m-2 1h2m-2 1h2m-1 0h2m0-3h2m-2 4h2m-1-3h2m-2 0h2m-2 1h2m-2 1h2m-1-2h2m-1-1h2m-2 0h2m-2 0h2m-2 2h2m-2 1h2m-1-3h2m-2 3h2m-1 0h2m-1 0h2m-1-2h2m-1 0h2m-1-1h2m-2 1h2m-1 1h2m-2 1h2m-1-3h2m-2 3h2m-1-3h2m-2 3h2m-1-2h2m-1 3h2m-1-3h2m-2 0h2m-1 0h2m-2 0h2m-1 0h2m-2 0h2m-1 0h2m-2 2h2m-1-1h2m-1-1h2m-1 1h2m-1-1h2m-2 0h2m-2 1h2m-2 0h2m-1 1h2m-1-2h2m-2 1h2m-1 1h2m-1 0h2m-1-2h2m-2 1h2m-2 1h2m-2 0h2m-1-1h2m-1-1h2m-2 2h2m-1-2h2m-2 1h2m-1-2h2m-2 2h2m-2 1h2m-2 0h2m-1-3h2m-1 0h2m-2 0h2m-2 3h2m-1-2h2m-2 1h2m-2 1h2m-2 0h2m-1-2h2m0 1h2m-1-1h2m-1-1h2m-2 0h2m-2 1h2m-1-1h2m-2 0h2m-2 3h2m-1-1h2m-2 0h2m-1-2h2m-2 1h2m-2 1h2m-2 0h2m-1 1h2m0-2h2m-2 0h2m-1 0h2m-1-1h2m-2 3h2m-1-2h2m-2 1h2m-2 1h2m-2 0h2m-2 0h2m0-3h2m-2 4h2m-1-2h2m-1-1h2m-1-1h2m-2 3h2m-1-3h2m-2 1h2m-2 1h2m-2 1h2m-1 0h2m-1-3h2m1 3h2m0-1h2m-1 0h2m-1-2h2m-2 0h2m-2 2h2m-1-2h2m-1 0h2m-2 1h2m-2 2h2m-1 0h2m-1-3h2m-2 2h2m-2 1h2m0-2h2m-2 1h2m-1-2h2m-2 2h2m-2 1h2m-1-3h2m-2 0h2m-2 1h2m-1 0h2m-2 1h2m-1 1h2m0-2h2m0 0h2m-2 1h2m-2 1h2m-1-2h2m-1 1h2m-2 1h2m0-2h2m-2 0h2m-2 0h2m-1-1h2m-1 2h2m-2 1h2m-2 0h2m-1-3h2m-2 0h2m-1 1h2m-1-1h2m0 2h2m-2 0h2m0-2h2m-2 0h2m-2 2h2m-2 0h2m-2 1h2m-1-2h2m-1 0h2m-1 1h2m-1-1h2m-1-1h2m-1 3h2m-1-2h2m-2 2h2m-2 0h2m-1-3h2m-2 1h2m-2 1h2m-1 0h2m0-2h2m-2 1h2m-2 0h2m-2 1h2m-2 0h2m0-2h2m-2 2h2m0 1h2m-1 0h2m-1-3h2m-1 3h2m-2 0h2m-1-2h2m0 0h2m-1-1h2m-1 1h2m-2 1h2m-1 1h2m-1-2h2m-2 0h2m-1 2h2m0-2h2m-1 2h2m1-2h2m-2 1h2m-2 1h2m-1-1h2m-2 0h2m-1-2h2m-2 1h2m-2 0h2m-1 0h2m-2 0h2m-2 1h2m0-1h2m-1 1h2m-1-2h2m-2 0h2m-1 0h2m-2 3h2m-1 1h2m0-4h2m-1 2h2m-2 1h2m-2 0h2m-1 0h2m-1-3h2m-2 3h2m-1-2h2m-1 0h2m-2 1h2m-1-2h2m-2 3h2m-1 0h2m-2 0h2m-1-3h2m-2 1h2m-2 1h2m-1-2h2m0 2h2m-1 1h2m0 0h2m0-3h2m-2 0h2m-2 3h2m-1-3h2m-2 3h2m-2 0h2m-1-3h2m-2 2h2m-1-1h2m-1 0h2m-1-1h2m-2 0h2m-2 2h2m-2 1h2m-2 0h2m-2 0h2m-1 0h2m-1-2h2m-2 3h2m-1-1h2m-1-1h2m-2 1h2m-1-3h2m-2 3h2m0 0h2m-1-2h2m-2 0h2m-2 0h2m-1 0h2m-1-1h2m-2 2h2m-2 2h2m-1-4h2m-2 2h2m-2 1h2m-1-2h2m-2 1h2m-2 1h2m-1-1h2m-1-1h2m-2 0h2m-2 1h2m-2 0h2m-2 0h2m-2 1h2m-1 0h2m-2 0h2m1-3h2m0 3h2m0-1h2m0-2h2m-2 0h2m-1 2h2m-2 0h2m0-2h2m-2 3h2m-1-2h2m0 0h2m-2 2h2m-2 0h2m-1-2h2m-1 1h2m-1-1h2m0 0h2m0 3h2m0-4h2m-1 0h2m0 0h2m-1 0h2m-2 0h2m-2 4h2m-1-2h2m-2 0h2m-1-2h2m-2 1h2m-2 2h2m0-1h2m-2 0h2m-1-1h2m-2 1h2m-1 0h2m-1 1h2m-2 1h2m0-4h2m-2 1h2m-2 0h2m-1-1h2m-2 0h2m-2 1h2m-1-1h2m2 0h2m-2 2h2m-1-2h2m-2 2h2m-2 1h2m-2 0h2m0-1h2m-2 1h2m-1-2h2m0-1h2m-2 1h2m-1 1h2m-2 0h2m-1-1h2m-2 0h2m-2 0h2m-2 2h2m-1-3h2m-1 0h2m-1 0h2m-2 2h2m-1 1h2m0-2h2m-2 1h2m-2 0h2m-1-2h2m-2 1h2m0-1h2m-1 0h2m-1 0h2m-1 2h2m-1-1h2m-2 0h2m-2 2h2m1-3h2m-2 1h2m-2 2h2m-1 0h2m0-2h2m-1 1h2m0-2h2m-2 1h2m-2 0h2m-2 2h2m-2 0h2m-1-3h2m-2 0h2m-2 3h2m0-2h2m-2 2h2m-1-1h2m-1 1h2m-2 0h2m-1-2h2m-1 1h2m-2 0h2m0 1h2m-1-3h2m-2 0h2m-1 0h2m-2 3h2m-2 0h2m-1 0h2m1-2h2m-2 0h2m-2 1h2m-1-2h2m-2 0h2m-2 2h2m-1-1h2m-1-1h2m-2 3h2m-2 0h2m-2 0h2m-1-3h2m-1 2h2m-1-1h2m-1 0h2m-2 1h2m-1-1h2m-2 2h2m-1-1h2m-2 1h2m1-3h2m-2 0h2m-2 0h2m-2 2h2m-2 2h2m-1-2h2m-1-1h2m-2 1h2m-1-2h2m-2 2h2m-2 1h2m-1-2h2m-2 2h2m-1-1h2m-1 2h2m-1-4h2m-2 2h2m-2 1h2m-2 0h2m0-1h2m0 0h2m-2 1h2m-2 0h2m0-2h2m-2 0h2m-2 1h2m-2 0h2m-2 0h2m-2 0h2m-1 1h2m0 0h2m-1-3h2m-2 4h2m1-4h2m-2 3h2m-1-2h2m-1 0h2m-2 1h2m-1 1h2m-1-2h2m-2 1h2m-1-2h2m-1 0h2m-2 2h2m-1 0h2m-2 1h2m-1 0h2m-1 0h2m-2 0h2m-1 0h2m-2 1h2m-1-2h2m-1 1h2m-1-3h2m-2 0h2m-2 1h2m-2 0h2m-2 0h2m-2 1h2m-1-1h2m-1 1h2m1 1h2m-2 0h2m0-3h2m-2 1h2m-2 2h2m-1 1h2m-1-3h2m-2 1h2m-2 1h2m0-2h2m-2 1h2m-1 0h2m-2 0h2m-2 1h2m-2 0h2m-1-3h2m-2 1h2m0-1h2m-1 0h2m-1 2h2m-1 0h2m-1 1h2m-1-1h2" stroke="#111" stroke-width="2" stroke-opacity="0.8" fill="none"/><path transform="scale(.25)" d="M92 760h2m-1-1h2m-1 0h2m-2 0h2m-2 2h2m-1 0h2m-1-3h2m-1 2h2m-2 2h2m-1-2h2m-2 2h2m-1 0h2m1-3h2m-2 3h2m-1 0h2m0-3h2m-2 3h2m-1-2h2m-2 0h2m-2 0h2m-2 0h2m-2 2h2m-1-2h2m0 0h2m-2 1h2m-2 1h2m-2 0h2m-1-1h2m-1-1h2m-1 0h2m-2 0h2m-1 1h2m-2 1h2m-1-1h2m-2 1h2m-1 0h2m-2 0h2m0-1h2m-1 0h2m-1-2h2m-2 2h2m-2 0h2m-2 0h2m-1 1h2m4-4h2m-2 2h2m-1-1h2m-2 0h2m-2 1h2m-1-1h2m-2 3h2m0-1h2m-2 0h2m0-2h2m-1 2h2m-2 0h2m-2 0h2m-1 1h2m0 0h2m1-3h2m-2 1h2m-2 0h2m-2 1h2m-1 0h2m2-2h2m-2 0h2m-2 2h2m-1 0h2m-2 1h2m-1-2h2m-1 0h2m-1-1h2m-2 1h2m-1 0h2m0 2h2m0 0h2m-2 0h2m-1-3h2m-2 0h2m-2 1h2m-2 0h2m-1 0h2m-2 1h2m-1 1h2m-2 0h2m0-3h2m-1 0h2m-1 2h2m-2 0h2m1 0h2m-1-1h2m-2 0h2m-1-2h2m0 1h2m-2 1h2m-2 1h2m-1-3h2m-2 2h2m-2 0h2m-2 1h2m-2 1h2m-1-1h2m-1-2h2m-1 1h2m-1 2h2m-1-2h2m-2 0h2m-1 2h2m-1 0h2m-2 0h2m-1-2h2m-2 0h2m-1 2h2m-2 0h2m0-3h2m-1 2h2m-1-2h2m-2 1h2m-2 0h2m-1-1h2m-2 1h2m-1 0h2m-2 0h2m-1-2h2m3 1h2m-2 2h2m-2 1h2m-2 0h2m-1-3h2m-1 2h2m-1-1h2m-2 2h2m-2 0h2m-1-3h2m-2 0h2m-2 3h2m-1-1h2m-1-1h2m-2 1h2m-2 0h2m-2 1h2m-1-4h2m0 0h2m-1 3h2m-2 0h2m-2 1h2m-2 0h2m-1 0h2m-1-2h2m-1-1h2m-2 2h2m-2 0h2m-1 0h2m-2 0h2m-2 0h2m-1-3h2m-2 2h2m-2 1h2m-1-2h2m-2 0h2m-2 0h2m-2 0h2m-2 2h2m-2 0h2m-2 0h2m-2 1h2m-1-3h2m-2 1h2m-2 2h2m-1-1h2m-1 1h2m0-2h2m-1 1h2m-2 1h2m-1-3h2m-2 2h2m0-2h2m-2 0h2m-1 2h2m-2 0h2m-2 1h2m-1-2h2m-1-1h2m-2 0h2m-1 1h2m-2 1h2m-2 1h2m-1-3h2m-2 1h2m-1-1h2m-2 2h2m-1-2h2m-2 0h2m-2 3h2m-1-3h2m-2 1h2m-1-1h2m-2 0h2m1 2h2m-2 1h2m-2 0h2m-1 0h2m0-3h2m-2 0h2m-1 0h2m-1 1h2m-1-1h2m-2 1h2m-2 0h2m-1 0h2m-1-1h2m-2 1h2m-2 1h2m-2 1h2m-2 0h2m0-1h2m-1 1h2m-2 0h2m-1-1h2m-2 1h2m-1-3h2m-2 2h2m-2 1h2m-1-3h2m-2 0h2m-1 1h2m-2 2h2m-1-3h2m-1 2h2m-2 0h2m-1 0h2m0 1h2m-2 0h2m-1-3h2m-2 0h2m-2 1h2m-1 1h2m-2 0h2m0-3h2m-2 3h2m-2 0h2m-1 0h2m-2 0h2m-1-2h2m-2 0h2m-2 1h2m-1-1h2m-2 1h2m-2 1h2m1-2h2m-2 2h2m-1-2h2m-2 1h2m-2 2h2m-2 0h2m-1-1h2m0 1h2m-1-3h2m-1 1h2m-1 0h2m-2 1h2m-2 1h2m0-3h2m-1 3h2m-1-1h2m-1-2h2m0 3h2m-1-2h2m-2 0h2m-1 0h2m-2 2h2m-1-3h2m-2 2h2m0-2h2m-2 2h2m0-1h2m-1-1h2m-2 0h2m-2 2h2m0-1h2m-2 0h2m-2 2h2m0-1h2m0-3h2m-2 1h2m-1 0h2m-2 1h2m-2 0h2m-2 0h2m-2 0h2m-2 1h2m-2 1h2m-1-3h2m-2 2h2m-1 0h2m-1 0h2m-1-2h2m-1 2h2m-1-1h2m-2 1h2m-1-2h2m-1 2h2m0 0h2m-2 1h2m-1-4h2m-2 1h2m-2 2h2m-1-2h2m-2 2h2m-1-3h2m-2 4h2m-2 0h2m-1-3h2m-1 1h2m-2 0h2m-1-1h2m-1 0h2m-2 0h2m-2 1h2m-1 1h2m-2 0h2m-1-2h2m-2 2h2m-1 0h2m-2 1h2m-2 0h2m-1-1h2m-2 0h2m-1 0h2m-2 1h2m-1-2h2m-2 1h2m-1 1h2m-2 0h2m0-3h2m-2 1h2m-2 2h2m-1-3h2m-2 0h2m-2 0h2m-1 0h2m-2 0h2m-2 1h2m-2 0h2m-1 0h2m-2 0h2m-2 0h2m-2 1h2m-1-1h2m-1 1h2m-2 0h2m-1-2h2m-2 3h2m-1-2h2m-2 0h2m-2 2h2m0 0h2m-1-2h2m-2 1h2m-2 0h2m-1-3h2m-2 3h2m-1 0h2m-2 1h2m-2 0h2m-1-2h2m-1 2h2m0-2h2m0-1h2m-2 1h2m-1 1h2m2-2h2m-2 0h2m-2 3h2m0 0h2m-1-2h2m-2 2h2m-1-3h2m-1 1h2m-1-1h2m-2 2h2m0 1h2m-1-3h2m-2 0h2m-1 2h2m-2 1h2m0 0h2m-2 0h2m-1-3h2m-2 0h2m-2 1h2m-1 2h2m-1-2h2m-2 0h2m-1-1h2m-2 3h2m-1-2h2m-1 1h2m-1-2h2m-2 1h2m-2 1h2m-1-2h2m-2 0h2m-2 1h2m-1-1h2m-2 0h2m-1 3h2m-1-3h2m-2 3h2m-1-2h2m0-1h2m-2 0h2m-2 2h2m-1-2h2m-2 1h2m-1 0h2m-2 1h2m1 0h2m-2 1h2m-1-4h2m-1 4h2m-1-3h2m-2 1h2m-1-1h2m-2 0h2m-2 1h2m-2 0h2m-2 2h2m0-3h2m-1 2h2m-2 1h2m0-3h2m-2 1h2m-2 0h2m-2 0h2m-1 0h2m-2 1h2m-2 0h2m-1-2h2m-2 1h2m-2 2h2m-1 0h2m-1-2h2m-2 0h2m-1 1h2m-1-2h2m-2 1h2m0 2h2m-1-3h2m-2 1h2m-2 1h2m-2 1h2m-2 0h2m-1-2h2m-1-1h2m-2 2h2m-1-2h2m-2 0h2m-2 3h2m-2 0h2m-2 0h2m-1-4h2m-2 3h2m-2 1h2m-1-3h2m-2 1h2m0 1h2m-1-2h2m-2 0h2m-2 1h2m-2 1h2m-1 0h2m-1 1h2m1-3h2m1-1h2m-2 2h2m-1-1h2m-2 1h2m-1-1h2m-1 3h2m-2 0h2m-1-2h2m-1 0h2m-2 2h2m-1-2h2m-2 0h2m-1 0h2m0 1h2m0-2h2m-1 0h2m-1 0h2m-2 1h2m-2 0h2m-1-1h2m-2 1h2m-2 0h2m-1 0h2m-2 1h2m0-1h2m-2 1h2m-2 1h2m-1-2h2m-2 2h2m-1-2h2m-1-1h2m-1 2h2m-1-2h2m-2 3h2m-1-1h2m-2 1h2m-1-3h2m-1 3h2m-1-1h2m-1-2h2m-2 1h2m-1-1h2m-2 0h2m-2 2h2m-1-1h2m-2 1h2m-2 1h2m-2 0h2m-1-1h2m-2 1h2m-2 0h2m-2 0h2m-1-2h2m-1-1h2m-1 0h2m-2 2h2m-2 1h2m-1-2h2m-1 0h2m1 1h2m-1-1h2m-1 0h2m0 2h2m-2 0h2m-1-3h2m-2 2h2m-2 0h2m-2 0h2m-2 1h2m-1-4h2m-2 4h2m-2 0h2m0-3h2m-1 0h2m-2 1h2m-1-1h2m0 1h2m-1 0h2m-2 2h2m-2 0h2m-1-2h2m-2 1h2m-2 0h2m-1 1h2m-1-1h2m-1-2h2m-2 1h2m-1 2h2m-1-1h2m-2 0h2m-2 1h2m-1-3h2m-2 1h2m-2 2h2m3-3h2m-1 1h2m-2 1h2m0-1h2m-2 1h2m-1 1h2m-1 0h2m-1-2h2m-2 1h2m-2 1h2m-1-2h2m-2 0h2m-2 1h2m-2 1h2m-1-3h2m-2 0h2m-2 3h2m0-2h2m-1-2h2m-2 0h2m-2 2h2m0-1h2m-2 0h2m-2 1h2m-2 0h2m-1-1h2m-2 1h2m-2 0h2m1-1h2m-1-1h2m-2 2h2m-2 0h2m-1-1h2m1 0h2m0 0h2m-2 3h2m-2 0h2m-1-1h2m-1-2h2m0 2h2m-1 1h2m1 0h2m-1-3h2m-1 1h2m-2 1h2m-2 0h2m-1-1h2m-1-1h2m-2 2h2m-1-3h2m-2 1h2m-1 0h2m-2 2h2m-2 1h2m-2 0h2m0-2h2m-1 2h2m-1-3h2m-1 2h2m-2 0h2m-1-2h2m-1 1h2m-2 0h2m-2 1h2m-1-1h2m0 0h2m-2 0h2m-1 1h2m0-1h2m-1 2h2m-1-3h2" stroke="#111" stroke-width="2" stroke-opacity="0.8" fill="none"/><path transform="scale(.25)" d="M103 733h2m12 8h2m13-8h2m1 3h2m-1-2h2m-1-1h2m-1 0h2m4 12h2m4-8h2m-1 3h2m11-4h2m-1 1h2m-1-4h2m1 8h2m1-5h2m0 7h2m0-10h2m-2 1h2m-1 4h2m-1-8h2m2 2h2m1-2h2m3 6h2m2-6h2m-1 6h2m1 6h2m4-12h2m1 9h2m-2 6h2m1-2h2m0 1h2m22-4h2m3-9h2m7 9h2m3 1h2m0-10h2m0 9h2m0 3h2m1-4h2m2-6h2m-2 4h2m-1 0h2m7-3h2m2 8h2m4 1h2m1-2h2m6-5h2m26 9h2m7-7h2m2-5h2m9 1h2m0 6h2m0 3h2m9-6h2m1 8h2m-1-6h2m2-4h2m1-4h2m12 10h2m5-4h2m10 1h2m0 5h2m0-6h2m4-1h2m0-1h2m0 10h2m6 0h2m7-12h2m3 11h2m0-6h2m8-2h2m6 6h2m2-10h2m-2 10h2m-2 3h2m3-13h2m-2 3h2m-2 7h2m-2 3h2m2-12h2m3 3h2m4-6h2m7 0h2m3 5h2m-2 3h2m1-2h2m0 6h2m-1 1h2m3-9h2m-2 0h2" stroke="#666" stroke-width="2" stroke-opacity="0.45" fill="none"/><path transform="scale(.25)" d="M92 769h3m-3 0h3m-2-6h3m-3 7h3m-3 1h3m-2-3h3m-2-6h3m-3 15h3m-2-9h3m-3 1h3m-3 17h3m-2-15h3m-2-8h3m-3 13h3m-3 1h3m-3 3h3m-3 5h3m-2-22h3m-3 2h3m-3 5h3m-1 10h3m-2 19h3m-2-30h3m-3 2h3m-2-7h3m-3 10h3m-2 5h3m-1-16h3m-2 2h3m-3 15h3m-2-2h3m-2-10h3m-2 4h3m-2-11h3m-3 31h3m-2-5h3m-2-26h3m-2-1h3m-3 1h3m-3 2h3m-2 0h3m-2 9h3m-2-3h3m-2 14h3m-3 12h3m-2-35h3m-3 10h3m-2 8h3m-2-16h3m-3 2h3m-1 3h3m-3 21h3m-2-26h3m-2 5h3m-2 8h3m-3 24h3m-2-32h3m-3 7h3m-2-10h3m-2-2h3m-2 12h3m-2 16h3m-2-26h3m-3 1h3m-2-4h3m-2 19h3m-2 9h3m-2-3h3m-2-25h3m-3 25h3m-2-26h3m-3 8h3m-3 0h3m-3 15h3m0-17h3m-3 9h3m-3 12h3m-2-17h3m-3 2h3m-3 1h3m-2-10h3m-2 0h3m-1 1h3m-1 6h3m-3 4h3m-2-5h3m-2 3h3m-2-5h3m-3 9h3m0-14h3m-2 21h3m-2-13h3m-3 2h3m-2-10h3m-3 1h3m-2-2h3m-3 11h3m-1 1h3m1-10h3m-3 6h3m-3 8h3m-2-16h3m-3 2h3m-1 1h3m-3 14h3m-2-11h3m-2-5h3m-3 12h3m-3 5h3m-2-18h3m-2 1h3m-3 0h3m-3 17h3m-2-16h3m-3 4h3m-2-6h3m-2 0h3m-3 4h3m-2 4h3m-2-6h3m-3 6h3m-2-5h3m-2-4h3m-3 1h3m-3 1h3m-3 7h3m-3 1h3m-3 7h3m-2-7h3m-3 48h3m-2-36h3m-2-20h3m-3 15h3m-2-17h3m-3 3h3m-3 4h3m-3 3h3m-3 2h3m-3 1h3m-2 2h3m-2-12h3m-3 11h3m-3 11h3m-2-25h3m-3 3h3m-3 24h3m-2-12h3m-3 2h3m-2-14h3m-3 7h3m-3 22h3m-1-26h3m-3 4h3m-2-8h3m-2 3h3m-3 7h3m-3 0h3m-3 2h3m-3 4h3m-2-12h3m-3 13h3m-3 8h3m-2-10h3m-3 2h3m-3 2h3m-2-11h3m-3 3h3m0-9h3m-3 17h3m-2-3h3m-2-16h3m-3 19h3m-2-14h3m-2-5h3m-3 3h3m-2-5h3m-3 9h3m-3 7h3m-1-14h3m-3 5h3m-3 9h3m-3 2h3m-2 5h3m-2-22h3m-3 1h3m0-1h3m-2 21h3m-2-9h3m-2 3h3m-2 0h3m-2-15h3m-2 1h3m-3 0h3m-2 2h3m-3 1h3m-3 3h3m-2-5h3m-3 27h3m-2-22h3m-2 3h3m-2-8h3m-3 10h3m-2-5h3m-3 23h3m-2-9h3m-2-22h3m-1 6h3m-2 4h3m-3 5h3m-1-7h3m-2-7h3m-1 10h3m-3 23h3m-3 2h3m-2-33h3m-3 13h3m-2-16h3m-3 6h3m-3 17h3m-2-17h3m-2-3h3m-3 1h3m-1 3h3m-2-5h3m0 15h3m-2-3h3m-2 21h3m-1-35h3m-3 3h3m-1 1h3m-3 6h3m-2-8h3m-2 10h3m-3 18h3m-3 3h3m-2-28h3m-2 5h3m-2 14h3m-2-20h3m-1-3h3m-1 24h3m-1-21h3m-3 9h3m-3 1h3m-2-11h3m-2-2h3m-3 16h3m-1-15h3m-3 3h3m-3 7h3m-2-12h3m-3 8h3m-3 6h3m-3 8h3m-2-15h3m-2 2h3m-2-5h3m-1 18h3m-2 9h3" stroke="#2a2a2a" stroke-width="3" stroke-opacity="0.7" fill="none"/><path transform="scale(.25)" d="M276 760h3m-2 0h3m-3 6h3m0-2h3m-3 3h3m-2 2h3m-1-4h3m-2-3h3m-3 4h3m0-1h3m2-5h3m-2 4h3m1-2h3m-3 2h3m-2-2h3m-3 2h3m-3 7h3m-1-7h3m-1 1h3m0 1h3m-3 22h3m-2-18h3m-3 0h3m-2-5h3m-3 1h3m-3 7h3m-1-12h3m-3 2h3m-3 38h3m-2-36h3m-2-4h3m-3 11h3m-2-7h3m-1-4h3m-3 0h3m-3 1h3m-3 9h3m-1-11h3m-3 2h3m-1 12h3m-2-11h3m-2-3h3m-3 21h3m-2 1h3m-2-11h3m1-8h3m-3 0h3m-3 7h3m-1-10h3m-3 3h3m3-3h3m0 3h3m-3 6h3m-2-4h3m-2 4h3m-1 5h3m-2-1h3m-2-11h3m2 6h3m-2-3h3m0 0h3m-2-5h3m-2 0h3m-2 12h3m-3 13h3m-2-25h3m-1 8h3m-2-5h3m-2 1h3m-3 5h3m0-9h3m-2 7h3m1-1h3m-1 4h3m0 2h3m-2-12h3m-2 3h3m-3 2h3m-3 6h3m-2-7h3m-3 3h3m-3 34h3m1-30h3m-1-10h3m-1 27h3m-1-28h3m-3 6h3m-3 2h3m-2-7h3m2-1h3m-2 2h3m-3 6h3m0-4h3m-2 10h3m-2-8h3m0-4h3m-2 1h3m-1-3h3m-3 9h3m-1-6h3m-2-2h3m1-1h3m-2 4h3m-3 7h3m-2-7h3m-3 14h3m-2-14h3m-1 2h3m-3 19h3m-2-13h3m-2-6h3m-2-1h3m-2-5h3m-3 7h3m-2 9h3m-1-13h3m-1-1h3m-3 1h3m1 26h3m-2-28h3m-3 5h3m-3 2h3m-2-6h3m-1 13h3m-1-14h3m-3 1h3m0-2h3m-2 8h3m-3 14h3m2-14h3m-3 5h3m-2 3h3m-2-11h3m-2-1h3m-2-3h3m-3 7h3m-2 4h3m-1-12h3m-3 4h3m-2 7h3m-1-5h3m0-1h3m-2 0h3m-3 4h3m-2-3h3m-1 0h3m-2 5h3m-1-9h3m-2-1h3m-3 1h3m-2 1h3m-3 4h3m-1 0h3m-2-2h3m-1-3h3m-1-1h3m-2 0h3m-2 3h3m-3 1h3m-1-5h3m-3 3h3m-3 2h3m-2-1h3m-3 20h3m-2-21h3m-2 2h3m-3 11h3m0-12h3m3 20h3m-2-20h3m-2-3h3m-3 3h3m-3 1h3m-2-1h3m-3 2h3m-3 0h3m-1 4h3m-1-9h3m-3 0h3m-2 0h3m-2 7h3m-3 3h3m-2-9h3m-3 0h3m-3 4h3m-3 0h3m-2 7h3m-3 1h3m-2-14h3m-1 4h3m-3 13h3m-2-8h3m-3 23h3m-2-29h3m1 19h3m-1-18h3m-2-4h3m-3 2h3m-1 11h3" stroke="#2a2a2a" stroke-width="3" stroke-opacity="0.7" fill="none"/><path transform="scale(.25)" d="M274 778h3m-2-13h3m-3 10h3m-2-14h3m-3 25h3m-2-20h3m-3 2h3m-3 3h3m-2-9h3m-3 3h3m-2-4h3m-3 2h3m-3 1h3m-3 10h3m-3 6h3m-3 2h3m-2-21h3m-3 3h3m-3 0h3m-3 17h3m-3 31h3m-3 3h3m-2-49h3m-3 22h3m-3 0h3m-3 6h3m-3 26h3m-2-59h3m-3 4h3m-3 19h3m-2-16h3m-3 24h3m-2-25h3m-2-4h3m-3 4h3m-3 3h3m-3 4h3m-3 8h3m-2-21h3m-3 1h3m-3 2h3m-3 1h3m-3 0h3m-3 1h3m-3 1h3m-3 2h3m-3 4h3m-2-3h3m-3 5h3m-3 0h3m-3 8h3m-2 4h3m-3 30h3m-2-56h3m-3 2h3m-3 2h3m-3 2h3m-3 9h3m-3 5h3" stroke="#2a2a2a" stroke-width="3" stroke-opacity="0.7" fill="none"/><path transform="scale(.25)" d="M114 828h2m-1-17h2m8 12h2m28-19h2m-2 6h2m-1 17h2m2 5h2m39 11h2m-1-53h2m-2 42h2m2 9h2m-2 10h2m21-15h2m11 5h2m-1-59h2m0 63h2m15 2h2m1-18h2m0-30h2m-2 16h2m6 20h2m0-54h2m-1 9h2m6 42h2m8-29h2m4 0h2m-1 46h2m0-18h2m12-10h2m3 10h2m35-19h2m3 11h2m15 15h2m1-29h2m-2 28h2m1 12h2m3-3h2m3-62h2m3 41h2m6 21h2m-2 3h2m14-60h2m31 50h2m13-27h2m6-15h2m1-2h2m-2 28h2m1 13h2m10 10h2m2 6h2" stroke="#777" stroke-width="2" stroke-opacity="0.6" fill="none"/><rect x="23" y="178.7" width="106.5" height="2" fill="#e07ae2" fill-opacity="1.0"/><rect x="122.5" y="176.2" width="7" height="1.6" fill="#444" fill-opacity="0.6"/><rect x="23" y="142.2" width="106.5" height="71.4" fill="none" stroke="#8c8c8c" stroke-width=".7"/><line x1="23" y1="213.6" x2="129.5" y2="213.6" stroke="#666" stroke-width="1"/><line x1="23" y1="142.2" x2="23" y2="213.6" stroke="#888" stroke-width=".6"/><text x="61.9" y="138.8" font-size="7" font-weight="normal" text-anchor="start" fill="#141414" textLength="32.1" lengthAdjust="spacingAndGlyphs" stroke="#141414" stroke-width=".4">10ng total</text><text x="5.2" y="179" font-size="3.1" text-anchor="middle" fill="#1e1e1e" stroke="#1e1e1e" stroke-width=".12" textLength="20" lengthAdjust="spacingAndGlyphs" transform="rotate(-90 5.2 179)">Ch1 Amplitude</text><text x="29.25" y="220.8" font-size="5.4" font-weight="bold" text-anchor="start" fill="#141414" textLength="12.1" lengthAdjust="spacingAndGlyphs" stroke="#141414" stroke-width=".5">100%</text><text x="53.25" y="220.8" font-size="5.4" font-weight="bold" text-anchor="start" fill="#141414" textLength="9.1" lengthAdjust="spacingAndGlyphs" stroke="#141414" stroke-width=".5">10%</text><text x="74.95" y="220.8" font-size="5.4" font-weight="bold" text-anchor="start" fill="#141414" textLength="6.4" lengthAdjust="spacingAndGlyphs" stroke="#141414" stroke-width=".5">1%</text><text x="93.85" y="220.8" font-size="5.4" font-weight="bold" text-anchor="start" fill="#141414" textLength="12.9" lengthAdjust="spacingAndGlyphs" stroke="#141414" stroke-width=".5">0.1%</text><text x="118.75" y="220.8" font-size="5.4" font-weight="bold" text-anchor="start" fill="#141414" textLength="6.1" lengthAdjust="spacingAndGlyphs" stroke="#141414" stroke-width=".5">0%</text><text x="101.55" y="203.3" font-size="4.5" font-weight="bold" text-anchor="start" fill="#25a454" textLength="3.3" lengthAdjust="spacingAndGlyphs" stroke="#25a454" stroke-width=".3">R</text><text x="105.1" y="201.4" font-size="2.6" font-weight="bold" text-anchor="start" fill="#25a454" >2</text><text x="107.85" y="203.3" font-size="4.5" font-weight="bold" text-anchor="start" fill="#25a454" textLength="16.5" lengthAdjust="spacingAndGlyphs" stroke="#25a454" stroke-width=".3">0.9991</text><text x="101.55" y="211.9" font-size="4.5" font-weight="bold" text-anchor="start" fill="#25a454" textLength="19.8" lengthAdjust="spacingAndGlyphs" stroke="#25a454" stroke-width=".3">P &lt; 0.0001</text><rect x="156.2" y="142.3" width="104.8" height="71.4" fill="#f4f4f4" fill-opacity="1.0"/><text x="150.48" y="214.86" font-size="3.5" font-weight="bold" text-anchor="start" fill="#1a1a1a" textLength="2.09" lengthAdjust="spacingAndGlyphs" stroke="#1a1a1a" stroke-width=".25">0</text><line x1="155.2" y1="213.6" x2="156.2" y2="213.6" stroke="#888" stroke-width=".5"/><line x1="156.2" y1="204.66" x2="261" y2="204.66" stroke="#e4e4e4" stroke-width=".5"/><text x="143.46" y="205.92" font-size="3.5" font-weight="bold" text-anchor="start" fill="#1a1a1a" textLength="9.11" lengthAdjust="spacingAndGlyphs" stroke="#1a1a1a" stroke-width=".25">2000</text><line x1="155.2" y1="204.66" x2="156.2" y2="204.66" stroke="#888" stroke-width=".5"/><line x1="156.2" y1="195.72" x2="261" y2="195.72" stroke="#e4e4e4" stroke-width=".5"/><text x="143.46" y="196.98" font-size="3.5" font-weight="bold" text-anchor="start" fill="#1a1a1a" textLength="9.11" lengthAdjust="spacingAndGlyphs" stroke="#1a1a1a" stroke-width=".25">4000</text><line x1="155.2" y1="195.72" x2="156.2" y2="195.72" stroke="#888" stroke-width=".5"/><line x1="156.2" y1="186.79" x2="261" y2="186.79" stroke="#e4e4e4" stroke-width=".5"/><text x="143.46" y="188.05" font-size="3.5" font-weight="bold" text-anchor="start" fill="#1a1a1a" textLength="9.11" lengthAdjust="spacingAndGlyphs" stroke="#1a1a1a" stroke-width=".25">6000</text><line x1="155.2" y1="186.79" x2="156.2" y2="186.79" stroke="#888" stroke-width=".5"/><line x1="156.2" y1="177.85" x2="261" y2="177.85" stroke="#e4e4e4" stroke-width=".5"/><text x="143.46" y="179.11" font-size="3.5" font-weight="bold" text-anchor="start" fill="#1a1a1a" textLength="9.11" lengthAdjust="spacingAndGlyphs" stroke="#1a1a1a" stroke-width=".25">8000</text><line x1="155.2" y1="177.85" x2="156.2" y2="177.85" stroke="#888" stroke-width=".5"/><line x1="156.2" y1="168.91" x2="261" y2="168.91" stroke="#e4e4e4" stroke-width=".5"/><text x="141.12" y="170.17" font-size="3.5" font-weight="bold" text-anchor="start" fill="#1a1a1a" textLength="11.45" lengthAdjust="spacingAndGlyphs" stroke="#1a1a1a" stroke-width=".25">10000</text><line x1="155.2" y1="168.91" x2="156.2" y2="168.91" stroke="#888" stroke-width=".5"/><line x1="156.2" y1="159.97" x2="261" y2="159.97" stroke="#e4e4e4" stroke-width=".5"/><text x="141.12" y="161.23" font-size="3.5" font-weight="bold" text-anchor="start" fill="#1a1a1a" textLength="11.45" lengthAdjust="spacingAndGlyphs" stroke="#1a1a1a" stroke-width=".25">12000</text><line x1="155.2" y1="159.97" x2="156.2" y2="159.97" stroke="#888" stroke-width=".5"/><line x1="156.2" y1="151.04" x2="261" y2="151.04" stroke="#e4e4e4" stroke-width=".5"/><text x="141.12" y="152.3" font-size="3.5" font-weight="bold" text-anchor="start" fill="#1a1a1a" textLength="11.45" lengthAdjust="spacingAndGlyphs" stroke="#1a1a1a" stroke-width=".25">14000</text><line x1="155.2" y1="151.04" x2="156.2" y2="151.04" stroke="#888" stroke-width=".5"/><text x="141.12" y="143.36" font-size="3.5" font-weight="bold" text-anchor="start" fill="#1a1a1a" textLength="11.45" lengthAdjust="spacingAndGlyphs" stroke="#1a1a1a" stroke-width=".25">16000</text><line x1="155.2" y1="142.1" x2="156.2" y2="142.1" stroke="#888" stroke-width=".5"/><line x1="169.3" y1="142.3" x2="169.3" y2="213.7" stroke="#e4e4e4" stroke-width=".5"/><line x1="169.3" y1="213.7" x2="169.3" y2="214.7" stroke="#666" stroke-width=".6"/><line x1="182.4" y1="142.3" x2="182.4" y2="213.7" stroke="#e4e4e4" stroke-width=".5"/><line x1="182.4" y1="213.7" x2="182.4" y2="214.7" stroke="#666" stroke-width=".6"/><line x1="195.5" y1="142.3" x2="195.5" y2="213.7" stroke="#e4e4e4" stroke-width=".5"/><line x1="195.5" y1="213.7" x2="195.5" y2="214.7" stroke="#666" stroke-width=".6"/><line x1="208.6" y1="142.3" x2="208.6" y2="213.7" stroke="#e4e4e4" stroke-width=".5"/><line x1="208.6" y1="213.7" x2="208.6" y2="214.7" stroke="#666" stroke-width=".6"/><line x1="221.7" y1="142.3" x2="221.7" y2="213.7" stroke="#e4e4e4" stroke-width=".5"/><line x1="221.7" y1="213.7" x2="221.7" y2="214.7" stroke="#666" stroke-width=".6"/><line x1="234.8" y1="142.3" x2="234.8" y2="213.7" stroke="#e4e4e4" stroke-width=".5"/><line x1="234.8" y1="213.7" x2="234.8" y2="214.7" stroke="#666" stroke-width=".6"/><line x1="247.9" y1="142.3" x2="247.9" y2="213.7" stroke="#e4e4e4" stroke-width=".5"/><line x1="247.9" y1="213.7" x2="247.9" y2="214.7" stroke="#666" stroke-width=".6"/><line x1="177.2" y1="142.3" x2="177.2" y2="213.7" stroke="#efeec0" stroke-width=".8"/><line x1="198.5" y1="142.3" x2="198.5" y2="213.7" stroke="#efeec0" stroke-width=".8"/><line x1="221.5" y1="142.3" x2="221.5" y2="213.7" stroke="#efeec0" stroke-width=".8"/><line x1="244.3" y1="142.3" x2="244.3" y2="213.7" stroke="#efeec0" stroke-width=".8"/><path transform="scale(.25)" d="M625 622h4m0 0h4m-3 2h4m-3 8h4m-2-29h4m-2 22h4m-2 3h4m-3-5h4m-2-5h4m-4 7h4m-4 4h4m-2-6h4m-3 16h4m-4 3h4m-3-21h4m-4 3h4m-3-8h4m-4 13h4m-4 12h4m-3-33h4m-4 4h4m-3 8h4m-3-10h4m-2-5h4m-4 29h4m-3-21h4m-4 28h4m-3-40h4m-3 13h4m-4 5h4m-4 13h4m-3-30h4m-4 9h4m-4 16h4m-4 8h4m-2-7h4m-3-24h4m-4 26h4m-4 18h4m-3-31h4m-4 21h4m-4 4h4m-3-27h4m-4 10h4m-3-11h4m-1-1h4m-1 19h4m-2-10h4m-4 3h4m-3 3h4m-4 8h4m-1-26h4m-4 2h4m-2 9h4m-3 5h4m-2 11h4m-3-21h4m-3 26h4m-3-9h4m-3-10h4m-3-22h4m-4 22h4m-3-10h4m-1-6h4m-1 29h4" stroke="#1a58c4" stroke-width="4" stroke-opacity="0.9" fill="none"/><path transform="scale(.25)" d="M627 676h4m-4 35h4m-3-32h4m-3-1h4m-4 5h4m-4 25h4m-2-9h4m-2-14h4m-4 7h4m-4 3h4m-4 5h4m-4 6h4m-2-27h4m-3 12h4m-3 0h4m-3-6h4m-4 17h4m-3-10h4m-3 18h4m-3-24h4m-4 2h4m-4 12h4m-3-1h4m-4 7h4m-4 5h4m-3-39h4m-4 11h4m-2 13h4m-3-27h4m-4 29h4m-3-5h4m-3-16h4m-4 28h4m-2-39h4m-4 4h4m-4 21h4m-3-8h4m-4 31h4m-2-32h4m-4 3h4m-2-15h4m-2 5h4m-4 10h4m-3-24h4m-4 33h4m-3 6h4m-2-19h4m-3-16h4m-2 34h4m-4 6h4m-3-16h4m-3-2h4m-3-15h4m-1 21h4m-4 3h4m-3 0h4m-2-13h4m-4 0h4m-3 27h4m-3-6h4m-4 2h4m-3-7h4m-2-4h4m-2 2h4m-4 10h4m-2-37h4m-4 11h4m-3 10h4m-1-21h4m-4 28h4m-3-11h4m-3 4h4m-4 8h4m-3-9h4m-3-19h4" stroke="#1a58c4" stroke-width="4" stroke-opacity="0.9" fill="none"/><path transform="scale(.25)" d="M632 707h4m0-51h4m-4 13h4m-3-28h4m-4 72h4m4-84h4m-2 21h4m-2-52h4m-4 94h4m-3-2h4m0-24h4m-4 11h4m-1-56h4m3-24h4m-2 4h4m-3 90h4m-3-95h4m-4 68h4m1-37h4m-3-28h4m-3 48h4m-3-48h4m0 55h4m-1-8h4m3 10h4" stroke="#2274de" stroke-width="4" stroke-opacity="0.9" fill="none"/><path transform="scale(.25)" d="M702 643h4m-3-28h4m-2-14h4m-2 58h4m-3-54h4m7 67h4m-2 29h4m-1 3h4m-1-20h4m-2-68h4m-4 45h4m0-55h4m-4 107h4m-3-42h4m1-21h4m-3-4h4m-4 29h4m-2-70h4m2 51h4m-2-31h4m1 88h4m0-48h4m-4 12h4m2 33h4m-4 5h4m6-24h4m-3-59h4m-3 49h4m4 35h4m-4 1h4m2-34h4m-4 34h4" stroke="#2274de" stroke-width="4" stroke-opacity="0.9" fill="none"/><path transform="scale(.25)" d="M864 606h4m6 51h4m32 32h4m23-46h4m12 57h4" stroke="#2274de" stroke-width="4" stroke-opacity="0.9" fill="none"/><rect x="156.2" y="188.3" width="104.8" height="4.1" fill="#121212" fill-opacity="1.0"/><path transform="scale(.25)" d="M626 752h2m-2 0h2m-1 0h2m-2 0h2m-2 0h2m-1-1h2m-2 3h2m-1-2h2m-2 0h2m-2 1h2m-1 0h2m-2 1h2m-1-3h2m-1-1h2m-2 0h2m-2 1h2m-2 0h2m0 0h2m0 2h2m-2 1h2m-1-1h2m0-1h2m-2 2h2m-1 0h2m-1-2h2m-2 0h2m-2 0h2m-2 2h2m0-4h2m-2 3h2m-2 1h2m-1-3h2m-2 2h2m-2 1h2m-1-2h2m-2 1h2m-1 1h2m-1-4h2m-2 2h2m-1 0h2m-1-1h2m-2 2h2m-1-1h2m-2 0h2m-2 1h2m-2 0h2m-2 0h2m-1-1h2m-2 1h2m-1 0h2m-1-3h2m-2 1h2m-1 0h2m-2 1h2m-1 1h2m-1-1h2m0-1h2m2-1h2m-2 2h2m-1 0h2m-1-1h2m-1 1h2m-1 0h2m-2 1h2m-1-2h2m-2 0h2m-2 1h2m-2 1h2m-1-3h2m-2 4h2m0-4h2m-2 2h2m-2 2h2m-1-4h2m-2 2h2m-1-1h2m-2 1h2m-1 0h2m-1-1h2m-1 0h2m-1 1h2m0-2h2m-2 0h2m-2 1h2m-2 0h2m-2 1h2m-1-1h2m-1 1h2m-2 0h2m0 0h2m-1-1h2m-1 2h2m-1-1h2m-2 0h2m-1-2h2m-2 1h2m-2 1h2m-1 0h2m-1 1h2m-1-1h2m2 1h2m-1-1h2m0-2h2m-2 1h2m-2 3h2m-1-3h2m-1 2h2m-1 0h2m-1-1h2m-2 1h2m0-3h2m-2 3h2m-2 0h2m1-2h2m-1-1h2m-2 2h2m-2 2h2m-2 0h2m-1-4h2m-2 1h2m-2 2h2m0-1h2m-2 1h2m-1-3h2m-2 2h2m-2 1h2m-1-2h2m-1 1h2m-1 0h2m-1 1h2m-2 0h2m0-2h2m-1 2h2m-1-3h2m-2 1h2m-2 0h2m-2 0h2m-2 2h2m-1 0h2m-2 0h2m-1-1h2m-2 1h2m-1-2h2m-2 2h2m-2 1h2m0-1h2m-1-1h2m-2 2h2m-1-4h2m-1 1h2m-2 1h2m-2 1h2m-1-2h2m-2 2h2m0-3h2m-2 1h2m-2 0h2m-2 1h2m-2 2h2m-1-1h2m-1-3h2m-1 1h2m-1 0h2m-2 0h2m-2 1h2m-2 1h2m-1-1h2m-1-2h2m-2 2h2m-2 2h2m0-3h2m-2 3h2m-1-3h2m-2 1h2m-1-2h2m-1 1h2m-1 1h2m-2 0h2m-1 0h2m-2 2h2m-1-2h2m-2 0h2m0-1h2m-2 1h2m-2 0h2m-2 2h2m-1-4h2m-2 1h2m-1-1h2m-2 0h2m-2 1h2m-2 1h2m-2 1h2m-1-3h2m-2 2h2m-2 1h2m-2 1h2m-1-3h2m-2 1h2m-1-2h2m0 1h2m-2 3h2m-1-2h2m-1 0h2m-1 0h2m-1 1h2m-2 0h2m-1-2h2m-2 0h2m-1 1h2m-2 1h2m-2 1h2m-1-4h2m-2 2h2m-2 0h2m-1-1h2m-2 2h2m-2 1h2m0-2h2m-1 1h2m0-3h2m-1 2h2m-2 0h2m-2 1h2m-2 0h2m-1 1h2m-1-1h2m-1-2h2m-1 0h2m-2 2h2m-1-2h2m-2 3h2m0-2h2m-2 0h2m-2 1h2m-1-1h2m-2 1h2m-1-2h2m-1 2h2m-2 0h2m-1 1h2m-1-3h2m2 1h2m-2 2h2m-2 0h2m1-1h2m-2 0h2m-1-3h2m-1 1h2m-2 2h2m-2 0h2m-1-2h2m-2 1h2m-2 0h2m-2 0h2m-2 1h2m-1 0h2m-1-2h2m-2 0h2m-2 1h2m-1-2h2m0 2h2m-1-1h2m-2 2h2m-1-3h2m-2 4h2m-1-1h2m-2 1h2m-1-1h2m-1-1h2m-2 1h2m-1-2h2m-2 1h2m-1-1h2m-2 0h2m0 0h2m-1-1h2m-2 1h2m-1 1h2m-1 1h2m-2 0h2m-2 1h2m-1-3h2m-2 2h2m-1 1h2m-1-4h2m-1 4h2m-1-3h2m-1 1h2m-2 0h2m-2 1h2m0 1h2m0-1h2m-1-2h2m-2 1h2m-2 2h2m-1-2h2m-1-1h2m-1 0h2m-2 1h2m-2 1h2m-2 1h2m-1-3h2m-1 0h2m-1 0h2m-1 0h2m-2 1h2m-2 0h2m-1 2h2m-1-2h2m-2 0h2m0-1h2m-1-1h2m-2 0h2m-2 2h2m-1 0h2m-2 0h2m-2 1h2m-1-2h2m-2 2h2m-1-3h2m-2 1h2m1-1h2m-2 2h2m-2 1h2m-1 0h2m-1-1h2m-1 0h2m-1-2h2m-2 3h2m2 1h2m0-1h2m0-2h2m-2 1h2m-2 0h2m-2 0h2m-1-1h2m0 0h2m-1 2h2m-2 0h2m0 1h2m0-4h2m-2 3h2m-2 1h2m-1-2h2m-1-1h2m-1 0h2m-1 0h2m-2 1h2m-2 1h2m-1-2h2m-2 1h2m-1-2h2m-1 4h2m-1-4h2m-1 3h2m-2 0h2m-1-1h2m0-1h2m-2 0h2m-2 0h2m-2 2h2m-1-1h2m-2 0h2m-2 2h2m-1-1h2m-1-3h2m-2 1h2m-1 2h2m-1-2h2m-2 2h2m-1-2h2m-2 0h2m-2 1h2m-1-2h2m-2 2h2m-2 1h2m-1-2h2m-1-1h2m-2 2h2m-2 1h2m0-1h2m-2 0h2m-2 1h2m-1-2h2m-2 0h2m-2 1h2m0 1h2m-1-1h2m-2 0h2m-1-2h2m-1 3h2m-1-1h2m-2 0h2m-2 1h2m-2 0h2m0-1h2m-1 2h2m-1-3h2m-2 1h2m-1-2h2m-1 1h2m-2 1h2m-1 0h2m-1 2h2m-1-1h2m-1-1h2m-2 0h2m0 0h2m-1 1h2m-1-2h2m-2 2h2m-2 0h2m-1-3h2m-1 3h2m-2 0h2m-2 0h2m-1-3h2m-2 1h2m-2 3h2m0-3h2m-1 1h2m-1-2h2m-2 1h2m-1 2h2m-2 0h2m-1 0h2m-2 0h2m-2 1h2m-1-4h2m-1 1h2m-2 0h2m-2 1h2m-1-2h2m-2 2h2m-1 0h2m0-1h2m-2 2h2m0-1h2m-2 1h2m-1-2h2m-2 0h2m-1 1h2m-1-2h2m-2 2h2m-1-2h2m-2 0h2m-1 1h2m-2 3h2m-1-3h2m0 1h2m-1-2h2m-2 1h2m-2 2h2m-1-1h2m-2 1h2m-1-1h2m-1 1h2m-1-2h2m-2 0h2m-2 1h2m-2 0h2m-2 1h2m-1-3h2m0 1h2m-2 2h2m-1-3h2m-2 1h2m-2 3h2m-1-1h2m0-1h2m-2 1h2m-1-1h2m0 0h2m-2 1h2m0 1h2m-1-3h2m-2 1h2m0 0h2m4-2h2m-2 4h2m-1-4h2m-2 4h2m-1-3h2m-2 1h2m-2 2h2m-1-3h2m-1-1h2m-2 4h2m-1-3h2m-2 3h2m-1-3h2m-2 0h2m0 0h2m-2 0h2m-1 0h2m-2 0h2m-1 1h2m-2 1h2m0-3h2m-2 2h2m-1 1h2m-1-2h2m-1 3h2m0-3h2m-2 0h2m0 1h2m-2 1h2m-2 0h2m0-1h2m-2 1h2m-1-2h2m-2 3h2m-1-3h2m-1 2h2m-2 1h2m0-4h2m-2 4h2m0-3h2m-2 0h2m-2 0h2m-2 1h2m0-1h2m-1 0h2m-2 1h2m-2 1h2m-2 1h2m-1-3h2m-2 1h2m-2 1h2m-1-2h2m-2 2h2m-2 0h2m-2 0h2m-1-1h2m-2 1h2m-2 1h2m-1 0h2m-1-4h2m-2 1h2m-2 1h2m-2 1h2m-1-2h2m-2 2h2m-1 0h2m-2 1h2m-1-3h2m-2 2h2m1 1h2m-1-2h2m-2 0h2m-1-2h2m-2 1h2m-2 2h2m-1 0h2m-1-2h2m-2 2h2m-1-2h2m-1 3h2m-1-1h2m-1 0h2m0-3h2m-2 1h2m1 3h2m-1-4h2m-2 0h2m-2 2h2m-1-1h2m-2 1h2m-1-2h2m-2 2h2m-2 1h2m-1-3h2m-2 1h2m-1 0h2m-2 1h2m-2 0h2m-2 2h2m-1-4h2m-1 1h2m-2 1h2m-2 1h2m0-2h2m-1 1h2m-1-2h2m0 2h2m-2 0h2m-1-2h2m-2 0h2m-2 3h2m-1-1h2m-2 2h2m-1-3h2m-2 2h2m-2 1h2m-1-3h2m-2 0h2m-2 1h2m-1-2h2m-2 3h2m-1 1h2m-1 0h2m-1-4h2m-2 3h2m-2 1h2m-1 0h2m-1-1h2m0 0h2m-2 0h2m-2 1h2m-1-1h2m0-1h2m-2 0h2m-1-2h2m-2 3h2m-2 1h2m-1 0h2m-1-3h2m-2 3h2m-1-1h2m1-2h2m-2 1h2m-2 1h2m-1-1h2m-2 0h2m-2 0h2m-2 1h2m-1 0h2" stroke="#111" stroke-width="2" stroke-opacity="0.8" fill="none"/><path transform="scale(.25)" d="M625 772h2m-1-2h2m-1-1h2m-2 0h2m-2 3h2m-1-3h2m-2 1h2m-2 1h2m-2 1h2m1-2h2m-2 1h2m-2 1h2m-1 0h2m-1-3h2m-2 2h2m-2 1h2m-1-2h2m-2 1h2m-1-2h2m-1 3h2m-1-1h2m-1-1h2m-1 2h2m-1-2h2m-1-1h2m-1 1h2m0 1h2m-1 1h2m-2 0h2m0-2h2m-1 2h2m-1-1h2m-2 2h2m-1-3h2m-2 2h2m0 1h2m-1-4h2m-2 3h2m-1-1h2m-2 0h2m-1-1h2m-2 0h2m-2 0h2m-2 1h2m-2 1h2m-2 0h2m-1-2h2m-2 2h2m-1-2h2m-2 0h2m0 2h2m-1-3h2m-1 0h2m-1 3h2m0-1h2m-2 0h2m-2 1h2m-2 0h2m-1-2h2m-1-1h2m-2 2h2m-2 0h2m-2 0h2m-1-1h2m-2 3h2m-1-1h2m-1-2h2m-2 1h2m-2 0h2m-1 2h2m-1-3h2m-2 1h2m-1 1h2m-2 0h2m-1-2h2m-1 0h2m-2 1h2m-1-2h2m-2 2h2m1 0h2m-1-2h2m0 1h2m-2 1h2m-2 0h2m-2 0h2m-1-1h2m-2 2h2m-1 0h2m-1-1h2m-1 0h2m-2 0h2m-2 2h2m-1-1h2m0-2h2m-2 1h2m-2 1h2m-2 0h2m-2 0h2m-2 1h2m-1 0h2m-1-2h2m-2 2h2m-1-2h2m-1 0h2m0-1h2m-1 0h2m-1 3h2m-1-3h2m-2 1h2m-2 1h2m-2 0h2m-1-3h2m-2 1h2m-2 1h2m-1 1h2m-2 1h2m-1-1h2m-1-3h2m-2 0h2m-2 2h2m-2 1h2m0-2h2m-2 1h2m-1-2h2m-2 2h2m-1-1h2m1-1h2m-2 2h2m-2 1h2m-2 0h2m-1 1h2m-1-2h2m-2 0h2m-1-1h2m-2 0h2m0 2h2m-2 0h2m-1-3h2m-2 1h2m-2 1h2m-2 2h2m-1-3h2m-1 0h2m-1-1h2m-1 1h2m-2 0h2m-2 2h2m-2 1h2m-1-2h2m-2 1h2m-1-1h2m-2 0h2m0-1h2m-2 2h2m-2 0h2m-1-3h2m-2 3h2m-1 0h2m0 1h2m-1-4h2m-2 0h2m-2 1h2m-2 1h2m-1-2h2m-2 4h2m-1-4h2m-2 1h2m-2 1h2m0 1h2m-1-3h2m-2 0h2m-2 2h2m-1 0h2m-1 0h2m-1-2h2m-2 1h2m-1 3h2m-1-4h2m-1 4h2m-1-3h2m-2 0h2m1 0h2m-2 2h2m0-3h2m-2 1h2m-2 0h2m-2 1h2m1-2h2m-2 3h2m-1-3h2m-2 0h2m-2 4h2m0-2h2m-1-1h2m-2 0h2m-2 3h2m0-4h2m-2 1h2m-2 1h2m-1-2h2m-2 1h2m0-1h2m-2 2h2m1-2h2m-2 1h2m-2 0h2m-2 1h2m-2 1h2m-1-2h2m-2 2h2m-1-3h2m-2 0h2m-2 3h2m0-1h2m-2 1h2m-1 0h2m-1-2h2m-1 0h2m-2 0h2m-2 1h2m-1-2h2m-1 1h2m-2 1h2m-2 1h2m-2 0h2m-1 1h2m-1-4h2m-2 4h2m-1-2h2m-2 1h2m-1-1h2m-1-1h2m-2 1h2m-1 1h2m0-1h2m1 2h2m0-3h2m-2 0h2m-1 1h2m0 0h2m-2 1h2m-1-1h2m-2 0h2m-1 1h2m-1 0h2m-1 0h2m-1 0h2m-2 0h2m-1-3h2m-2 2h2m-2 0h2m-1 0h2m-1-2h2m-2 1h2m-1 0h2m-2 2h2m-2 0h2m-1-2h2m-2 0h2m-2 1h2m-1-1h2m-1-1h2m-1 1h2m-2 2h2m-1-3h2m0 3h2m-1 0h2m0-3h2m-2 1h2m-2 0h2m-2 1h2m-1-2h2m-2 1h2m-1-1h2m-2 1h2m-2 0h2m-2 1h2m-1-1h2m-2 0h2m-1 1h2m-1-2h2m-2 1h2m-2 1h2m-2 1h2m-1-2h2m-2 2h2m-1-2h2m-1-1h2m-2 2h2m0 1h2m-1-1h2m-1-1h2m-1 1h2m-2 1h2m-2 1h2m-1-4h2m-2 1h2m-1 2h2m-2 0h2m-1-1h2m-2 1h2m-2 0h2m-1 1h2m-1-4h2m-2 2h2m-2 2h2m0-2h2m-1 0h2m-2 0h2m-2 1h2m-1-2h2m-1-1h2m-2 2h2m-1-1h2m-2 0h2m-1-1h2m-2 1h2m0-1h2m-2 2h2m-2 1h2m-1 1h2m-1-2h2m-2 1h2m-1 0h2m-1 0h2m0-1h2m-1 1h2m-1-1h2m-1 2h2m-1-4h2m-2 0h2m-2 3h2m0-3h2m-2 3h2m-1-3h2m-2 1h2m-2 1h2m-2 0h2m-1 2h2m-1-4h2m-1 3h2m-1-1h2m-2 1h2m-1-2h2m0 0h2m-2 2h2m-2 0h2m-1-3h2m-2 2h2m0-1h2m-2 1h2m-2 1h2m-2 1h2m-1-3h2m-2 0h2m-2 1h2m-2 1h2m-1-1h2m0-2h2m-2 1h2m-1 0h2m-2 3h2m-1-3h2m-2 2h2m-1 0h2m1-2h2m-2 1h2m-1-2h2m-1 0h2m-2 0h2m-2 2h2m-1-2h2m-2 1h2m-2 1h2m-1-1h2m-2 1h2m-1-2h2m-2 1h2m-2 1h2m-1 1h2m-1-3h2m-2 3h2m-1 0h2m-1-3h2m1 0h2m-2 4h2m-1-3h2m-2 0h2m-2 1h2m-1 1h2m-2 0h2m-1-3h2m-2 2h2m-2 1h2m-1-3h2m-2 0h2m-1 0h2m-2 3h2m-2 1h2m-1-4h2m-2 0h2m-2 1h2m-2 1h2m-2 1h2m-2 1h2m-1-2h2m1 0h2m-2 2h2m1-1h2m-2 0h2m-1 1h2m-1-1h2m0-2h2m-2 3h2m0-1h2m-2 0h2m-2 1h2m-1-2h2m-2 1h2m-2 0h2m-1-3h2m-2 3h2m-1-3h2m-1 0h2m-1 1h2m-2 1h2m-1-2h2m-2 4h2m-1-3h2m-2 2h2m-1-3h2m-1 1h2m-2 1h2m-2 1h2m-1-3h2m-2 3h2m-2 1h2m0-1h2m-1-1h2m0 1h2m-1-1h2m-2 1h2m-2 0h2m-2 1h2m-1-3h2m-2 2h2m-1-3h2m-2 4h2m0-3h2m-2 2h2m-1-2h2m-2 0h2m-2 3h2m-1-3h2m-2 0h2m-1 0h2m-2 2h2m-1-3h2m-2 1h2m-2 2h2m-2 1h2m-1-4h2m-2 1h2m-2 2h2m0-1h2m-2 1h2m1-2h2m-2 1h2m-2 2h2m1-4h2m-2 3h2m-1-1h2m-2 1h2m0-2h2m-2 2h2m-1-1h2m-1 1h2m-1-2h2m-2 0h2m-2 1h2m1-2h2m-1 0h2m-2 0h2m-1 1h2m-1 0h2m-2 2h2m-1-2h2m-2 1h2m-2 2h2m0-2h2m-1-1h2m-2 0h2m-2 1h2m-2 0h2m2 1h2m-2 1h2m-1-4h2m-1 0h2m-2 1h2m-1-1h2m-2 1h2m-1 2h2m0-3h2m-2 1h2m-1 2h2m-2 1h2m-1-2h2m-1 2h2m-1-3h2m-2 2h2m-1-2h2m-1 1h2m-2 1h2m0-1h2m-2 0h2m-1 0h2m-2 0h2m0-1h2m0-1h2m-2 1h2m-2 0h2m-2 1h2m-2 0h2m-1-1h2m-1-1h2m-2 0h2m-2 2h2m-1-2h2m-2 1h2m-1 0h2m-2 1h2m-1 0h2m-1 0h2m-1-1h2m0 1h2m-1-1h2m-1 0h2m-2 2h2m-1-2h2m-2 1h2m-1-2h2m-2 0h2m-2 3h2m-1-2h2m-2 2h2m-1-3h2m-1 1h2m-1 0h2m1-1h2m-2 1h2m-2 2h2m-1 0h2m1-2h2m-2 2h2m-1-3h2m-2 2h2m0-2h2m-1 2h2m-1-1h2m-1 1h2m-1 1h2m-1-2h2m-2 2h2m-1-1h2m-2 0h2m-2 0h2m-2 1h2m-2 0h2m-1-2h2m-2 1h2m0 1h2m-1 0h2m-1 0h2m1-1h2m-1 0h2m-1 0h2m-2 1h2m-1 0h2m-2 0h2m-2 0h2m0 0h2m-1-3h2m-1 2h2m0-1h2m-2 2h2m-2 0h2m-2 0h2m0-1h2m-1 0h2m1 2h2m-1-4h2m-1 2h2m-1 0h2m-1 0h2m-1-2h2m-2 1h2m-2 1h2m-2 1h2m-2 0h2m-1-3h2m-2 2h2m-1-1h2m-2 3h2m-1-1h2m-2 0h2m0-2h2m-2 2h2m-2 0h2m-1-2h2m-2 0h2m-2 0h2m-1 0h2m-1-1h2m-2 3h2m-1 0h2m-1 0h2m-2 0h2m-1-2h2m-2 1h2m0-2h2m-2 2h2m-2 1h2m-2 0h2m-2 1h2m-1-3h2m-2 2h2m-1-3h2m-2 1h2" stroke="#111" stroke-width="2" stroke-opacity="0.8" fill="none"/><path transform="scale(.25)" d="M625 739h2m-1 10h2m3-7h2m0-3h2m-1 13h2m-1-4h2m-1-7h2m-2 5h2m-1 4h2m-1-10h2m-2 10h2m-1-12h2m-1 3h2m-2 1h2m-1 10h2m-1-14h2m-1 7h2m-2 1h2m-2 3h2m-1-6h2m-1 5h2m-1-10h2m-2 13h2m-1-12h2m-2 3h2m-2 3h2m-1 5h2m-1-11h2m-2 4h2m-1 9h2m-1-7h2m-1 0h2m-1 1h2m0-5h2m-2 4h2m0 2h2m-1-1h2m-2 1h2m-2 5h2m-1-11h2m-2 0h2m-2 7h2m2 0h2m-1-2h2m-1 2h2m-2 1h2m0-2h2m1-4h2m0 8h2m0-9h2m-1-1h2m-2 7h2m1-6h2m-2 6h2m-2 4h2m-1-4h2m-2 3h2m2-11h2m-1 5h2m-2 4h2m-1-6h2m-1 1h2m-1-5h2m0 4h2m-2 9h2m1-11h2m-2 6h2m-1-4h2m-2 3h2m1-7h2m-2 9h2m-1-3h2m-1-3h2m-2 4h2m-2 2h2m-2 0h2m3-5h2m-2 7h2m0 0h2m0-2h2m1 3h2m-1-11h2m-1 5h2m0-5h2m0-1h2m-2 2h2m-2 4h2m0-1h2m-2 7h2m-1-9h2m-2 6h2m0-3h2m0 3h2m-2 0h2m-1 4h2m-1-13h2m-2 8h2m-1-1h2m-2 4h2m1 0h2m-1 0h2m3-11h2m-2 2h2m-2 0h2m-2 1h2m-1-2h2m-2 9h2m-1-3h2m0-1h2m-2 4h2m0-11h2m-2 7h2m0-3h2m1 9h2m0-10h2m-1-2h2m-1 6h2m-1 6h2m0-12h2m-2 6h2m0-3h2m0-2h2m0 4h2m-2 6h2m-1-6h2m-1-5h2m0 5h2m-2 6h2m0-4h2m-1 3h2m0-7h2m-1-4h2m-2 4h2m-2 2h2m-1 1h2m-2 4h2m0-8h2m-1 4h2m-1 6h2m-1-12h2m-2 3h2m-2 3h2m-2 1h2m-1 2h2m-1-3h2m-2 4h2m-2 1h2m0-7h2m0-2h2m-2 1h2m-1-3h2m-2 7h2m-2 3h2m-1-5h2m0-5h2m-2 6h2m-1-6h2m-1 11h2m-1 2h2m1-3h2m0-5h2m-1 0h2m-1-2h2m-1-3h2m-1 4h2m-1-3h2m0 2h2m1-3h2m-2 10h2m1 0h2m-1-3h2m0-1h2m-2 6h2m2-2h2m2-5h2m-1 2h2m1-6h2m-1 8h2m-2 2h2m1-1h2m-1-7h2m-2 2h2m1 6h2m-1-3h2m-2 4h2m-1-12h2m-2 7h2m-2 2h2m1 0h2m-1-3h2m-2 0h2m1-7h2m0 10h2m-1 2h2m3-11h2m-1 9h2m0 0h2m-2 2h2m-1-9h2m-2 1h2m-2 4h2m1-1h2m-2 2h2m-1 3h2m-1-7h2m-1 2h2m-2 2h2m-2 0h2m0-2h2m3-2h2m-1 6h2m-1-4h2m-1 1h2m2 6h2m0-7h2m7-4h2m-2 2h2m-1 7h2m0-5h2m-1-6h2m-1 3h2m-1 1h2m-1 9h2m-1-3h2m1-7h2m0 8h2m-1-5h2m0-6h2m-2 4h2m-2 6h2m-1-2h2m0 1h2m-1-1h2m-2 0h2m-1-5h2m0 10h2m0-14h2m-1 0h2m-2 6h2m-2 1h2m0-7h2m-2 7h2m1-3h2m0 3h2m-2 2h2m0-3h2m1-5h2m-2 3h2m0 4h2m-2 2h2m0 0h2m-1 2h2m1-9h2m-2 4h2m-1-4h2m-2 0h2m-2 10h2m1-12h2m1 4h2m-2 2h2m-2 0h2m-1 2h2m-1-8h2m-2 5h2m-1-1h2m-2 2h2m1 1h2m-2 0h2m-2 3h2m-1-6h2m-1 5h2m-1 1h2m2-8h2m-2 8h2m-2 0h2m-1-9h2m-2 9h2m-2 3h2m0-3h2m-1-11h2m-1 11h2m2-9h2m1-1h2m1 8h2m-2 4h2m-1-10h2m0 7h2m0-6h2m-1 10h2m-1-4h2m-1-10h2m-2 5h2m-2 1h2m-1 0h2m-2 6h2m-1-12h2m-1 8h2m1-6h2m-2 3h2m-2 1h2m-2 0h2m0 1h2m-1-7h2m0 13h2m-1-6h2m-1-7h2m-2 13h2m-1-2h2m-2 2h2m1-12h2m0 9h2m0 2h2m-1-8h2m2 1h2m3 0h2m1 6h2m-1-2h2m0-6h2m-1 6h2m0-7h2m-2 7h2m0-8h2m0 5h2m-1-5h2m-2 1h2m-1 3h2m-1 3h2m-2 4h2m0-1h2m0-11h2m-2 11h2m-1-4h2m-1-4h2m-2 8h2m-2 3h2m-1-6h2m-1-7h2m-2 0h2m-1 8h2m-2 3h2m-1-5h2m0-1h2m-1 1h2m-1 1h2m-2 4h2m2-10h2m-1 11h2m1-3h2m-2 3h2m0 1h2" stroke="#666" stroke-width="2" stroke-opacity="0.45" fill="none"/><path transform="scale(.25)" d="M627 783h2m-1-4h2m0-3h2m3 17h2m-1-21h2m-1 2h2m-2 15h2m-1-5h2m-1-13h2m-2 2h2m0-2h2m3 3h2m-2 19h2m-2 3h2m0-25h2m-1 5h2m-1-5h2m-1 3h2m0 1h2m-2 5h2m-1-8h2m-2 4h2m-1-4h2m-2 1h2m1-2h2m-2 8h2m-2 7h2m-1-2h2m-1 3h2m-2 0h2m-1-13h2m-1-2h2m1 1h2m0 4h2m-1-3h2m-1 16h2m0-16h2m-2 4h2m-1-7h2m-2 18h2m-1-18h2m-1 4h2m-2 2h2m-2 0h2m-1-5h2m-2 16h2m-1-15h2m-2 4h2m-2 2h2m-2 2h2m1-7h2m-2 6h2m-1-8h2m-2 15h2m-1-8h2m0-8h2m-2 15h2m0 9h2m0-20h2m-2 5h2m0-5h2m-2 8h2m0-3h2m-1-5h2m-1 4h2m1 5h2m0-10h2m-2 5h2m-2 5h2m-1-9h2m-2 1h2m-1-4h2m-1 0h2m-1 0h2m-2 11h2m0 0h2m1-11h2m-2 7h2m-1 9h2m-1-15h2m-2 2h2m-1 0h2m-2 15h2m-1-13h2m4-2h2m-2 4h2m-1 7h2m-1-14h2m-2 2h2m1-1h2m-2 6h2m-1-1h2m-1-5h2m-1-1h2m-2 7h2m-1-1h2m-2 4h2m0 0h2m2-11h2m-2 3h2m0 1h2m-1 5h2m0-9h2m-2 5h2m-1-5h2m-2 15h2m1-9h2m-1-3h2m-1 0h2m-2 2h2m-1 11h2m-1-13h2m-1 1h2m-2 5h2m-1-7h2m-2 5h2m-2 3h2m-1-8h2m-2 0h2m-2 2h2m-2 3h2m-1-3h2m1-3h2m4 1h2m-2 5h2m-1 2h2m-1-7h2m-1 2h2m-2 2h2m-2 8h2m1-10h2m-1-4h2m-2 4h2m1 12h2m-1-14h2m-2 1h2m-1 2h2m1 2h2m-2 0h2m-1-1h2m-1-6h2m-1 4h2m-2 13h2m-1-16h2m-2 0h2m-2 5h2m-1-6h2m-2 4h2m0 0h2m-2 1h2m-1 8h2m0-11h2m-1 0h2m-2 17h2m0-17h2m-2 12h2m1-12h2m-2 4h2m-2 23h2" stroke="#333" stroke-width="2" stroke-opacity="0.6" fill="none"/><path transform="scale(.25)" d="M798 771h2m-2 1h2m1 2h2m0 15h2m0-14h2m-2 9h2m-1-12h2m-2 2h2m-1 17h2m-1-12h2m2-8h2m-2 14h2m1-12h2m1-1h2m-1 4h2m0 2h2m-2 0h2m-1-7h2m0 0h2m2 1h2m-2 6h2m0-2h2m-1-1h2m-1 12h2m-1-12h2m-1-4h2m-2 1h2m-2 1h2m-2 1h2m-2 2h2m-1-3h2m1 0h2m-2 1h2m-1-3h2m2 9h2m3-8h2m-1 0h2m-1-1h2m-1 1h2m-2 8h2m-1-5h2m-2 2h2m-2 2h2m0-4h2m-1-3h2m-1 0h2m-2 2h2m1 3h2m-1-4h2m3-1h2m1 3h2m-1 4h2m4-6h2m-1 7h2m1-6h2m0 1h2m0-1h2m0 2h2m1 3h2m-1-2h2m-1-4h2m-2 3h2m2 16h2m-1-16h2m1-5h2m0 2h2m-1 1h2m2-2h2m-1 3h2m-1 3h2m-1-7h2m-2 9h2m-1-7h2m-2 12h2m-1-10h2m0-3h2m-1 0h2m-2 4h2m-1-5h2m0 11h2m0-8h2m-2 5h2m-1-8h2m0 7h2m0-6h2m-2 14h2m-1-15h2m-1 1h2m1 5h2m-2 2h2m-2 1h2m-2 1h2m-1 11h2m0-17h2m-1 3h2m1-7h2m-2 15h2m1-14h2m0 2h2m-1-1h2m-1 2h2m1-4h2m-2 6h2m2-5h2m2 14h2m0-14h2m-2 1h2m7 1h2m-1-2h2m0 7h2m-1-7h2m-2 4h2m-1-2h2m-2 3h2m2-5h2m-1 0h2m-2 1h2m2-1h2m-1 3h2m-2 8h2m0-10h2m0 0h2m-2 4h2m4-3h2m1 0h2m-2 1h2m4-4h2m-1 0h2m-2 10h2m1-9h2m-2 1h2m0 1h2m-2 8h2m0-9h2m0-1h2m0 0h2m-2 5h2m-1-6h2m-1 14h2m-1-14h2m-1 6h2m1-5h2m-2 8h2m2-5h2m-1-1h2m2-3h2m-2 5h2m1-5h2m1 0h2m-2 0h2m0 1h2m0 0h2m-2 3h2m-1-1h2m0-3h2m-1 0h2m-1 5h2m-2 1h2" stroke="#333" stroke-width="2" stroke-opacity="0.6" fill="none"/><path transform="scale(.25)" d="M626 834h2m3-23h2m-2 35h2m40-25h2m6-16h2m2 20h2m10-32h2m9 55h2m3-25h2m11 19h2m1-14h2m-1 6h2m7-22h2m11 40h2m11-11h2m4-4h2m-1 15h2m16-15h2m10-11h2m13 1h2m6 4h2m-2 4h2m19 11h2m5-3h2m19-43h2m1 32h2m5 4h2m24-11h2m14 7h2m0-27h2m-2 2h2m63-10h2m2 43h2m11-28h2m4 19h2" stroke="#777" stroke-width="2" stroke-opacity="0.6" fill="none"/><rect x="156.2" y="182.2" width="104.8" height="1.2" fill="#d846dc" fill-opacity="1.0"/><rect x="253.5" y="179.8" width="7" height="1.6" fill="#444" fill-opacity="0.6"/><rect x="156.2" y="142.3" width="104.8" height="71.4" fill="none" stroke="#8c8c8c" stroke-width=".7"/><line x1="156.2" y1="213.7" x2="261" y2="213.7" stroke="#666" stroke-width="1"/><line x1="156.2" y1="142.3" x2="156.2" y2="213.7" stroke="#888" stroke-width=".6"/><text x="191.9" y="138.8" font-size="7" font-weight="normal" text-anchor="start" fill="#141414" textLength="28.1" lengthAdjust="spacingAndGlyphs" stroke="#141414" stroke-width=".4">5ng total</text><text x="138.9" y="179" font-size="3.1" text-anchor="middle" fill="#1e1e1e" stroke="#1e1e1e" stroke-width=".12" textLength="20" lengthAdjust="spacingAndGlyphs" transform="rotate(-90 138.9 179)">Ch1 Amplitude</text><text x="162.25" y="220.8" font-size="5.4" font-weight="bold" text-anchor="start" fill="#141414" textLength="11.5" lengthAdjust="spacingAndGlyphs" stroke="#141414" stroke-width=".5">100%</text><text x="182.65" y="220.8" font-size="5.4" font-weight="bold" text-anchor="start" fill="#141414" textLength="9.1" lengthAdjust="spacingAndGlyphs" stroke="#141414" stroke-width=".5">10%</text><text x="206.75" y="220.8" font-size="5.4" font-weight="bold" text-anchor="start" fill="#141414" textLength="6.2" lengthAdjust="spacingAndGlyphs" stroke="#141414" stroke-width=".5">1%</text><text x="226.85" y="220.8" font-size="5.4" font-weight="bold" text-anchor="start" fill="#141414" textLength="11.1" lengthAdjust="spacingAndGlyphs" stroke="#141414" stroke-width=".5">0.1%</text><text x="249.95" y="220.8" font-size="5.4" font-weight="bold" text-anchor="start" fill="#141414" textLength="6.2" lengthAdjust="spacingAndGlyphs" stroke="#141414" stroke-width=".5">0%</text><text x="235.45" y="203.3" font-size="4.5" font-weight="bold" text-anchor="start" fill="#25a454" textLength="3.3" lengthAdjust="spacingAndGlyphs" stroke="#25a454" stroke-width=".3">R</text><text x="239" y="201.4" font-size="2.6" font-weight="bold" text-anchor="start" fill="#25a454" >2</text><text x="241.75" y="203.3" font-size="4.5" font-weight="bold" text-anchor="start" fill="#25a454" textLength="14.4" lengthAdjust="spacingAndGlyphs" stroke="#25a454" stroke-width=".3">0.9998</text><text x="235.45" y="211.9" font-size="4.5" font-weight="bold" text-anchor="start" fill="#25a454" textLength="19.8" lengthAdjust="spacingAndGlyphs" stroke="#25a454" stroke-width=".3">P &lt; 0.0001</text><rect x="300" y="33.8" width="92.5" height="84.2" fill="#fcfcfc" fill-opacity="1.0"/><text x="293.49" y="119.1" font-size="3.6" font-weight="bold" text-anchor="start" fill="#1a1a1a" textLength="1.89" lengthAdjust="spacingAndGlyphs" stroke="#1a1a1a" stroke-width=".25">0</text><line x1="299" y1="117.8" x2="300" y2="117.8" stroke="#888" stroke-width=".5"/><line x1="300" y1="105.8" x2="392.5" y2="105.8" stroke="#e4e4e4" stroke-width=".5"/><text x="287.06" y="107.1" font-size="3.6" font-weight="bold" text-anchor="start" fill="#1a1a1a" textLength="8.31" lengthAdjust="spacingAndGlyphs" stroke="#1a1a1a" stroke-width=".25">2000</text><line x1="299" y1="105.8" x2="300" y2="105.8" stroke="#888" stroke-width=".5"/><line x1="300" y1="93.8" x2="392.5" y2="93.8" stroke="#e4e4e4" stroke-width=".5"/><text x="287.06" y="95.1" font-size="3.6" font-weight="bold" text-anchor="start" fill="#1a1a1a" textLength="8.31" lengthAdjust="spacingAndGlyphs" stroke="#1a1a1a" stroke-width=".25">4000</text><line x1="299" y1="93.8" x2="300" y2="93.8" stroke="#888" stroke-width=".5"/><line x1="300" y1="81.8" x2="392.5" y2="81.8" stroke="#e4e4e4" stroke-width=".5"/><text x="287.06" y="83.1" font-size="3.6" font-weight="bold" text-anchor="start" fill="#1a1a1a" textLength="8.31" lengthAdjust="spacingAndGlyphs" stroke="#1a1a1a" stroke-width=".25">6000</text><line x1="299" y1="81.8" x2="300" y2="81.8" stroke="#888" stroke-width=".5"/><line x1="300" y1="69.8" x2="392.5" y2="69.8" stroke="#e4e4e4" stroke-width=".5"/><text x="287.06" y="71.1" font-size="3.6" font-weight="bold" text-anchor="start" fill="#1a1a1a" textLength="8.31" lengthAdjust="spacingAndGlyphs" stroke="#1a1a1a" stroke-width=".25">8000</text><line x1="299" y1="69.8" x2="300" y2="69.8" stroke="#888" stroke-width=".5"/><line x1="300" y1="57.8" x2="392.5" y2="57.8" stroke="#e4e4e4" stroke-width=".5"/><text x="284.93" y="59.1" font-size="3.6" font-weight="bold" text-anchor="start" fill="#1a1a1a" textLength="10.45" lengthAdjust="spacingAndGlyphs" stroke="#1a1a1a" stroke-width=".25">10000</text><line x1="299" y1="57.8" x2="300" y2="57.8" stroke="#888" stroke-width=".5"/><line x1="300" y1="45.8" x2="392.5" y2="45.8" stroke="#e4e4e4" stroke-width=".5"/><text x="284.93" y="47.1" font-size="3.6" font-weight="bold" text-anchor="start" fill="#1a1a1a" textLength="10.45" lengthAdjust="spacingAndGlyphs" stroke="#1a1a1a" stroke-width=".25">12000</text><line x1="299" y1="45.8" x2="300" y2="45.8" stroke="#888" stroke-width=".5"/><text x="284.93" y="35.1" font-size="3.6" font-weight="bold" text-anchor="start" fill="#1a1a1a" textLength="10.45" lengthAdjust="spacingAndGlyphs" stroke="#1a1a1a" stroke-width=".25">14000</text><line x1="299" y1="33.8" x2="300" y2="33.8" stroke="#888" stroke-width=".5"/><line x1="314.5" y1="33.8" x2="314.5" y2="118" stroke="#e4e4e4" stroke-width=".5"/><line x1="314.5" y1="118" x2="314.5" y2="119" stroke="#666" stroke-width=".6"/><line x1="330.5" y1="33.8" x2="330.5" y2="118" stroke="#e4e4e4" stroke-width=".5"/><line x1="330.5" y1="118" x2="330.5" y2="119" stroke="#666" stroke-width=".6"/><line x1="346" y1="33.8" x2="346" y2="118" stroke="#e4e4e4" stroke-width=".5"/><line x1="346" y1="118" x2="346" y2="119" stroke="#666" stroke-width=".6"/><line x1="361" y1="33.8" x2="361" y2="118" stroke="#e4e4e4" stroke-width=".5"/><line x1="361" y1="118" x2="361" y2="119" stroke="#666" stroke-width=".6"/><line x1="377" y1="33.8" x2="377" y2="118" stroke="#e4e4e4" stroke-width=".5"/><line x1="377" y1="118" x2="377" y2="119" stroke="#666" stroke-width=".6"/><line x1="350.5" y1="33.8" x2="350.5" y2="118" stroke="#efeec0" stroke-width=".8"/><rect x="300" y="48.2" width="50.5" height="4.4" fill="#0f66dc" fill-opacity="0.85"/><path transform="scale(.25)" d="M1200 183h3m-3 8h3m-3 10h3m-3 9h3m-2-19h3m-3 11h3m-3 0h3m-3 1h3m-3 1h3m-3 1h3m-3 1h3m-3 7h3m-3 1h3m-3 4h3m-2-32h3m-3 8h3m-3 11h3m-2-2h3m-3 2h3m-3 2h3m-3 8h3m-3 1h3m-3 2h3m-2-23h3m-3 3h3m-3 7h3m-3 11h3m-2-17h3m-3 1h3m-3 2h3m-3 2h3m-3 5h3m-3 2h3m-2-31h3m-3 17h3m-3 8h3m-3 0h3m-2-13h3m-3 5h3m-3 2h3m-3 1h3m-3 1h3m-3 8h3m-3 3h3m-3 1h3m-2-30h3m-3 27h3m-3 15h3m-2-36h3m-3 9h3m-3 4h3m-3 1h3m-3 3h3m-3 1h3m-3 1h3m-3 12h3m-2-35h3m-3 6h3m-3 14h3m-3 5h3m-2-15h3m-3 7h3m-3 7h3m-3 4h3m-2-17h3m-3 5h3m-3 1h3m-3 1h3m-3 9h3m-2-26h3m-3 4h3m-3 1h3m-3 5h3m-3 9h3m-3 11h3m-2-17h3m-3 8h3m-3 7h3m-3 2h3m-2-19h3m-3 4h3m-3 1h3m-3 5h3m-2-13h3m-3 3h3m-3 1h3m-3 3h3m-3 11h3m-3 4h3m-2-21h3m-3 2h3m-3 6h3m-2-27h3m-3 18h3m-3 3h3m-3 1h3m-3 6h3m-3 5h3m-2-14h3m-3 3h3m-3 6h3m-3 2h3m-3 3h3m-3 2h3m-3 7h3m-2-19h3m-3 0h3m-3 1h3m-3 5h3m-2-3h3m-3 1h3m-3 0h3m-3 3h3m-3 2h3m-3 2h3m-3 6h3m-3 5h3m-2-31h3m-3 8h3m-3 4h3m-3 11h3m-2-30h3m-3 8h3m-3 2h3m-3 2h3m-3 2h3m-3 1h3m-3 12h3m-3 9h3m-3 0h3m-2-23h3m-3 7h3m-3 3h3m-3 2h3m-3 1h3m-2-14h3m-3 1h3m-3 2h3m-3 6h3m-3 0h3m-3 14h3m-2-24h3m-3 7h3m-3 5h3m-3 1h3m-3 5h3m-3 13h3m-2-48h3m-3 11h3m-3 1h3m-3 7h3m-3 4h3m-3 0h3m-3 1h3m-3 2h3m-3 12h3m-2-19h3m-3 4h3m-2-29h3m-3 33h3m-3 9h3m-3 0h3m-3 4h3m-3 2h3m-2-21h3m-3 1h3m-3 2h3m-3 1h3m-3 4h3m-3 4h3m-3 4h3m-2-18h3m-3 9h3m-3 2h3m-2-15h3m-3 1h3m-3 20h3m-2-24h3m-3 7h3m-3 6h3m-3 0h3m-3 1h3m-3 3h3m-3 4h3m-3 5h3m-3 2h3m-2-33h3m-3 10h3m-3 3h3m-3 3h3m-3 11h3m-3 1h3m-3 7h3m-2-30h3m-3 10h3m-3 1h3m-3 5h3m-3 10h3m-3 5h3m-3 3h3m-3 1h3m-2-45h3m-3 8h3m-3 16h3m-3 6h3m-3 1h3m-2-9h3m-3 14h3m-3 7h3m-2-32h3m-3 6h3m-3 4h3m-3 6h3m-2-17h3m-3 12h3m-3 1h3m-3 0h3m-3 13h3m-3 3h3m-2-21h3m-3 0h3m-3 1h3m-3 1h3m-3 2h3m-3 0h3m-3 1h3m-3 10h3m-3 15h3m-2-29h3m-3 3h3m-3 0h3m-3 20h3m-3 7h3m-2-40h3m-3 2h3m-3 4h3m-3 16h3m-3 1h3m-2-12h3m-3 0h3m-3 8h3m-3 1h3m-3 1h3m-3 4h3m-3 2h3m-2-30h3m-3 10h3m-3 3h3m-3 3h3m-3 1h3m-3 1h3m-3 6h3m-3 7h3m-3 5h3m-2-35h3m-3 6h3m-3 13h3m-3 2h3m-3 4h3m-3 5h3m-3 0h3m-3 2h3m-2-23h3m-3 4h3m-3 0h3m-3 6h3m-3 1h3m-3 1h3m-3 6h3m-3 1h3m-3 3h3m-3 6h3m-3 1h3m-2-45h3m-3 14h3m-3 4h3m-3 3h3m-3 8h3m-2-17h3m-3 2h3m-3 17h3m-3 15h3m-2-30h3m-2-14h3m-3 5h3m-3 5h3m-3 4h3m-3 6h3m-3 1h3m-2-21h3m-3 9h3m-3 5h3m-3 5h3m-3 16h3m-3 11h3m-2-42h3m-3 5h3m-3 2h3m-3 6h3m-3 6h3m-3 5h3m-3 0h3m-3 1h3m-2-14h3m-3 0h3m-3 1h3m-3 7h3m-3 13h3m-2-26h3m-3 7h3m-3 1h3m-3 3h3m-3 1h3m-3 4h3m-3 20h3m-2-44h3m-3 2h3m-3 18h3m-3 3h3m-3 7h3m-3 0h3m-2-29h3m-3 6h3m-3 0h3m-3 2h3m-3 2h3m-3 5h3m-3 3h3m-3 2h3m-3 6h3m-3 2h3m-3 4h3m-3 2h3m-2-25h3m-3 2h3m-3 3h3m-3 1h3m-3 2h3m-3 13h3m-3 2h3m-2-19h3m-3 1h3m-3 10h3m-3 2h3m-3 7h3m-3 2h3m-2-28h3m-3 1h3m-3 2h3m-3 6h3m-3 3h3m-3 5h3m-3 7h3m-3 2h3m-2-26h3m-3 4h3m-3 1h3m-3 7h3m-3 2h3m-3 0h3m-3 8h3m-3 5h3m-3 2h3m-2-29h3m-3 8h3m-3 3h3m-3 2h3m-3 9h3m-3 13h3m-2-39h3m-3 2h3m-3 7h3m-3 2h3m-3 2h3m-3 1h3m-3 1h3m-3 1h3m-3 0h3m-3 2h3m-3 4h3m-3 3h3m-3 11h3m-2-47h3m-3 24h3m-3 9h3m-3 8h3m-2-30h3m-3 5h3m-3 2h3m-3 3h3m-3 9h3m-3 1h3m-3 0h3m-3 4h3m-2-12h3m-3 2h3m-3 0h3m-3 6h3m-3 8h3m-3 11h3m-2-24h3m-3 1h3m-3 2h3m-3 4h3m-3 2h3m-3 3h3m-3 0h3m-2-27h3m-3 1h3m-3 1h3m-3 4h3m-3 4h3m-3 2h3m-3 6h3m-3 1h3m-3 1h3m-3 2h3m-3 5h3m-3 0h3m-3 0h3m-3 12h3m-2-46h3m-3 2h3m-3 9h3m-3 8h3m-3 3h3m-2-11h3m-3 6h3m-3 5h3m-3 5h3m-3 16h3m-3 0h3m-2-35h3m-3 6h3m-3 3h3m-3 0h3m-3 3h3m-3 7h3m-3 4h3m-2-20h3m-3 9h3m-3 1h3m-3 0h3m-3 1h3m-3 3h3m-2-20h3m-3 8h3m-3 2h3m-3 23h3m-2-19h3m-3 0h3m-3 0h3m-3 7h3m-3 3h3m-3 1h3m-3 1h3m-3 0h3m-3 2h3m-2-24h3m-3 7h3m-3 8h3m-3 1h3m-3 17h3m-2-20h3m-3 4h3m-3 3h3m-3 4h3m-2-20h3m-3 1h3m-3 0h3m-3 4h3m-3 2h3m-3 3h3m-3 3h3m-3 2h3m-3 10h3m-3 2h3m-2-28h3m-3 8h3m-3 5h3m-3 6h3m-3 5h3m-2-23h3m-3 9h3m-3 4h3m-3 6h3m-2-21h3m-3 5h3m-3 4h3m-3 6h3m-3 0h3m-3 6h3m-3 10h3m-2-23h3m-3 0h3m-3 9h3m-3 0h3m-3 1h3m-3 4h3m-3 7h3m-2-39h3m-3 3h3m-3 10h3m-3 0h3m-3 3h3m-3 1h3m-3 15h3m-2-21h3m-3 5h3m-2-2h3m-3 8h3m-3 1h3m-3 8h3m-2-27h3m-3 16h3m-3 7h3m-3 4h3m-3 5h3m-2-40h3m-3 7h3m-3 11h3m-3 1h3m-3 2h3m-3 0h3m-3 2h3m-3 0h3m-2-2h3m-3 7h3m-3 7h3m-2-22h3m-3 1h3m-3 1h3m-3 2h3m-3 4h3m-3 1h3m-3 0h3m-3 1h3m-3 9h3m-3 1h3m-3 0h3m-2-27h3m-3 13h3m-3 7h3m-3 1h3m-3 3h3m-3 4h3m-3 2h3m-3 7h3m-2-26h3m-3 0h3m-3 4h3m-3 1h3m-3 2h3m-3 1h3m-3 2h3m-3 19h3m-2-32h3m-3 10h3m-3 6h3m-3 4h3m-3 3h3m-3 3h3m-2-32h3m-3 8h3m-3 4h3m-3 2h3m-3 0h3m-3 18h3m-3 3h3m-2-32h3m-3 5h3m-3 16h3m-2-21h3m-3 7h3m-3 1h3m-3 2h3m-3 9h3m-3 10h3m-2-23h3m-3 4h3m-3 2h3m-3 8h3m-3 5h3m-3 7h3m-2-27h3m-3 5h3m-3 3h3m-3 5h3m-3 8h3m-3 5h3m-2-24h3m-3 1h3m-3 3h3m-3 6h3m-3 3h3m-3 4h3m-3 1h3m-2-14h3m-3 2h3m-3 1h3m-3 3h3m-3 9h3m-2-28h3m-3 6h3m-3 3h3m-3 9h3m-3 0h3m-3 7h3m-3 4h3m-2-26h3m-3 7h3m-3 3h3m-3 0h3m-3 1h3m-3 4h3m-3 1h3m-3 8h3m-3 3h3m-2-16h3m-3 1h3m-3 3h3m-3 4h3m-3 1h3m-3 1h3m-3 12h3m-2-34h3m-3 9h3m-3 3h3m-3 1h3m-3 9h3m-3 4h3m-2-27h3m-3 1h3m-3 4h3m-3 4h3m-3 6h3m-3 0h3m-3 9h3m-2-20h3m-3 2h3m-3 9h3m-3 0h3m-3 8h3m-3 1h3m-3 6h3m-2-29h3m-3 3h3m-3 8h3m-3 3h3m-3 5h3m-3 3h3m-3 0h3m-3 4h3m-3 1h3m-2-20h3m-3 7h3m-3 2h3m-3 7h3m-3 1h3m-3 8h3m-3 1h3m-3 1h3m-2-30h3m-3 2h3m-3 4h3m-3 2h3m-3 0h3m-3 21h3m-2-35h3m-3 8h3m-3 6h3m-3 2h3m-3 19h3m-2-34h3m-3 5h3m-3 4h3m-3 1h3m-3 1h3m-3 1h3m-3 8h3m-3 3h3m-3 5h3m-2-22h3m-3 2h3m-3 7h3m-3 3h3m-3 3h3m-2-35h3m-3 8h3m-3 1h3m-3 4h3m-3 6h3m-3 4h3m-3 3h3m-3 4h3m-3 9h3m-3 10h3m-2-20h3m-3 1h3m-3 8h3m-3 0h3m-3 0h3m-2-25h3m-3 8h3m-3 8h3m-3 0h3m-3 3h3m-3 7h3m-2-12h3m-2-12h3m-3 16h3m-3 0h3m-3 2h3m-3 8h3m-3 2h3m-2-24h3m-3 2h3m-3 6h3m-3 10h3m-2-13h3m-3 2h3m-3 4h3m-3 1h3m-3 1h3m-3 3h3m-2-25h3m-3 2h3m-3 1h3m-3 11h3m-3 1h3m-3 4h3m-3 1h3m-3 8h3m-2-15h3m-3 4h3m-3 4h3m-3 0h3m-3 3h3m-3 6h3m-2-31h3m-3 14h3m-3 2h3m-3 2h3m-3 1h3m-3 3h3m-3 3h3m-2-10h3m-3 2h3m-3 2h3m-3 1h3m-3 4h3m-3 1h3m-3 8h3m-3 1h3m-2-23h3m-3 3h3m-3 2h3m-3 12h3m-3 9h3m-2-24h3m-3 5h3m-3 4h3m-3 3h3m-3 2h3m-2-20h3m-3 1h3m-3 7h3m-3 6h3m-3 8h3m-3 3h3m-3 1h3m-2-18h3m-3 1h3m-3 8h3m-3 1h3m-3 5h3m-2-15h3m-3 5h3m-3 1h3m-3 10h3m-2-19h3m-3 0h3m-3 32h3m-2-36h3m-3 7h3m-3 7h3m-3 3h3m-3 1h3m-3 4h3m-3 2h3m-3 2h3m-2-26h3m-3 13h3m-3 3h3m-3 2h3m-3 2h3m-3 0h3m-3 7h3m-2-31h3m-3 3h3m-3 10h3m-3 1h3m-3 3h3m-3 9h3m-3 6h3m-2-19h3m-3 6h3m-3 0h3m-3 1h3m-3 1h3m-3 2h3m-3 2h3m-3 1h3m-3 8h3m-2-23h3m-3 3h3m-3 3h3m-3 0h3m-3 15h3m-2-27h3m-3 5h3m-3 0h3m-3 3h3m-3 0h3m-3 3h3m-3 3h3m-3 9h3m-3 3h3m-3 3h3m-2-22h3m-3 2h3m-3 1h3m-3 2h3m-3 21h3m-2-42h3m-3 11h3m-3 1h3m-3 5h3m-3 9h3m-3 3h3m-2-31h3m-3 10h3m-3 15h3m-3 5h3m-3 4h3m-2-25h3m-3 6h3m-3 4h3m-3 0h3m-3 2h3m-3 1h3m-3 5h3m-3 0h3m-3 2h3m-3 1h3m-3 5h3m-3 3h3m-2-33h3m-3 9h3m-3 19h3m-2-13h3m-3 20h3m-2-25h3m-3 5h3m-3 5h3m-3 6h3m-3 2h3m-3 2h3m-3 2h3m-2-25h3m-3 6h3m-2-3h3m-3 4h3m-3 4h3m-3 4h3m-3 0h3m-3 3h3m-3 2h3m-3 2h3m-2-26h3m-3 7h3m-3 1h3m-3 4h3m-3 1h3m-3 5h3m-3 2h3m-2-22h3m-3 3h3m-3 1h3m-3 7h3m-3 1h3m-3 8h3m-3 5h3m-2-23h3m-3 3h3m-3 6h3m-3 5h3m-3 0h3m-3 4h3m-3 11h3m-3 7h3m-2-18h3m-3 10h3m-2-23h3m-3 8h3m-3 3h3m-3 4h3m-2-2h3m-3 4h3m-3 2h3m-3 2h3m-3 1h3m-3 2h3m-2-20h3m-3 7h3m-2-16h3m-3 4h3m-3 3h3m-3 2h3m-3 4h3m-3 1h3m-3 6h3m-3 2h3m-2-19h3m-3 5h3m-3 1h3m-3 4h3m-3 0h3m-3 1h3m-3 3h3m-3 2h3m-3 10h3m-2-23h3m-3 14h3m-3 0h3m-3 11h3m-2-23h3m-3 5h3m-3 18h3m-3 1h3m-3 5h3m-2-23h3m-3 0h3m-3 3h3m-3 4h3m-3 1h3m-3 8h3m-2-50h3m-3 21h3m-3 5h3m-3 16h3m-3 1h3m-2-35h3m-3 21h3m-3 3h3m-3 3h3m-2-12h3m-3 11h3m-3 2h3m-3 4h3m-2-23h3m-3 8h3m-3 5h3m-3 1h3m-3 17h3m-3 2h3m-2-22h3m-3 5h3m-3 1h3m-3 0h3m-3 24h3m-2-36h3m-3 6h3m-3 6h3m-3 1h3m-3 6h3m-3 3h3m-3 1h3m-2-15h3m-3 1h3m-3 0h3m-3 1h3m-3 2h3m-3 2h3m-3 4h3m-3 4h3m-3 1h3m-2-24h3m-3 0h3m-3 7h3m-3 9h3m-3 2h3m-3 1h3m-2-21h3m-3 6h3m-3 5h3m-3 1h3m-3 2h3m-3 5h3m-3 4h3m-3 0h3m-3 1h3m-3 0h3m-3 1h3m-3 5h3m-2-22h3m-3 4h3m-3 4h3m-3 0h3m-3 5h3m-2 3h3m-3 5h3m-3 1h3m-2-25h3m-3 0h3m-3 4h3m-3 14h3m-3 0h3m-3 1h3m-3 0h3m-3 1h3m-3 7h3m-2-27h3m-3 17h3m-3 4h3m-3 7h3m-2-37h3m-3 9h3m-3 13h3m-3 2h3m-3 4h3m-3 6h3m-3 1h3m-2-17h3m-3 9h3m-3 1h3m-3 5h3m-3 2h3m-2-26h3m-3 1h3m-3 20h3m-3 6h3m-3 1h3m-3 10h3m-2-26h3m-3 3h3m-3 4h3m-3 7h3m-3 5h3m-2-37h3m-3 5h3m-3 1h3m-3 4h3m-3 2h3m-3 2h3m-3 1h3m-3 2h3m-3 3h3m-3 17h3m-2-27h3m-3 13h3m-2-13h3m-3 1h3m-3 2h3m-3 6h3m-3 14h3m-3 5h3m-2-57h3m-3 18h3m-3 5h3m-3 2h3m-3 16h3m-3 1h3m-3 2h3m-2-28h3m-3 3h3m-3 9h3m-2-25h3m-3 16h3m-3 7h3m-3 5h3m-3 3h3m-3 0h3m-3 1h3m-2-12h3m-3 13h3m-3 0h3m-3 7h3m-2-8h3m-3 1h3m-3 2h3m-2-15h3m-3 3h3m-3 8h3m-3 1h3m-3 3h3m-3 27h3m-2-20h3m-3 5h3m-2-25h3m-3 5h3m-3 1h3m-3 3h3m-3 1h3m-3 5h3m-3 2h3m-2-31h3m-3 18h3m-3 4h3m-3 9h3m-2-21h3m-3 20h3m-3 1h3m-2-31h3m-3 10h3m-3 9h3m-3 3h3m-3 4h3m-3 5h3m-3 3h3m-3 1h3m-2-15h3m-3 1h3m-2-13h3m-3 5h3m-3 1h3m-3 3h3m-3 11h3m-3 3h3m-3 6h3m-3 3h3m-2-28h3m-3 2h3m-3 23h3m-3 2h3m-3 3h3m-2-40h3m-3 21h3m-3 3h3m-3 0h3m-2-24h3m-3 12h3m-3 11h3m-3 1h3m-2-22h3m-3 12h3m-3 9h3m-3 1h3m-2-14h3m-3 8h3m-3 3h3m-3 2h3m-3 4h3m-3 4h3m-2-14h3m-3 5h3m-3 5h3m-3 4h3m-2-21h3m-3 5h3m-3 1h3m-3 1h3m-3 4h3m-3 3h3m-3 7h3m-2-33h3m-3 6h3m-3 6h3m-3 13h3m-3 2h3m-3 1h3m-3 1h3m-3 1h3m-3 4h3m-3 4h3m-2-37h3m-3 7h3m-3 8h3m-3 7h3m-3 2h3m-3 5h3m-3 0h3m-2-16h3m-3 5h3m-3 0h3m-3 8h3m-3 12h3m-3 4h3m-2-28h3m-3 3h3m-3 12h3m-3 1h3m-3 4h3m-3 6h3m-2-25h3m-3 4h3m-3 12h3m-2-14h3m-3 9h3" stroke="#2274de" stroke-width="3" stroke-opacity="0.8" fill="none"/><path transform="scale(.25)" d="M1200 200h3m-3 0h3m-2 11h3m-2-5h3m-2-11h3m0 3h3m-3 5h3m-2-4h3m-3 3h3m-2-11h3m-3 8h3m-3 1h3m-3 7h3m-2-5h3m-3 0h3m-3 9h3m-2-11h3m-2-2h3m-3 4h3m-2-7h3m-3 2h3m-3 2h3m-3 8h3m-2-3h3m-2 0h3m-3 3h3m-2-16h3m-2 2h3m-2 4h3m-3 8h3m-2-1h3m-3 3h3m-2-16h3m-2 17h3m-1-9h3m-3 4h3m-3 8h3m-3 1h3m-2-8h3m-3 7h3m-2-15h3m-1 5h3m-2-7h3m-3 5h3m-3 6h3m-3 3h3m-3 1h3m-2 6h3m-2-7h3m-3 2h3m-2-11h3m-3 2h3m-3 3h3m-2-4h3m-3 2h3m-3 2h3m-2-6h3m-3 4h3m-3 1h3m-3 0h3m-3 2h3m-3 2h3m-2-14h3m-3 6h3m-3 2h3m-3 2h3m-2-9h3m-2 1h3m-3 0h3m-3 6h3m-3 0h3m-3 4h3m-1-15h3m-3 7h3m-3 9h3m-2-15h3m-3 10h3m-3 5h3m-2-7h3m-3 5h3m-3 6h3m-1-13h3m-3 2h3m-3 10h3m-3 1h3m-3 1h3m-3 0h3m-2-15h3m-3 2h3m-3 4h3m-1-9h3m-2 5h3m-3 8h3m-2-11h3m-2 10h3m-2 0h3m-3 6h3m-3 3h3m-2-22h3m-3 4h3m-3 4h3m-3 3h3m-3 1h3m-2-9h3m-3 5h3m-3 10h3m-2-11h3m-3 6h3m-2-14h3m-3 4h3m-3 0h3m-2 8h3m-3 3h3m-2-11h3m-3 7h3m-3 11h3m-2-5h3m-2-14h3m-3 9h3m-3 9h3m-2-12h3m-3 13h3m-2-14h3m-3 1h3m-3 1h3m-3 2h3m-3 7h3m-2-14h3m-3 5h3m-3 0h3m-3 8h3m-3 4h3m-2-14h3m-3 2h3m-3 5h3m-2-14h3m-2 11h3m-2 1h3m-2-18h3m-3 13h3m-2 6h3m-3 4h3m-3 8h3m-2-15h3m-3 3h3m-3 0h3m-2-13h3m-3 9h3m-2 4h3m-2-4h3m-3 3h3m-2-2h3m-2 3h3m-3 4h3m-2-18h3m-3 14h3m-3 3h3m-2 6h3m-2-20h3m-3 14h3m-3 2h3m-2-20h3m-2 7h3m-2 14h3m-2-13h3m-2-3h3m-3 13h3m-2-1h3m-2-10h3m-3 2h3m-3 1h3m-3 2h3m-3 2h3m-1-8h3m-3 12h3m-2-5h3m-3 2h3m-3 1h3m-2-12h3m-3 8h3m-3 2h3m-3 1h3m-3 4h3m-2-19h3m-3 10h3m-3 1h3m-1-8h3m-2-1h3m-3 16h3m-2-4h3m-3 0h3m-2-7h3m-2 2h3m-3 1h3m-3 1h3m-2-4h3m-3 2h3m-3 9h3m-3 4h3m-2-9h3m-3 4h3m-2-13h3m-3 1h3m-3 6h3m-3 4h3m-2-2h3m-3 6h3m-2-14h3m-3 4h3m-3 11h3m-3 3h3m-2-9h3m-1-6h3m-3 3h3m-2 2h3m-3 5h3m-2-15h3m-3 10h3m-2-8h3m-2 3h3m-3 6h3m-3 2h3m-3 2h3m-2-9h3m-3 6h3m0-3h3m-3 8h3m-3 0h3m-2-15h3m-3 2h3m-3 3h3m0-2h3m-3 9h3m-2-11h3m-3 3h3m-3 5h3m-2-4h3m-2 3h3m-3 1h3m-2-4h3m-2-2h3m-3 2h3m-3 2h3m-2-7h3m-2 6h3m-3 5h3m-2-2h3m-3 4h3m-3 0h3m-3 3h3m-2 6h3m-2-15h3m-3 4h3m-1-8h3m-3 3h3m-2-1h3m-3 7h3m-2-1h3m-3 0h3m-3 3h3m-1-18h3m-3 13h3m-3 6h3m-3 2h3m-2-12h3m-3 5h3m-2-11h3m-2 18h3m-3 3h3m-2-15h3m-2-4h3m-3 3h3m-2 16h3m-2-18h3m-3 0h3m-3 5h3m-3 8h3m-2-8h3m-3 1h3m-3 5h3m-2-10h3m-2 0h3m-3 5h3m-3 16h3m-2-11h3m-2-5h3m-3 4h3m0-8h3m-3 9h3m-2-10h3m-3 4h3m-3 3h3m-2-8h3m-2 4h3m-3 3h3m-3 7h3m-2-17h3m-2 8h3m-3 1h3m-3 1h3m-3 9h3m-1-18h3m-3 5h3m-3 5h3m-2-6h3m-3 1h3m-2 6h3m-2 1h3m-3 1h3m-3 3h3m-1-8h3m-3 4h3m-3 7h3m-1-7h3m-2-5h3m-3 2h3m-3 3h3m-3 2h3m1-13h3m-3 11h3m-2-3h3m-2-7h3m-3 1h3m-3 1h3m-3 2h3m-3 0h3m-3 1h3m-2-1h3m-3 4h3m-3 9h3m-3 0h3m-2-15h3m-3 0h3m-2-5h3m-3 9h3m-3 3h3m-3 8h3m-2-17h3m-2 13h3m-2-12h3m-3 0h3m-3 1h3m-2 0h3m-3 1h3m-3 2h3m-2-4h3m-3 1h3m-3 14h3m-1-16h3m-3 6h3m-3 8h3m-2-21h3m-3 9h3m-2 12h3m-2-6h3m-3 1h3m-3 0h3m-2 1h3m-3 1h3m-2-14h3m-3 7h3m-2-6h3m-3 15h3m-2-8h3m-3 0h3m-2-7h3m-3 3h3m-3 0h3m-3 9h3m-2-16h3m-3 1h3m-3 7h3m-3 7h3m-2-8h3m-3 4h3m-3 10h3m-2-7h3m-3 2h3m-2-9h3m-3 1h3m-2 2h3m-3 1h3m-2-5h3m-3 3h3m-3 4h3m-2-1h3m-3 2h3m-2-10h3m-3 14h3m-3 0h3m-2-9h3m-3 1h3m-3 6h3m0-6h3m-2-3h3m-2 13h3m-2-24h3m-3 10h3m-3 9h3m-2-9h3" stroke="#0f66dc" stroke-width="3" stroke-opacity="0.6" fill="none"/><path transform="scale(.25)" d="M1203 234h3m-3 9h3m-2-8h3m0 2h3m-1-4h3m-3 11h3m2-10h3m1 11h3m-3 1h3m1-12h3m-1 9h3m8-9h3m1 11h3m-1-12h3m-1 9h3m0-3h3m-2 7h3m-2-8h3m1-5h3m-1 12h3m1-5h3m-2-2h3m-2-6h3m-2 6h3m0 3h3m1 3h3m-2 0h3m2-11h3m-3 4h3m-1 6h3m1-7h3m-2-3h3m-2 3h3m1 7h3m2-7h3m-1 2h3m-3 3h3m-3 3h3m2-2h3m-2-9h3m0 9h3m-2-8h3m-2 4h3m0-4h3m-2 6h3m-1 1h3m-3 4h3m-2-4h3m-1 2h3m-2-10h3m-3 9h3m-2-6h3m-1 0h3m-2-2h3m-2 2h3m-1 0h3m-3 3h3m-2-3h3m0 9h3m-2-12h3m-2 0h3m-2 8h3m3-8h3m-3 3h3m-2 9h3m-2 1h3m-1-5h3m-3 4h3m-1-2h3m1-2h3m2 3h3m1 0h3m-2-3h3m5-2h3m-2 3h3m-3 1h3m-2 1h3m0 0h3m-2-11h3m-2 4h3m2 6h3m-2-6h3m4-1h3m-2 6h3m-1-3h3m-2-5h3m-1 8h3m-3 2h3m-1-10h3m-1 11h3" stroke="#2274de" stroke-width="3" stroke-opacity="0.7" fill="none"/><rect x="300" y="67.8" width="50.5" height="5.8" fill="#1c1c1c" fill-opacity="0.8"/><path transform="scale(.25)" d="M1200 271h3m-2 2h3m-3 3h3m-3 7h3m-3 5h3m-3 2h3m-3 2h3m-3 3h3m-2-21h3m-3 0h3m-3 2h3m-3 10h3m-3 1h3m-3 0h3m-3 1h3m-3 1h3m-3 4h3m-2-16h3m-3 1h3m-3 1h3m-3 7h3m-3 3h3m-2-8h3m-3 1h3m-3 5h3m-3 1h3m-3 1h3m-2-19h3m-3 9h3m-3 1h3m-3 6h3m-3 6h3m-3 0h3m-3 3h3m-3 1h3m-3 1h3m-2-30h3m-3 16h3m-3 1h3m-3 6h3m-2-13h3m-3 4h3m-3 5h3m-3 3h3m-2-25h3m-3 29h3m-2-18h3m-3 6h3m-3 6h3m-3 2h3m-3 3h3m-3 1h3m-3 10h3m-2-24h3m-3 4h3m-3 2h3m-3 0h3m-3 5h3m-3 5h3m-3 6h3m-3 4h3m-2-36h3m-3 3h3m-3 1h3m-3 7h3m-3 20h3m-2-14h3m-3 9h3m-2-21h3m-3 6h3m-3 2h3m-2 0h3m-3 3h3m-3 7h3m-3 2h3m-2-16h3m-3 5h3m-3 2h3m-3 6h3m-3 7h3m-2-28h3m-3 7h3m-3 6h3m-3 7h3m-3 3h3m-2-23h3m-3 6h3m-3 1h3m-3 11h3m-3 0h3m-3 3h3m-3 1h3m-2-30h3m-3 12h3m-3 1h3m-3 0h3m-3 9h3m-3 0h3m-3 1h3m-3 12h3m-2-20h3m-3 0h3m-3 3h3m-3 1h3m-3 3h3m-3 2h3m-2-27h3m-3 10h3m-3 3h3m-3 10h3m-3 3h3m-3 3h3m-3 1h3m-2-19h3m-3 6h3m-3 10h3m-3 6h3m-3 1h3m-3 0h3m-2-21h3m-3 3h3m-3 12h3m-3 2h3m-3 2h3m-3 2h3m-2-24h3m-3 1h3m-3 6h3m-3 5h3m-3 3h3m-3 1h3m-3 2h3m-3 5h3m-3 2h3m-3 1h3m-2-21h3m-3 4h3m-3 4h3m-3 2h3m-3 0h3m-3 1h3m-3 6h3m-2-27h3m-3 15h3m-3 2h3m-3 2h3m-3 0h3m-3 6h3m-3 1h3m-3 8h3m-2-24h3m-3 2h3m-3 0h3m-3 4h3m-3 1h3m-3 4h3m-3 1h3m-3 0h3m-3 3h3m-3 2h3m-2-13h3m-3 0h3m-3 5h3m-3 6h3m-3 0h3m-3 2h3m-3 2h3m-3 13h3m-2-32h3m-3 5h3m-3 1h3m-3 2h3m-3 0h3m-3 3h3m-3 6h3m-3 0h3m-3 5h3m-2-18h3m-3 1h3m-3 1h3m-3 6h3m-3 1h3m-2-20h3m-3 14h3m-3 5h3m-3 1h3m-3 6h3m-2-24h3m-3 1h3m-3 2h3m-3 5h3m-3 1h3m-3 4h3m-3 0h3m-3 3h3m-3 2h3m-3 2h3m-3 2h3m-2-24h3m-3 16h3m-3 4h3m-3 12h3m-3 0h3m-2-31h3m-3 3h3m-3 4h3m-3 8h3m-2-15h3m-3 16h3m-3 0h3m-3 0h3m-2-20h3m-3 14h3m-3 0h3m-3 2h3m-3 1h3m-3 0h3m-3 0h3m-3 4h3m-3 3h3m-3 0h3m-3 2h3m-2-30h3m-3 16h3m-3 15h3m-3 2h3m-3 2h3m-2-31h3m-3 13h3m-3 1h3m-3 0h3m-3 3h3m-3 0h3m-3 1h3m-3 1h3m-3 2h3m-2-6h3m-3 3h3m-3 3h3m-3 1h3m-3 0h3m-3 1h3m-3 0h3m-3 5h3m-2-25h3m-3 4h3m-3 15h3m-3 6h3m-3 5h3m-2-21h3m-3 4h3m-3 7h3m-3 0h3m-3 7h3m-3 1h3m-2-15h3m-3 2h3m-3 2h3m-3 5h3m-2-17h3m-3 3h3m-3 5h3m-3 3h3m-3 3h3m-3 6h3m-2-24h3m-3 26h3m-2-23h3m-3 6h3m-3 6h3m-3 0h3m-3 12h3m-2-17h3m-3 7h3m-3 0h3m-3 1h3m-3 2h3m-3 0h3m-3 1h3m-3 0h3m-3 3h3m-3 0h3m-3 16h3m-2-34h3m-3 1h3m-3 4h3m-3 3h3m-3 2h3m-3 1h3m-3 4h3m-3 3h3m-3 1h3m-2-17h3m-3 7h3m-3 1h3m-3 1h3m-3 2h3m-2-25h3m-3 10h3m-3 9h3m-3 2h3m-3 12h3m-3 4h3m-2-18h3m-3 3h3m-3 0h3m-3 2h3m-3 2h3m-3 1h3m-2-23h3m-3 13h3m-3 1h3m-3 8h3m-3 10h3m-2-29h3m-3 5h3m-3 1h3m-3 5h3m-3 13h3m-2-28h3m-3 13h3m-3 5h3m-3 0h3m-3 7h3m-3 0h3m-3 2h3m-3 2h3m-3 1h3m-3 7h3m-2-27h3m-3 5h3m-3 5h3m-2-19h3m-3 15h3m-3 13h3m-3 5h3m-2-34h3m-3 10h3m-3 1h3m-3 6h3m-3 1h3m-3 2h3m-3 0h3m-3 4h3m-3 0h3m-3 9h3m-2-25h3m-3 2h3m-3 3h3m-3 2h3m-3 1h3m-3 3h3m-3 4h3m-3 8h3m-2-28h3m-3 6h3m-3 4h3m-3 16h3m-2-24h3m-3 8h3m-3 0h3m-3 5h3m-3 1h3m-3 2h3m-3 0h3m-3 5h3m-2-19h3m-3 4h3m-3 2h3m-3 3h3m-3 1h3m-3 0h3m-3 5h3m-3 2h3m-3 4h3m-2-22h3m-3 10h3m-3 4h3m-3 12h3m-2-17h3m-3 1h3m-3 1h3m-3 8h3m-3 0h3m-3 0h3m-3 5h3m-3 7h3m-2-33h3m-3 8h3m-3 2h3m-3 1h3m-3 0h3m-3 6h3m-2-11h3m-3 3h3m-3 1h3m-3 0h3m-3 5h3m-2-12h3m-3 3h3m-3 5h3m-3 1h3m-3 1h3m-3 6h3m-3 1h3m-2-15h3m-3 0h3m-3 4h3m-3 8h3m-3 14h3m-2-16h3m-2-15h3m-3 8h3m-3 1h3m-3 1h3m-3 2h3m-3 0h3m-3 14h3m-2-10h3m-3 0h3m-3 1h3m-3 4h3m-3 1h3m-3 0h3m-3 4h3m-2-18h3m-3 1h3m-3 1h3m-3 0h3m-2 4h3m-3 0h3m-3 2h3m-3 1h3m-3 3h3m-2-11h3m-3 3h3m-3 2h3m-3 2h3m-3 3h3m-3 3h3m-3 1h3m-2-15h3m-3 5h3m-3 0h3m-3 10h3m-3 11h3m-2-22h3m-3 2h3m-3 1h3m-3 9h3m-3 11h3m-1-23h3m-3 0h3m-3 1h3m-3 0h3m-3 3h3m-3 1h3m-3 12h3m-2-15h3m-3 0h3m-3 7h3m-3 0h3m-3 5h3m-3 1h3m-2-25h3m-3 1h3m-3 2h3m-3 9h3m-3 1h3m-3 2h3m-3 1h3m-3 3h3m-3 0h3m-3 5h3m-3 5h3m-2-38h3m-3 7h3m-3 4h3m-3 0h3m-3 8h3m-3 4h3m-3 5h3m-3 1h3m-2-19h3m-3 12h3m-3 2h3m-3 0h3m-3 1h3m-3 3h3m-3 8h3m-2-39h3m-3 16h3m-3 1h3m-3 3h3m-3 4h3m-3 0h3m-3 3h3m-3 1h3m-3 6h3m-3 2h3m-3 1h3m-2-25h3m-3 0h3m-3 11h3m-3 0h3m-3 2h3m-2-16h3m-3 2h3m-3 2h3m-3 16h3m-3 2h3m-3 0h3m-2-14h3m-3 2h3m-3 4h3m-3 1h3m-3 5h3m-3 2h3m-3 1h3m-3 2h3m-3 1h3m-2-19h3m-3 3h3m-3 1h3m-3 4h3m-3 2h3m-3 1h3m-3 3h3m-3 0h3m-3 7h3m-3 0h3m-2-18h3m-3 0h3m-3 3h3m-3 5h3m-3 2h3m-3 8h3m-2-24h3m-3 5h3m-3 3h3m-3 4h3m-3 16h3m-2-32h3m-3 6h3m-3 6h3m-3 4h3m-3 0h3m-2-12h3m-3 8h3m-3 9h3m-3 1h3m-3 0h3m-2-20h3m-3 6h3m-3 1h3m-3 0h3m-3 1h3m-3 1h3m-3 1h3m-3 4h3m-3 1h3m-2-13h3m-3 1h3m-3 3h3m-3 3h3m-3 3h3m-3 1h3m-3 1h3m-3 2h3m-3 3h3m-2-6h3m-3 1h3m-3 3h3m-3 1h3m-3 2h3m-3 4h3m-3 0h3m-2-15h3m-3 8h3m-3 7h3m-3 3h3m-2-28h3m-3 5h3m-3 5h3m-3 1h3m-3 10h3m-3 4h3m-2-26h3m-3 7h3m-3 4h3m-3 5h3m-3 0h3m-3 4h3m-3 0h3m-3 7h3m-3 0h3m-3 3h3m-3 1h3m-2-21h3m-3 0h3m-3 3h3m-3 1h3m-3 8h3m-2-12h3m-3 3h3m-3 1h3m-3 4h3m-3 3h3m-2-19h3m-3 11h3m-3 2h3m-2-19h3m-3 6h3m-3 8h3m-3 13h3m-2-22h3m-3 4h3m-3 6h3m-3 1h3m-3 2h3m-3 0h3m-3 3h3m-3 3h3m-3 4h3m-2-16h3m-3 2h3m-3 1h3m-3 0h3m-3 6h3m-3 7h3m-3 7h3m-2-30h3m-3 1h3m-3 5h3m-3 4h3m-3 4h3m-3 1h3m-3 9h3m-2-17h3m-3 4h3m-3 0h3m-3 10h3m-3 1h3m-3 2h3m-3 5h3m-2-31h3m-3 2h3m-3 11h3m-3 0h3m-3 0h3m-3 3h3m-3 0h3m-3 2h3m-2-9h3m-3 1h3m-3 3h3m-3 5h3m-3 8h3m-2-18h3m-3 1h3m-3 2h3m-3 2h3m-3 4h3m-3 4h3m-2-20h3m-3 5h3m-3 2h3m-3 8h3m-3 1h3m-3 0h3m-3 3h3m-2-9h3m-3 2h3m-3 0h3m-3 2h3m-3 3h3m-3 7h3m-2-13h3m-3 4h3m-3 0h3m-2-12h3m-3 15h3m-3 6h3m-3 0h3m-3 6h3m-3 0h3m-3 1h3m-2-29h3m-3 5h3m-3 3h3m-3 0h3m-3 1h3m-3 0h3m-3 3h3m-3 1h3m-3 2h3m-3 3h3m-3 5h3m-3 1h3m-3 4h3m-2-31h3m-3 4h3m-3 7h3m-3 5h3m-3 4h3m-3 2h3m-3 1h3m-3 1h3m-2-27h3m-3 21h3m-3 2h3m-3 6h3m-2-19h3m-3 3h3m-3 0h3m-3 7h3m-3 0h3m-3 5h3m-3 2h3m-3 0h3m-3 0h3m-2-23h3m-3 1h3m-3 6h3m-3 4h3m-3 0h3m-3 5h3m-3 2h3m-2-13h3m-3 1h3m-3 0h3m-3 8h3m-3 1h3m-3 2h3m-3 4h3m-3 0h3m-2-22h3m-3 11h3m-3 1h3m-3 0h3m-3 2h3m-3 1h3m-3 0h3m-3 4h3m-3 5h3m-2-16h3m-3 3h3m-3 2h3m-3 3h3m-3 1h3m-3 9h3m-2-27h3m-3 16h3m-3 6h3m-3 10h3m-2-20h3m-3 4h3m-3 0h3m-3 0h3m-3 4h3m-3 0h3m-3 1h3m-2-9h3m-3 4h3m-3 4h3m-3 7h3m-3 1h3m-3 1h3m-2-20h3m-3 2h3m-3 0h3m-3 8h3m-3 1h3m-3 1h3m-3 1h3m-3 1h3m-3 4h3m-2-24h3m-3 11h3m-3 1h3m-3 3h3m-3 4h3m-3 2h3m-2-18h3m-3 4h3m-3 2h3m-3 4h3m-3 8h3m-2-10h3m-3 0h3m-3 1h3m-3 0h3m-3 3h3m-3 2h3m-3 2h3m-3 1h3m-3 1h3m-3 8h3m-2-27h3m-3 1h3m-3 2h3m-3 10h3m-3 1h3m-3 13h3m-3 9h3m-2-35h3m-3 2h3m-3 4h3m-3 8h3m-3 1h3m-3 2h3m-3 2h3m-3 5h3m-3 7h3m-2-21h3m-3 4h3m-3 0h3m-3 0h3m-2-15h3m-3 5h3m-3 1h3m-3 3h3m-3 5h3m-3 2h3m-3 10h3m-3 5h3m-3 4h3m-2-31h3m-3 4h3m-3 4h3m-3 4h3m-2-11h3m-3 4h3m-3 4h3m-3 5h3m-3 3h3m-3 1h3m-2-19h3m-3 9h3m-2-9h3m-3 2h3m-3 2h3m-3 13h3m-2-17h3m-3 1h3m-3 7h3m-3 10h3m-3 3h3m-2-29h3m-3 9h3m-3 2h3m-3 1h3m-3 18h3m-2-26h3m-3 2h3m-3 4h3m-3 13h3m-2-22h3m-3 4h3m-3 8h3m-3 6h3m-3 0h3m-3 9h3m-3 0h3m-3 3h3m-2-29h3m-3 6h3m-3 1h3m-3 3h3m-3 4h3m-3 2h3m-3 7h3m-2-11h3m-3 2h3m-3 0h3m-3 1h3m-3 1h3m-3 7h3m-3 1h3m-2-15h3m-3 4h3m-3 1h3m-3 1h3m-3 3h3m-3 0h3m-3 4h3m-3 1h3m-3 1h3m-3 10h3m-2-35h3m-3 13h3m-3 3h3m-3 1h3m-3 1h3m-3 1h3m-3 2h3m-3 0h3m-3 2h3m-3 5h3m-2-18h3m-3 4h3m-3 2h3m-3 1h3m-3 0h3m-3 4h3m-3 17h3m-2-18h3m-3 1h3m-3 1h3m-3 11h3m-2-30h3m-3 9h3m-3 6h3m-3 3h3m-3 4h3m-3 1h3m-3 1h3m-3 6h3m-2-28h3m-3 1h3m-3 9h3m-3 3h3m-3 2h3m-3 2h3m-3 2h3m-2-11h3m-3 0h3m-3 1h3m-3 2h3m-3 2h3m-3 0h3m-3 3h3m-2-26h3m-3 12h3m-3 2h3m-3 1h3m-3 8h3m-3 1h3m-3 2h3m-2-8h3m-3 1h3m-3 2h3m-3 11h3m-3 4h3m-2-26h3m-3 6h3m-3 1h3m-3 7h3m-3 3h3m-3 9h3m-2-28h3m-3 3h3m-3 8h3m-3 5h3m-3 0h3m-3 2h3m-2-10h3m-3 5h3m-3 3h3m-2-9h3m-3 6h3m-3 0h3m-3 1h3m-3 18h3m-2-32h3m-3 2h3m-3 4h3m-3 1h3m-3 2h3m-3 1h3m-3 3h3m-3 0h3m-3 2h3m-3 1h3m-3 0h3m-3 0h3m-3 10h3m-2-23h3m-3 4h3m-3 6h3m-3 1h3m-3 6h3m-3 9h3m-2-25h3m-3 6h3m-3 1h3m-3 0h3m-3 13h3m-3 6h3m-3 2h3m-2-34h3m-3 16h3m-3 3h3m-2-18h3m-3 7h3m-3 13h3m-3 1h3m-3 6h3m-2-25h3m-3 3h3m-3 9h3m-3 12h3m-3 2h3m-3 1h3m-3 0h3m-2-24h3m-3 1h3m-3 1h3m-3 18h3m-3 1h3m-3 1h3m-2-25h3m-3 10h3m-3 3h3m-3 6h3m-2-24h3m-3 12h3m-3 0h3m-3 5h3m-3 4h3m-3 1h3m-3 3h3m-3 1h3m-3 0h3m-3 2h3m-2-21h3m-3 9h3m-3 0h3m-3 3h3m-3 1h3m-3 1h3m-3 4h3m-3 3h3m-3 1h3m-2-33h3m-3 11h3m-3 3h3m-3 3h3m-3 1h3m-3 0h3m-3 1h3m-3 0h3m-3 1h3m-3 2h3m-3 1h3m-3 12h3m-2-30h3m-3 6h3m-3 3h3m-3 6h3m-3 1h3m-3 2h3m-3 1h3m-3 5h3m-3 2h3m-3 1h3m-3 0h3m-2-16h3m-3 3h3m-3 0h3m-3 0h3m-3 9h3m-3 1h3m-2-20h3m-3 9h3m-3 1h3m-3 2h3m-3 2h3m-3 7h3m-3 3h3m-2-26h3m-3 5h3m-3 10h3m-3 0h3m-3 4h3m-3 0h3m-3 5h3m-3 11h3m-3 0h3m-2-27h3m-3 3h3m-3 1h3m-3 4h3m-3 0h3m-3 1h3m-3 2h3m-3 2h3m-3 0h3m-3 12h3m-2-25h3m-3 2h3m-3 3h3m-3 2h3m-3 7h3m-3 1h3m-3 2h3m-3 1h3m-2-18h3m-3 2h3m-3 1h3m-3 1h3m-3 4h3m-3 3h3m-2-15h3m-3 8h3m-3 4h3m-3 1h3m-3 1h3m-3 4h3m-3 0h3m-3 3h3m-3 1h3m-3 0h3m-2-6h3m-3 1h3m-3 0h3m-2-27h3m-3 5h3m-3 5h3m-3 6h3m-3 15h3m-3 1h3m-3 3h3m-2-21h3m-3 2h3m-3 1h3m-3 0h3m-3 2h3m-3 4h3m-3 4h3m-3 2h3m-3 3h3m-3 1h3m-2-37h3m-3 15h3m-3 0h3m-3 6h3m-3 4h3m-3 2h3m-3 2h3m-3 2h3m-2-19h3m-3 0h3m-3 1h3m-3 4h3m-3 1h3m-3 2h3m-3 0h3m-3 1h3m-3 5h3m-3 2h3m-3 3h3m-3 2h3m-3 0h3m-3 9h3m-2-29h3m-3 4h3m-3 5h3m-3 11h3m-3 3h3m-3 4h3m-2-18h3m-3 1h3m-3 1h3m-3 7h3m-3 3h3m-2-16h3m-3 1h3m-3 3h3m-3 11h3m-2-17h3m-3 11h3m-2-21h3m-3 10h3m-3 1h3m-3 3h3m-3 0h3m-3 2h3m-3 7h3m-3 4h3m-2-14h3m-3 1h3m-3 3h3m-3 3h3m-3 1h3m-3 1h3m-3 1h3m-3 1h3m-3 1h3m-3 2h3m-3 5h3m-2 2h3m-3 1h3m-2-33h3m-3 5h3m-3 8h3m-3 3h3m-3 3h3m-3 1h3m-3 1h3m-3 1h3m-3 1h3m-2-19h3m-3 0h3m-3 12h3m-3 3h3m-2-4h3m-3 7h3m-3 4h3m-2-21h3m-3 4h3m-3 2h3m-3 0h3m-3 0h3m-3 4h3m-3 2h3m-3 1h3m-3 2h3m-2-22h3m-3 7h3m-3 1h3m-3 1h3m-3 10h3m-3 1h3m-3 3h3m-3 17h3m-2-27h3m-3 7h3m-3 0h3m-3 2h3m-3 4h3m-2-11h3m-3 1h3m-3 3h3m-3 2h3m-3 0h3m-3 7h3m-3 2h3m-3 3h3m-2-17h3m-3 13h3m-2-24h3m-3 2h3m-3 6h3m-3 1h3m-3 1h3m-3 1h3m-3 3h3m-3 1h3m-3 9h3m-2-15h3m-3 1h3m-3 3h3m-3 8h3m-2-18h3m-3 0h3m-3 2h3m-3 5h3m-3 3h3m-3 4h3m-3 3h3m-3 2h3m-3 5h3m-2-26h3m-3 7h3m-3 6h3m-3 9h3m-2-20h3m-3 4h3m-3 2h3m-3 8h3m-3 0h3m-3 3h3m-3 2h3m-3 1h3m-3 2h3m-3 10h3m-3 3h3m-2-29h3m-3 0h3m-3 6h3m-3 0h3m-3 2h3m-3 2h3m-2-17h3m-3 4h3m-3 4h3m-3 1h3m-3 1h3m-3 0h3m-3 7h3m-3 6h3m-2-20h3m-3 3h3m-3 10h3m-3 7h3m-2-15h3" stroke="#1a1a1a" stroke-width="3" stroke-opacity="0.7" fill="none"/><path transform="scale(.25)" d="M1200 270h2m-1-12h2m-2 1h2m0-1h2m-2 9h2m-1-6h2m-2 9h2m-1-1h2m1-1h2m0-5h2m-2 6h2m0-4h2m-2 4h2m-1-7h2m-2 4h2m0 4h2m0-9h2m-2 8h2m-1-7h2m0 6h2m-1-10h2m-1 0h2m0 0h2m-2 7h2m-2 5h2m-1-12h2m-2 11h2m0-8h2m0-3h2m-2 2h2m-1 10h2m-1-6h2m0-5h2m-2 0h2m-2 5h2m-2 3h2m-1-7h2m-2 5h2m-1 0h2m-1-3h2m0 7h2m-1-9h2m-1 1h2m-2 5h2m-2 0h2m-1-6h2m-2 1h2m-2 0h2m-2 6h2m-1-5h2m-1-1h2m-2 9h2m-1-12h2m-2 1h2m-1 3h2m-1 5h2m-1-5h2m-2 2h2m-1-3h2m-2 4h2m1-2h2m-2 7h2m-1-8h2m-2 1h2m-2 5h2m-2 1h2m0-11h2m-2 2h2m-2 3h2m-1 0h2m-1-5h2m-2 4h2m-2 5h2m0-6h2m-1-3h2m-2 0h2m1 8h2m-1-7h2m-1 2h2m0-3h2m-2 8h2m-2 2h2m1-9h2m-2 1h2m-2 0h2m-2 9h2m-2 1h2m0-13h2m-2 10h2m-1-6h2m-1-1h2m-2 4h2m1 1h2m-1 2h2m1-7h2m-2 7h2m-1-10h2m0 3h2m-2 10h2m-1-9h2m0 5h2m-2 4h2m-1-11h2m-2 0h2m-2 7h2m-1-4h2m-2 7h2m-2 0h2m-1-7h2m-1 0h2m-2 2h2m-2 2h2m-2 4h2m0-3h2m-1-9h2m0 3h2m0 5h2m-1-7h2m-2 5h2m-2 4h2m-1-7h2m-2 6h2m-2 3h2m-1-10h2m-2 1h2m-1 0h2m-2 4h2m-1-3h2m-2 6h2m-1-11h2m-2 1h2m-2 6h2m1 5h2m0-10h2m-2 7h2m-1 2h2m-1-8h2m-2 4h2m-2 1h2m-1-3h2m-2 4h2m-1-1h2m-2 1h2m-2 2h2m-1-7h2m-2 6h2m-1-7h2m-2 2h2m-2 2h2m0 2h2m0-9h2m-2 5h2m-1-3h2m-2 7h2m-2 1h2m-2 2h2m-1-8h2m-2 6h2m-1-4h2m-2 1h2m-2 2h2m-2 2h2m-2 0h2m-1-3h2m-2 5h2m-1-9h2m-1 7h2m1-10h2m-2 2h2m-2 2h2m-2 2h2m1 2h2m0-8h2m-2 7h2m-2 0h2m1-4h2m-2 7h2m-1-2h2m-1-6h2m-2 3h2m-1 4h2m-1-9h2m-2 3h2m-1 2h2m0-1h2m-1-3h2m-2 7h2m1-8h2m-2 10h2m1-11h2m-1 4h2m-2 7h2m0-11h2m-2 8h2m-1-2h2m1-3h2m-2 7h2m-1-6h2m-2 0h2m-2 9h2m0-10h2m-2 9h2m0-8h2m-1 7h2m-1-5h2m-1 7h2m-1-13h2m-2 7h2m-1 1h2m-1 1h2m-2 3h2m-1 0h2m-1-11h2m-2 7h2m-2 4h2m-1 1h2m-1-12h2m0 0h2m-2 8h2m-2 0h2m-1-6h2m-1-2h2m1 1h2m-2 5h2m-1-2h2m-1-1h2m-2 7h2m-1 0h2m-2 2h2m-1-11h2m-2 10h2m-1-11h2m-1 4h2m-1-3h2m-2 7h2m0-7h2m0 8h2m-1-2h2m-1-2h2m-1-4h2m-2 2h2m0 0h2m0 0h2m-1 0h2m-2 8h2m-1-4h2m-2 3h2m-1-11h2m-2 12h2m-2 1h2" stroke="#555" stroke-width="2" stroke-opacity="0.5" fill="none"/><rect x="300" y="62" width="50.5" height="1.2" fill="#d846dc" fill-opacity="1.0"/><rect x="350.5" y="80.2" width="42" height="5.2" fill="#1c1c1c" fill-opacity="0.8"/><path transform="scale(.25)" d="M1402 318h3m-3 6h3m-3 9h3m-3 8h3m-3 6h3m-2-33h3m-3 16h3m-3 5h3m-3 3h3m-3 0h3m-3 5h3m-2-19h3m-3 1h3m-3 1h3m-3 3h3m-3 4h3m-3 5h3m-2-14h3m-3 1h3m-3 8h3m-3 9h3m-3 3h3m-2-20h3m-3 0h3m-3 3h3m-3 0h3m-3 3h3m-3 2h3m-3 2h3m-3 1h3m-2-7h3m-3 5h3m-3 18h3m-2-29h3m-3 6h3m-3 7h3m-3 1h3m-3 1h3m-3 2h3m-3 0h3m-3 1h3m-3 7h3m-2-27h3m-3 1h3m-3 0h3m-3 3h3m-3 1h3m-3 3h3m-3 1h3m-3 5h3m-3 5h3m-3 1h3m-2-7h3m-3 3h3m-3 0h3m-3 0h3m-3 8h3m-2-23h3m-3 0h3m-3 3h3m-3 1h3m-3 3h3m-3 0h3m-3 9h3m-3 2h3m-3 10h3m-2-19h3m-3 3h3m-3 1h3m-3 3h3m-2-18h3m-3 5h3m-3 4h3m-3 0h3m-3 3h3m-3 0h3m-3 2h3m-3 1h3m-3 3h3m-3 1h3m-3 13h3m-2-27h3m-3 4h3m-3 7h3m-2-23h3m-3 16h3m-3 1h3m-3 1h3m-3 2h3m-3 10h3m-2-20h3m-3 5h3m-3 7h3m-3 2h3m-2-16h3m-3 9h3m-3 2h3m-3 1h3m-2-8h3m-3 2h3m-3 0h3m-3 7h3m-3 2h3m-2-12h3m-3 7h3m-3 11h3m-2-25h3m-3 5h3m-3 2h3m-3 2h3m-3 0h3m-3 3h3m-3 3h3m-3 0h3m-3 2h3m-3 1h3m-3 4h3m-2-21h3m-3 3h3m-3 3h3m-3 3h3m-3 3h3m-3 0h3m-3 3h3m-3 0h3m-3 3h3m-3 0h3m-3 2h3m-3 2h3m-3 1h3m-3 7h3m-2-24h3m-3 7h3m-3 2h3m-3 2h3m-3 1h3m-3 2h3m-3 1h3m-3 4h3m-2-21h3m-3 1h3m-3 5h3m-3 2h3m-3 6h3m-3 1h3m-3 1h3m-3 1h3m-3 0h3m-2-21h3m-3 4h3m-3 2h3m-3 3h3m-3 4h3m-3 3h3m-2-1h3m-3 0h3m-3 1h3m-3 0h3m-3 1h3m-3 5h3m-3 0h3m-2-11h3m-3 0h3m-3 0h3m-3 3h3m-3 3h3m-3 4h3m-3 3h3m-2-23h3m-3 10h3m-3 0h3m-3 2h3m-3 1h3m-3 2h3m-3 3h3m-3 0h3m-2-13h3m-3 5h3m-3 0h3m-3 2h3m-3 1h3m-3 5h3m-2-12h3m-3 0h3m-3 1h3m-3 6h3m-3 4h3m-3 10h3m-3 2h3m-2-19h3m-3 3h3m-3 1h3m-3 2h3m-3 5h3m-3 2h3m-2-14h3m-3 3h3m-3 4h3m-3 0h3m-2-19h3m-3 6h3m-3 2h3m-3 8h3m-1-12h3m-3 6h3m-3 1h3m-3 3h3m-3 0h3m-3 3h3m-3 1h3m-3 2h3m-3 1h3m-3 6h3m-2-12h3m-3 0h3m-3 5h3m-3 3h3m-2-18h3m-3 4h3m-3 1h3m-3 6h3m-3 4h3m-3 1h3m-2-10h3m-3 5h3m-3 3h3m-3 6h3m-2-19h3m-3 6h3m-3 2h3m-3 2h3m-3 3h3m-3 6h3m-3 2h3m-2-12h3m-2-8h3m-3 6h3m-3 9h3m-3 1h3m-3 1h3m-2-19h3m-3 1h3m-3 3h3m-3 3h3m-3 0h3m-3 2h3m-3 3h3m-3 0h3m-3 1h3m-3 13h3m-3 2h3m-2-31h3m-3 3h3m-3 10h3m-3 3h3m-3 3h3m-3 4h3m-3 2h3m-3 4h3m-2-19h3m-3 2h3m-3 4h3m-3 2h3m-3 2h3m-3 1h3m-3 0h3m-2-26h3m-3 2h3m-3 7h3m-3 2h3m-3 7h3m-3 11h3m-2-21h3m-3 7h3m-3 1h3m-3 6h3m-3 3h3m-3 10h3m-2-28h3m-3 3h3m-3 3h3m-2-12h3m-3 12h3m-3 1h3m-3 1h3m-3 6h3m-3 2h3m-2-5h3m-3 4h3m-3 3h3m-3 1h3m-3 3h3m-3 2h3m-2-21h3m-3 1h3m-3 1h3m-3 1h3m-3 3h3m-3 3h3m-3 1h3m-3 3h3m-3 1h3m-3 1h3m-2-13h3m-3 3h3m-3 1h3m-3 10h3m-3 1h3m-3 6h3m-2-23h3m-3 5h3m-3 10h3m-3 0h3m-2-20h3m-3 4h3m-3 4h3m-3 2h3m-3 11h3m-3 2h3m-2-9h3m-3 2h3m-3 7h3m-2-14h3m-3 0h3m-3 0h3m-3 8h3m-3 16h3m-2-19h3m-3 10h3m-3 3h3m-2-29h3m-3 11h3m-3 15h3m-2-22h3m-3 6h3m-3 1h3m-3 7h3m-3 1h3m-3 1h3m-2-11h3m-3 3h3m-3 2h3m-3 6h3m-3 3h3m-3 7h3m-2-32h3m-3 8h3m-3 1h3m-3 6h3m-3 1h3m-3 2h3m-3 18h3m-2-27h3m-3 6h3m-3 1h3m-3 2h3m-3 12h3m-2-23h3m-3 5h3m-3 1h3m-3 1h3m-3 0h3m-3 1h3m-3 0h3m-3 2h3m-3 4h3m-2-19h3m-3 16h3m-3 0h3m-3 2h3m-3 4h3m-2-24h3m-3 14h3m-3 0h3m-3 5h3m-3 1h3m-2-6h3m-2-10h3m-3 9h3m-3 2h3m-3 0h3m-3 0h3m-3 4h3m-3 2h3m-2-15h3m-3 3h3m-3 3h3m-3 2h3m-3 0h3m-3 3h3m-3 1h3m-3 2h3m-3 6h3m-3 2h3m-2-20h3m-3 7h3m-3 1h3m-3 0h3m-3 8h3m-3 7h3m-2-21h3m-3 1h3m-3 2h3m-3 4h3m-3 5h3m-2-13h3m-3 3h3m-3 0h3m-3 2h3m-3 2h3m-3 3h3m-3 2h3m-3 11h3m-2-22h3m-3 0h3m-3 2h3m-3 1h3m-3 3h3m-3 8h3m-3 6h3m-2-16h3m-3 1h3m-3 2h3m-3 0h3m-3 4h3m-3 5h3m-3 0h3m-3 3h3m-2-26h3m-3 7h3m-3 4h3m-3 1h3m-3 1h3m-3 3h3m-3 6h3m-2-12h3m-3 0h3m-3 6h3m-3 4h3m-3 6h3m-2-19h3m-3 5h3m-3 15h3m-3 1h3m-2-17h3m-3 7h3m-2-10h3m-3 8h3m-3 9h3m-2-23h3m-3 3h3m-3 6h3m-3 1h3m-3 6h3m-3 0h3m-3 21h3m-2-31h3m-3 0h3m-3 1h3m-3 8h3m-3 0h3m-3 1h3m-3 2h3m-2-17h3m-3 12h3m-3 3h3m-3 1h3m-2-23h3m-3 8h3m-3 3h3m-3 1h3m-3 10h3m-3 1h3m-3 4h3m-3 2h3m-2-24h3m-3 3h3m-3 2h3m-3 3h3m-3 0h3m-3 13h3m-2-25h3m-3 13h3m-3 3h3m-3 0h3m-3 5h3m-2-15h3m-3 10h3m-3 2h3m-3 2h3m-3 1h3m-3 12h3m-2-20h3m-3 2h3m-3 0h3m-3 3h3m-3 0h3m-3 7h3m-3 3h3m-2-18h3m-3 1h3m-3 1h3m-3 8h3m-3 0h3m-3 0h3m-3 0h3m-3 3h3m-2-15h3m-3 1h3m-3 4h3m-3 2h3m-1-8h3m-3 1h3m-3 3h3m-3 3h3m-3 4h3m-3 0h3m-3 6h3m-3 1h3m-2-20h3m-3 12h3m-3 4h3m-3 3h3m-2-13h3m-3 5h3m-3 1h3m-3 2h3m-3 2h3m-3 0h3m-3 2h3m-2-17h3m-3 3h3m-3 4h3m-3 3h3m-3 2h3m-3 4h3m-3 2h3m-3 1h3m-2-17h3m-3 2h3m-3 2h3m-3 8h3m-3 2h3m-3 3h3m-3 3h3m-2-21h3m-3 1h3m-3 2h3m-3 2h3m-3 1h3m-3 1h3m-3 4h3m-3 4h3m-3 1h3m-3 10h3m-2-27h3m-3 8h3m-3 0h3m-3 9h3m-3 5h3m-2-28h3m-3 10h3m-3 2h3m-3 5h3m-3 0h3m-3 6h3m-3 6h3m-3 2h3m-2-24h3m-3 1h3m-3 7h3m-3 2h3m-3 2h3m-3 2h3m-2-12h3m-3 9h3m-3 6h3m-3 0h3m-3 5h3m-2-19h3m-3 5h3m-3 3h3m-3 1h3m-2-1h3m-3 8h3m-2-24h3m-3 4h3m-3 0h3m-3 1h3m-3 4h3m-3 1h3m-3 4h3m-3 1h3m-3 2h3m-3 1h3m-3 1h3m-3 1h3m-3 9h3m-2-23h3m-3 4h3m-3 2h3m-3 2h3m-3 1h3m-3 7h3m-2-15h3m-3 7h3m-3 2h3m-3 1h3m-3 6h3m-3 0h3m-2-22h3m-3 2h3m-3 15h3m-2-11h3m-3 5h3m-3 6h3m-2-5h3m-3 2h3m-3 1h3m-3 2h3m-3 0h3m-3 10h3m-2-17h3m-3 2h3m-3 3h3m-3 0h3m-3 1h3m-3 4h3m-2-13h3m-3 4h3m-2-11h3m-3 6h3m-3 1h3m-3 4h3m-3 2h3m-3 1h3m-3 11h3m-3 0h3m-2-15h3m-3 1h3m-3 2h3m-3 2h3m-3 3h3m-3 0h3m-3 7h3m-3 4h3m-2-12h3m-3 1h3m-3 0h3m-3 3h3m-3 2h3m-3 1h3m-3 6h3m-2-22h3m-3 0h3m-3 3h3m-3 4h3m-3 6h3m-3 1h3m-2-12h3m-3 0h3m-3 2h3m-3 5h3m-3 2h3m-3 3h3m-3 0h3m-2-21h3m-3 7h3m-3 1h3m-3 8h3m-3 1h3m-3 0h3m-3 2h3m-2-16h3m-3 6h3m-3 2h3m-3 7h3m-2-22h3m-3 18h3m-2-4h3m-3 0h3m-3 4h3m-3 3h3m-3 0h3m-2-16h3m-3 6h3m-3 1h3m-3 4h3m-3 0h3m-3 1h3m-3 0h3m-3 2h3m-3 0h3m-3 1h3m-3 2h3m-3 2h3m-3 1h3m-3 5h3m-3 4h3m-2-25h3m-3 4h3m-3 5h3m-3 4h3m-3 4h3m-2-25h3m-3 1h3m-3 4h3m-3 1h3m-3 5h3m-3 3h3m-3 3h3m-3 3h3m-3 1h3m-3 0h3m-2-9h3m-2-12h3m-3 6h3m-3 2h3m-3 5h3m-3 2h3m-3 4h3m-3 2h3m-3 2h3m-3 2h3m-3 0h3m-2-24h3m-3 2h3m-3 6h3m-3 2h3m-3 4h3m-3 3h3m-3 6h3m-3 1h3m-3 1h3m-3 1h3m-2-24h3m-3 3h3m-3 13h3m-3 3h3m-3 3h3m-3 0h3m-3 1h3m-2-15h3m-3 6h3m-3 0h3m-2-17h3m-3 11h3m-3 7h3m-3 2h3m-3 3h3m-3 1h3m-2-20h3m-3 6h3m-3 7h3m-2-8h3m-3 6h3m-3 1h3m-3 3h3m-2-3h3m-3 1h3m-3 0h3m-3 8h3m-3 2h3m-3 1h3m-2-31h3m-3 4h3m-3 8h3m-3 2h3m-3 2h3m-3 5h3m-3 5h3m-2-10h3m-3 3h3m-3 0h3m-3 5h3m-2-6h3m-3 1h3m-3 3h3m-3 4h3m-3 7h3m-2-21h3m-3 2h3m-3 13h3m-3 7h3m-3 3h3m-2-32h3m-3 9h3m-3 3h3m-3 8h3m-3 7h3m-3 0h3m-2-20h3m-3 2h3m-3 1h3m-3 1h3m-3 2h3m-3 12h3m-2-13h3m-3 2h3m-3 2h3m-3 0h3m-3 1h3m-3 2h3m-2-20h3m-3 4h3m-3 2h3m-3 7h3m-3 3h3m-3 2h3m-3 3h3m-2-19h3m-3 21h3m-3 0h3m-2-11h3m-3 1h3m-3 6h3m-3 2h3m-2-18h3m-3 7h3m-3 1h3m-3 4h3m-3 0h3m-3 1h3m-3 2h3m-3 3h3m-2-6h3m-3 1h3m-3 1h3m-3 6h3m-3 4h3m-2-18h3m-3 3h3m-3 0h3m-3 4h3m-3 2h3m-3 1h3m-3 5h3m-2-15h3m-3 7h3m-3 4h3m-3 2h3m-2-22h3m-3 9h3m-3 0h3m-3 1h3m-3 12h3m-2-12h3m-3 1h3m-3 4h3m-3 4h3m-3 1h3m-3 7h3m-2-24h3m-3 14h3m-3 3h3m-2-16h3m-3 7h3m-3 2h3m-3 1h3m-3 1h3m-3 2h3m-3 4h3m-3 3h3m-2-14h3m-3 1h3m-3 1h3m-3 3h3m-3 1h3m-3 1h3m-3 0h3m-3 1h3m-3 1h3m-3 6h3m-2-26h3m-2 8h3m-3 1h3m-3 4h3m-3 6h3m-3 5h3m-2-12h3m-3 2h3m-3 3h3m-3 0h3m-3 4h3m-3 3h3m-3 2h3m-2-15h3m-3 1h3m-3 4h3m-3 0h3m-3 1h3m-3 3h3m-3 3h3m-3 8h3m-2-26h3m-3 1h3m-3 6h3m-3 9h3m-3 6h3m-3 3h3m-2-25h3m-3 0h3m-3 7h3m-3 1h3m-3 3h3m-3 0h3m-3 5h3m-3 0h3m-3 1h3m-3 3h3m-2-19h3m-3 22h3m-3 6h3m-2-25h3m-3 0h3m-3 1h3m-3 4h3m-3 2h3m-3 0h3m-3 9h3m-2-15h3m-3 4h3m-3 2h3m-3 3h3m-2-13h3m-3 0h3m-3 1h3m-3 1h3m-3 2h3m-3 1h3m-3 5h3m-3 3h3m-3 3h3m-2-16h3m-3 6h3m-3 6h3m-3 1h3m-2-19h3m-3 10h3m-3 2h3m-3 7h3m-3 1h3m-3 0h3m-2-4h3m-3 3h3m-3 2h3m-3 6h3m-3 5h3m-2-29h3m-3 8h3m-3 1h3m-3 5h3m-3 2h3m-3 5h3m-3 1h3m-3 2h3m-2-17h3m-3 0h3m-3 1h3m-3 2h3m-3 2h3m-3 1h3m-3 3h3m-3 3h3m-3 1h3m-3 0h3m-3 12h3m-2-29h3m-3 10h3m-3 2h3m-3 1h3m-3 1h3m-3 2h3m-3 5h3m-2-30h3m-3 11h3m-3 11h3m-3 1h3m-3 2h3m-2-17h3m-3 0h3m-3 7h3m-3 1h3m-3 1h3m-3 1h3m-3 1h3m-3 2h3m-3 6h3m-3 10h3m-2-18h3m-3 6h3m-2-1h3m-3 0h3m-3 2h3m-3 4h3" stroke="#1a1a1a" stroke-width="3" stroke-opacity="0.7" fill="none"/><path transform="scale(.25)" d="M1403 312h2m-2 3h2m-2 5h2m0-7h2m0 0h2m-2 0h2m-2 4h2m-2 2h2m0-5h2m-1-1h2m-1 3h2m0-5h2m-2 7h2m-1-7h2m-2 5h2m-1 0h2m-1-5h2m-2 4h2m-2 2h2m0-4h2m-2 1h2m-2 3h2m-2 2h2m-1-4h2m-1-3h2m1 7h2m0-6h2m-1-2h2m-2 3h2m-2 4h2m-1-5h2m-2 1h2m-1-2h2m-1 8h2m-1-8h2m-2 8h2m-1-10h2m-2 3h2m1-3h2m-2 1h2m-1-1h2m-2 1h2m-1 2h2m-2 1h2m-1 3h2m-1-1h2m-1-3h2m-1-1h2m-2 1h2m-2 4h2m-1-6h2m-2 4h2m-1-3h2m-2 4h2m1-3h2m0 7h2m3-8h2m-2 2h2m-2 2h2m0-2h2m-2 0h2m-1 2h2m2-4h2m-1 4h2m-1-1h2m2-5h2m-1 9h2m-1-4h2m-2 5h2m-1-7h2m-2 2h2m-1 1h2m-1 4h2m-1-2h2m-1 2h2m-1-3h2m0 0h2m-1-4h2m-2 6h2m0-4h2m-1 3h2m-1-1h2m0-2h2m-2 4h2m-1-7h2m-1 1h2m2-1h2m-1 0h2m-2 1h2m-2 1h2m0 4h2m-2 1h2m-1-6h2m-2 3h2m-2 1h2m0-4h2m-2 4h2m-1 2h2m-1-3h2m-1 0h2m0-1h2m-2 3h2m3 0h2m-1 0h2m-1 0h2m1-8h2m-2 8h2m-1-4h2m-1-2h2m-2 2h2m3 4h2m-1-6h2m-2 5h2m-1-2h2m1-4h2m-2 2h2m-2 5h2m-1-3h2m-2 0h2m-1 2h2m-1-4h2m0 6h2m-1-3h2m0-4h2m-1 1h2m-2 0h2m-2 4h2m-1-6h2m-2 6h2m-1-5h2m-2 6h2m0 2h2m0-9h2m-2 2h2m-2 3h2m-1-3h2m-1-1h2m-1-1h2m-2 1h2m-2 7h2m-1-3h2m0 0h2m0-4h2m-2 5h2m-1-4h2m-1 4h2m0 1h2m-1-5h2m-2 2h2m1-1h2m-2 1h2m-2 4h2m-1-4h2m-2 2h2m0 3h2m-1-9h2m-2 8h2m0-3h2m0 0h2m-1-1h2m-1-4h2m-2 5h2m-1-5h2m-2 3h2m-1-4h2m-2 2h2m-1 0h2m-2 2h2m-1 0h2m-1 6h2" stroke="#555" stroke-width="2" stroke-opacity="0.5" fill="none"/><rect x="350.5" y="74.1" width="42" height="1.5" fill="#d846dc" fill-opacity="1.0"/><rect x="385" y="72.5" width="7" height="1.6" fill="#444" fill-opacity="0.6"/><rect x="300" y="33.8" width="92.5" height="84.2" fill="none" stroke="#8c8c8c" stroke-width=".7"/><line x1="300" y1="118" x2="392.5" y2="118" stroke="#999" stroke-width="0.7"/><line x1="300" y1="33.8" x2="300" y2="118" stroke="#888" stroke-width=".6"/><text x="280.6" y="75.7" font-size="4.1" text-anchor="middle" fill="#1e1e1e" stroke="#1e1e1e" stroke-width=".12" textLength="27" lengthAdjust="spacingAndGlyphs" transform="rotate(-90 280.6 75.7)">Ch1 Amplitude</text><rect x="284" y="17.7" width="113.5" height="1.7" fill="#4a4a4a" fill-opacity="1.0"/><text x="312" y="14.1" font-size="5.3" font-weight="bold" text-anchor="start" fill="#2ea858" textLength="52.5" lengthAdjust="spacing" stroke="#2ea858" stroke-width=".2">Unmethylated DNA</text><text x="312" y="29" font-size="5.3" font-weight="bold" text-anchor="start" fill="#2ea858" textLength="18" lengthAdjust="spacing" stroke="#2ea858" stroke-width=".2">C-LESS</text><text x="364" y="29" font-size="5.3" font-weight="bold" text-anchor="start" fill="#2ea858" textLength="14" lengthAdjust="spacing" stroke="#2ea858" stroke-width=".2">SDC2</text><rect x="304" y="153.6" width="89" height="74.9" fill="#fcfcfc" fill-opacity="1.0"/><text x="299.19" y="229.6" font-size="3.6" font-weight="bold" text-anchor="start" fill="#1a1a1a" textLength="1.89" lengthAdjust="spacingAndGlyphs" stroke="#1a1a1a" stroke-width=".25">0</text><line x1="303" y1="228.3" x2="304" y2="228.3" stroke="#888" stroke-width=".5"/><line x1="304" y1="215.88" x2="393" y2="215.88" stroke="#e4e4e4" stroke-width=".5"/><text x="292.76" y="217.18" font-size="3.6" font-weight="bold" text-anchor="start" fill="#1a1a1a" textLength="8.31" lengthAdjust="spacingAndGlyphs" stroke="#1a1a1a" stroke-width=".25">2000</text><line x1="303" y1="215.88" x2="304" y2="215.88" stroke="#888" stroke-width=".5"/><line x1="304" y1="203.47" x2="393" y2="203.47" stroke="#e4e4e4" stroke-width=".5"/><text x="292.76" y="204.76" font-size="3.6" font-weight="bold" text-anchor="start" fill="#1a1a1a" textLength="8.31" lengthAdjust="spacingAndGlyphs" stroke="#1a1a1a" stroke-width=".25">4000</text><line x1="303" y1="203.47" x2="304" y2="203.47" stroke="#888" stroke-width=".5"/><line x1="304" y1="191.05" x2="393" y2="191.05" stroke="#e4e4e4" stroke-width=".5"/><text x="292.76" y="192.35" font-size="3.6" font-weight="bold" text-anchor="start" fill="#1a1a1a" textLength="8.31" lengthAdjust="spacingAndGlyphs" stroke="#1a1a1a" stroke-width=".25">6000</text><line x1="303" y1="191.05" x2="304" y2="191.05" stroke="#888" stroke-width=".5"/><line x1="304" y1="178.63" x2="393" y2="178.63" stroke="#e4e4e4" stroke-width=".5"/><text x="292.76" y="179.93" font-size="3.6" font-weight="bold" text-anchor="start" fill="#1a1a1a" textLength="8.31" lengthAdjust="spacingAndGlyphs" stroke="#1a1a1a" stroke-width=".25">8000</text><line x1="303" y1="178.63" x2="304" y2="178.63" stroke="#888" stroke-width=".5"/><line x1="304" y1="166.22" x2="393" y2="166.22" stroke="#e4e4e4" stroke-width=".5"/><text x="290.62" y="167.51" font-size="3.6" font-weight="bold" text-anchor="start" fill="#1a1a1a" textLength="10.45" lengthAdjust="spacingAndGlyphs" stroke="#1a1a1a" stroke-width=".25">10000</text><line x1="303" y1="166.22" x2="304" y2="166.22" stroke="#888" stroke-width=".5"/><text x="290.62" y="155.1" font-size="3.6" font-weight="bold" text-anchor="start" fill="#1a1a1a" textLength="10.45" lengthAdjust="spacingAndGlyphs" stroke="#1a1a1a" stroke-width=".25">12000</text><line x1="303" y1="153.8" x2="304" y2="153.8" stroke="#888" stroke-width=".5"/><line x1="315" y1="153.6" x2="315" y2="228.5" stroke="#e4e4e4" stroke-width=".5"/><line x1="315" y1="228.5" x2="315" y2="229.5" stroke="#666" stroke-width=".6"/><line x1="331" y1="153.6" x2="331" y2="228.5" stroke="#e4e4e4" stroke-width=".5"/><line x1="331" y1="228.5" x2="331" y2="229.5" stroke="#666" stroke-width=".6"/><line x1="363.75" y1="153.6" x2="363.75" y2="228.5" stroke="#e4e4e4" stroke-width=".5"/><line x1="363.75" y1="228.5" x2="363.75" y2="229.5" stroke="#666" stroke-width=".6"/><line x1="378.75" y1="153.6" x2="378.75" y2="228.5" stroke="#e4e4e4" stroke-width=".5"/><line x1="378.75" y1="228.5" x2="378.75" y2="229.5" stroke="#666" stroke-width=".6"/><line x1="347.5" y1="153.6" x2="347.5" y2="228.5" stroke="#efeec0" stroke-width=".8"/><rect x="304.2" y="160.2" width="43.2" height="9.6" fill="#1860cc" fill-opacity="0.75"/><path transform="scale(.25)" d="M1216 645h3m-3 10h3m-3 1h3m-3 5h3m-3 0h3m-3 1h3m-3 0h3m-3 9h3m-3 6h3m-2-42h3m-3 18h3m-3 9h3m-3 23h3m-2-45h3m-3 10h3m-3 7h3m-3 2h3m-3 0h3m-3 3h3m-3 2h3m-3 1h3m-3 0h3m-3 1h3m-3 0h3m-3 5h3m-3 9h3m-2-29h3m-3 0h3m-3 8h3m-3 2h3m-3 10h3m-3 1h3m-3 12h3m-2-42h3m-3 31h3m-3 3h3m-3 2h3m-2-43h3m-3 12h3m-3 4h3m-3 7h3m-3 2h3m-3 2h3m-3 0h3m-3 2h3m-3 4h3m-2-21h3m-3 5h3m-3 0h3m-3 4h3m-3 3h3m-3 0h3m-3 1h3m-3 8h3m-3 0h3m-3 1h3m-2-17h3m-3 2h3m-3 2h3m-3 2h3m-3 3h3m-3 1h3m-3 1h3m-2-4h3m-3 3h3m-3 2h3m-3 1h3m-3 6h3m-3 0h3m-2-22h3m-3 4h3m-3 1h3m-3 2h3m-3 8h3m-3 8h3m-3 1h3m-2-33h3m-3 3h3m-3 20h3m-3 2h3m-3 1h3m-3 2h3m-2-29h3m-3 13h3m-3 1h3m-3 9h3m-3 5h3m-3 3h3m-3 2h3m-2-31h3m-3 14h3m-3 1h3m-3 2h3m-3 3h3m-3 0h3m-3 2h3m-3 0h3m-3 1h3m-3 1h3m-3 0h3m-2-7h3m-3 4h3m-2-16h3m-3 2h3m-3 14h3m-3 3h3m-3 21h3m-2-31h3m-3 1h3m-3 3h3m-3 0h3m-3 2h3m-3 1h3m-3 2h3m-3 2h3m-3 2h3m-3 1h3m-3 3h3m-3 2h3m-2-25h3m-3 4h3m-3 8h3m-3 1h3m-3 22h3m-2-30h3m-3 1h3m-3 1h3m-3 3h3m-3 4h3m-3 1h3m-2-21h3m-3 12h3m-3 3h3m-3 2h3m-3 6h3m-3 10h3m-2-38h3m-3 4h3m-3 11h3m-3 1h3m-3 2h3m-3 3h3m-3 2h3m-3 13h3m-2-32h3m-3 5h3m-3 11h3m-3 1h3m-3 1h3m-3 3h3m-3 4h3m-3 1h3m-3 3h3m-2-22h3m-3 0h3m-3 3h3m-3 3h3m-3 0h3m-3 1h3m-3 2h3m-3 0h3m-3 1h3m-3 4h3m-3 5h3m-3 1h3m-3 1h3m-3 11h3m-2-29h3m-3 9h3m-3 0h3m-3 1h3m-3 4h3m-2-23h3m-3 5h3m-3 5h3m-3 1h3m-3 8h3m-3 5h3m-3 2h3m-3 10h3m-3 3h3m-2-35h3m-3 7h3m-3 2h3m-3 3h3m-3 5h3m-3 4h3m-3 21h3m-2-26h3m-3 2h3m-3 2h3m-3 2h3m-3 1h3m-3 8h3m-2-28h3m-3 8h3m-3 9h3m-3 1h3m-3 2h3m-3 2h3m-3 1h3m-3 0h3m-3 1h3m-3 5h3m-2-33h3m-3 6h3m-3 2h3m-3 2h3m-3 5h3m-3 5h3m-3 3h3m-2-16h3m-3 9h3m-3 2h3m-3 9h3m-2-23h3m-3 0h3m-3 2h3m-3 6h3m-3 2h3m-3 1h3m-2-5h3m-3 1h3m-3 9h3m-3 5h3m-2-15h3m-3 2h3m-3 7h3m-2-24h3m-3 16h3m-3 5h3m-3 0h3m-3 3h3m-3 4h3m-3 7h3m-2-33h3m-3 4h3m-3 6h3m-3 0h3m-3 5h3m-3 3h3m-3 9h3m-3 8h3m-2-34h3m-3 10h3m-3 1h3m-3 3h3m-3 1h3m-3 1h3m-3 2h3m-3 6h3m-3 1h3m-3 1h3m-3 8h3m-2-29h3m-3 1h3m-3 6h3m-3 3h3m-3 4h3m-2-28h3m-3 8h3m-3 1h3m-3 8h3m-3 3h3m-3 3h3m-3 4h3m-3 1h3m-3 1h3m-3 0h3m-3 3h3m-3 1h3m-2-25h3m-3 19h3m-3 3h3m-3 6h3m-2-17h3m-3 6h3m-3 4h3m-3 2h3m-3 3h3m-3 1h3m-3 1h3m-3 2h3m-3 3h3m-2-26h3m-3 2h3m-3 3h3m-3 4h3m-3 12h3m-3 3h3m-3 4h3m-3 2h3m-3 3h3m-2-38h3m-3 1h3m-3 5h3m-3 9h3m-3 7h3m-3 1h3m-3 0h3m-2-28h3m-3 12h3m-3 2h3m-3 2h3m-3 1h3m-3 6h3m-3 0h3m-3 0h3m-3 1h3m-3 0h3m-2-23h3m-3 10h3m-3 4h3m-3 3h3m-3 8h3m-3 5h3m-3 4h3m-2-28h3m-3 6h3m-3 5h3m-3 1h3m-3 2h3m-3 3h3m-3 11h3m-2-3h3m-2-22h3m-3 11h3m-3 18h3m-2-38h3m-3 4h3m-3 3h3m-3 0h3m-3 19h3m-3 5h3m-3 3h3m-2-26h3m-3 7h3m-3 2h3m-3 10h3m-2-17h3m-3 1h3m-3 3h3m-3 0h3m-3 8h3m-3 3h3m-2-19h3m-3 15h3m-3 2h3m-3 2h3m-2-25h3m-3 10h3m-3 5h3m-3 1h3m-3 5h3m-3 3h3m-3 9h3m-2-30h3m-3 4h3m-3 3h3m-3 2h3m-3 5h3m-3 12h3m-2-36h3m-3 12h3m-3 3h3m-3 2h3m-3 4h3m-3 10h3m-2-13h3m-3 9h3m-3 7h3m-2-24h3m-3 7h3m-3 22h3m-2-14h3m-3 2h3m-3 3h3m-3 1h3m-3 14h3m-2-41h3m-3 1h3m-3 1h3m-3 3h3m-3 12h3m-3 3h3m-2-8h3m-3 0h3m-3 8h3m-3 3h3m-3 2h3m-3 2h3m-3 0h3m-3 4h3m-3 1h3m-3 5h3m-3 1h3m-2-36h3m-3 11h3m-3 0h3m-3 2h3m-3 7h3m-3 1h3m-3 3h3m-3 4h3m-3 3h3m-3 7h3m-3 2h3m-2-37h3m-3 8h3m-3 1h3m-3 7h3m-3 2h3m-3 12h3m-2-28h3m-3 4h3m-3 2h3m-3 1h3m-3 2h3m-3 0h3m-3 4h3m-3 4h3m-3 3h3m-2-26h3m-3 9h3m-3 3h3m-3 3h3m-3 2h3m-3 6h3m-3 1h3m-3 1h3m-3 3h3m-3 4h3m-3 4h3m-3 2h3m-3 10h3m-2-44h3m-3 15h3m-3 0h3m-3 1h3m-3 5h3m-3 1h3m-3 3h3m-3 8h3m-2-28h3m-3 2h3m-3 6h3m-3 1h3m-3 13h3m-2-19h3m-3 11h3m-3 9h3m-3 9h3m-2-44h3m-3 13h3m-3 5h3m-3 10h3m-3 0h3m-3 8h3m-3 2h3m-3 1h3m-2-31h3m-3 3h3m-3 0h3m-3 7h3m-3 6h3m-3 4h3m-3 0h3m-2-25h3m-3 11h3m-3 1h3m-3 5h3m-3 1h3m-3 5h3m-3 4h3m-3 17h3m-2-36h3m-3 10h3m-3 8h3m-3 1h3m-2-14h3m-3 3h3m-3 13h3m-3 13h3m-2-38h3m-3 11h3m-3 3h3m-3 2h3m-3 2h3m-3 2h3m-3 2h3m-3 2h3m-3 8h3m-2-23h3m-3 4h3m-3 6h3m-3 15h3m-2-34h3m-3 14h3m-3 8h3m-3 2h3m-3 1h3m-3 11h3m-2-14h3m-3 4h3m-3 0h3m-3 1h3m-3 8h3m-3 1h3m-2-29h3m-3 11h3m-3 9h3m-3 5h3m-3 1h3m-3 2h3m-2-37h3m-3 8h3m-3 3h3m-3 12h3m-3 3h3m-3 3h3m-3 1h3m-3 1h3m-3 1h3m-3 4h3m-2-30h3m-3 4h3m-3 4h3m-3 5h3m-3 3h3m-3 6h3m-3 18h3m-2-49h3m-3 4h3m-3 13h3m-3 3h3m-3 0h3m-3 6h3m-3 6h3m-3 6h3m-2-34h3m-3 13h3m-3 3h3m-3 5h3m-3 1h3m-3 2h3m-2-20h3m-3 1h3m-3 10h3m-3 1h3m-3 0h3m-3 5h3m-3 7h3m-3 18h3m-2-39h3m-3 9h3m-3 0h3m-3 2h3m-3 3h3m-3 4h3m-3 1h3m-3 2h3m-3 1h3m-3 5h3m-3 6h3m-2-19h3m-3 1h3m-3 4h3m-3 0h3m-2-10h3m-3 2h3m-3 0h3m-3 4h3m-3 2h3m-2-13h3m-3 5h3m-3 4h3m-3 5h3m-3 3h3m-3 8h3m-3 0h3m-2-34h3m-3 4h3m-3 4h3m-3 2h3m-3 1h3m-3 3h3m-3 2h3m-3 5h3m-3 1h3m-3 1h3m-3 6h3m-2-28h3m-3 9h3m-3 1h3m-3 4h3m-3 2h3m-3 5h3m-2-18h3m-3 10h3m-3 0h3m-3 2h3m-3 1h3m-3 7h3m-3 2h3m-3 3h3m-3 3h3m-2-34h3m-3 5h3m-3 4h3m-3 6h3m-3 0h3m-3 4h3m-3 17h3m-2-28h3m-3 1h3m-3 8h3m-3 24h3m-2-42h3m-3 3h3m-3 12h3m-3 7h3m-3 2h3m-3 10h3m-3 6h3m-3 3h3m-2-31h3m-3 5h3m-3 12h3m-3 0h3m-3 1h3m-3 3h3m-2-22h3m-3 4h3m-3 6h3m-3 2h3m-2-7h3m-3 3h3m-3 2h3m-3 1h3m-3 8h3m-3 16h3m-2-31h3m-3 3h3m-3 0h3m-3 8h3m-3 6h3m-3 2h3m-3 4h3m-2-31h3m-3 12h3m-3 5h3m-3 1h3m-3 2h3m-3 7h3m-3 10h3m-2-39h3m-3 0h3m-3 7h3m-3 12h3m-2-19h3m-3 1h3m-3 12h3m-3 2h3m-3 8h3m-3 0h3m-3 0h3m-2-36h3m-3 18h3m-3 7h3m-3 1h3m-3 0h3m-3 1h3m-3 4h3m-3 4h3m-3 2h3m-3 3h3m-3 2h3m-2-32h3m-3 7h3m-3 1h3m-3 2h3m-3 3h3m-3 3h3m-3 1h3m-3 0h3m-2-12h3m-3 13h3m-3 5h3m-3 6h3m-3 2h3m-2-13h3m-3 0h3m-3 4h3m-3 1h3m-3 3h3m-3 2h3m-3 1h3m-2-22h3m-3 7h3m-3 3h3m-3 0h3m-3 3h3m-3 5h3m-2-15h3m-3 1h3m-3 2h3m-3 2h3m-3 1h3m-3 2h3m-3 0h3m-3 6h3m-2-17h3m-3 2h3m-3 5h3m-3 0h3m-3 7h3m-3 4h3m-2-28h3m-3 6h3m-3 3h3m-3 5h3m-3 1h3m-3 1h3m-3 9h3m-3 0h3m-2-13h3m-3 14h3m-3 1h3m-2-30h3m-3 6h3m-3 5h3m-3 4h3m-3 1h3m-3 6h3m-3 10h3m-3 8h3m-2-28h3m-3 1h3m-3 4h3m-3 1h3m-3 1h3m-3 2h3m-3 4h3m-3 0h3m-3 1h3m-3 2h3m-3 8h3m-2-22h3m-3 8h3m-3 3h3m-3 0h3m-3 5h3m-3 3h3m-3 2h3m-2-41h3m-3 8h3m-3 4h3m-3 4h3m-3 2h3m-3 3h3m-3 3h3m-3 3h3m-3 0h3m-3 11h3m-2-16h3m-3 4h3m-3 4h3m-3 1h3m-3 3h3m-3 2h3m-3 3h3m-3 8h3m-2-29h3m-3 2h3m-3 3h3m-3 5h3m-3 0h3m-3 2h3m-3 4h3m-3 1h3m-3 5h3m-3 7h3m-2-41h3m-3 7h3m-3 7h3m-3 2h3m-3 8h3m-3 0h3m-3 1h3m-3 4h3m-3 4h3m-3 3h3m-3 6h3m-2-30h3m-3 1h3m-3 2h3m-3 2h3m-3 2h3m-3 1h3m-3 2h3m-3 6h3m-3 11h3m-3 3h3m-2-33h3m-3 3h3m-3 2h3m-3 3h3m-3 3h3m-3 2h3m-3 0h3m-3 1h3m-2-26h3m-3 19h3m-3 7h3m-3 3h3m-3 22h3m-2-37h3m-3 1h3m-3 12h3m-3 5h3m-3 10h3m-2-22h3m-3 5h3m-3 8h3m-3 8h3m-2-41h3m-3 13h3m-3 3h3m-3 0h3m-3 7h3m-3 2h3m-3 1h3m-3 2h3m-3 1h3m-3 22h3m-2-37h3m-3 6h3m-3 0h3m-3 1h3m-3 6h3m-3 2h3m-3 18h3m-2-29h3m-3 6h3m-3 6h3m-3 2h3m-3 4h3m-2-24h3m-3 12h3m-3 5h3m-3 3h3m-3 3h3m-3 3h3m-3 1h3m-2-36h3m-3 4h3m-3 15h3m-3 2h3m-3 4h3m-3 0h3m-2-8h3m-3 3h3m-3 1h3m-3 8h3m-2-31h3m-3 12h3m-3 2h3m-3 6h3m-3 2h3m-3 4h3m-3 2h3m-2-14h3m-3 1h3m-3 3h3m-3 5h3m-3 1h3m-3 0h3m-3 2h3m-3 0h3m-3 2h3m-3 5h3m-3 4h3m-2-34h3m-3 12h3m-3 1h3m-3 1h3m-3 0h3m-3 4h3m-3 0h3m-3 2h3m-3 7h3m-2-17h3m-3 5h3m-3 1h3m-3 3h3m-3 0h3m-3 1h3m-3 18h3m-3 2h3m-2-22h3m-3 4h3m-3 5h3m-3 1h3m-3 11h3m-2-26h3m-3 7h3m-3 0h3m-2-10h3m-3 7h3m-3 4h3m-3 1h3m-3 1h3m-3 5h3m-3 8h3m-2-19h3m-3 2h3m-3 9h3m-3 0h3m-3 1h3m-3 1h3m-3 3h3m-3 18h3m-1-41h3m-3 2h3m-3 3h3m-3 5h3m-3 24h3m-2-42h3m-3 12h3m-3 0h3m-3 1h3m-3 0h3m-3 1h3m-3 4h3m-3 1h3m-3 5h3m-3 3h3m-3 8h3m-3 2h3m-2-33h3m-3 3h3m-3 7h3m-3 0h3m-3 5h3m-3 2h3m-3 7h3m-3 2h3m-2-31h3m-3 7h3m-3 4h3m-3 5h3m-3 0h3m-3 3h3m-3 0h3m-3 3h3m-3 1h3m-3 4h3m-3 1h3m-3 3h3m-3 6h3m-2-33h3m-3 8h3m-3 9h3m-3 1h3m-3 4h3m-3 2h3m-3 1h3m-3 1h3m-2-13h3m-3 0h3m-3 3h3m-3 1h3m-3 0h3m-3 3h3m-3 8h3m-2-17h3m-3 4h3m-3 6h3m-3 8h3m-2-32h3m-3 2h3m-3 4h3m-3 2h3m-3 2h3m-3 8h3m-3 1h3m-3 1h3m-3 4h3m-3 6h3m-3 3h3m-2-20h3m-3 4h3m-3 4h3m-3 0h3m-3 3h3m-3 4h3m-3 4h3m-2-25h3m-3 5h3m-3 4h3m-3 2h3m-3 10h3m-2-25h3m-3 6h3m-3 5h3m-3 2h3m-3 6h3m-3 8h3m-3 4h3m-2-29h3m-3 4h3m-3 2h3m-3 4h3m-3 10h3m-3 2h3m-2-22h3m-3 5h3m-3 6h3m-3 0h3m-3 3h3m-3 4h3m-3 7h3m-3 1h3m-3 1h3m-3 12h3m-2-30h3m-3 3h3m-3 2h3m-3 2h3m-3 4h3m-3 3h3m-2-27h3m-3 5h3m-3 4h3m-3 4h3m-3 3h3m-3 1h3m-3 3h3m-3 1h3m-3 5h3m-3 2h3m-2-29h3m-3 10h3m-3 1h3m-3 2h3m-3 0h3m-3 5h3m-3 4h3m-3 4h3m-3 4h3m-3 1h3m-3 5h3m-2-31h3m-3 13h3m-3 8h3m-3 3h3m-2-24h3m-3 6h3m-3 10h3m-3 6h3m-3 2h3m-3 0h3m-2-29h3m-3 10h3m-3 3h3m-3 2h3m-3 15h3m-3 5h3m-2-25h3m-3 5h3m-3 1h3m-3 4h3m-3 0h3m-3 1h3m-3 4h3m-2-24h3m-3 14h3m-3 2h3m-2-15h3m-3 17h3m-3 3h3m-3 2h3m-3 1h3m-3 6h3m-2-30h3m-3 6h3m-3 8h3m-3 16h3m-2-20h3m-3 7h3m-3 2h3m-3 3h3m-2-7h3m-3 1h3m-3 3h3m-3 1h3m-3 1h3m-3 1h3m-3 4h3m-3 0h3m-3 2h3m-2-12h3m-3 2h3m-3 10h3m-2-26h3m-3 2h3m-3 0h3m-3 5h3m-3 4h3m-3 0h3m-3 7h3m-3 1h3m-3 4h3m-3 1h3m-2-24h3m-3 7h3m-3 0h3m-3 0h3m-3 2h3m-3 3h3m-3 2h3m-3 3h3m-3 2h3m-3 3h3m-3 4h3m-3 8h3m-2-24h3m-3 9h3m-3 4h3m-3 19h3m-2-43h3m-3 7h3m-3 4h3m-3 1h3m-3 0h3m-3 2h3m-3 8h3m-3 1h3m-3 1h3m-3 2h3m-3 4h3m-3 3h3m-3 1h3m-2-26h3m-3 3h3m-3 0h3m-3 14h3m-3 2h3m-3 2h3m-3 1h3m-3 4h3m-2-43h3m-3 22h3m-3 2h3m-3 4h3m-3 0h3m-3 2h3m-2-20h3m-3 2h3m-3 16h3m-3 2h3m-3 3h3m-3 0h3m-3 2h3m-3 9h3m-2-20h3m-3 4h3m-3 7h3m-3 1h3m-2-23h3m-3 6h3m-3 3h3m-3 7h3m-3 3h3m-3 1h3m-3 12h3m-2-31h3m-3 0h3m-3 9h3m-3 1h3m-3 7h3m-3 6h3m-2-16h3m-3 7h3m-3 1h3m-3 1h3m-3 0h3m-3 6h3m-2-25h3m-3 7h3m-3 1h3m-3 8h3m-3 1h3m-3 10h3m-3 1h3m-3 3h3m-2-20h3m-3 16h3m-3 3h3" stroke="#2274de" stroke-width="3" stroke-opacity="0.8" fill="none"/><path transform="scale(.25)" d="M1218 634h3m-3 5h3m-1 1h3m-1-3h3m-2-2h3m-2 6h3m4-9h3m2-1h3m1 4h3m-2 5h3m-1-8h3m-1 3h3m-2-3h3m-3 2h3m-1-2h3m-1 4h3m-2-2h3m-3 6h3m0 1h3m-2-10h3m-2 6h3m-1-3h3m-1 1h3m-2 0h3m-1 0h3m-2-2h3m-3 7h3m2-6h3m-2 4h3m-2-7h3m-3 3h3m3 6h3m0-4h3m-1 1h3m-1-7h3m3 12h3m-2-8h3m-3 3h3m-3 3h3m-2-3h3m3 4h3m-2-5h3m-1-1h3m0 2h3m-2-5h3m-3 9h3m-3 1h3m2-10h3m-3 4h3m0-5h3m0 7h3m-2 3h3m0-10h3m-1 5h3m-3 1h3m-3 5h3m3-12h3m0 11h3m0-5h3m0-5h3m-3 4h3m-2 3h3m1-1h3m-2 3h3m-2-3h3m2-6h3m-3 0h3m-3 11h3m-1-12h3m-3 1h3m-2 1h3m1 8h3m0-8h3m1 3h3m1 1h3m-2-2h3m-3 3h3m3-4h3m-2 9h3m-2-6h3m-2-6h3m-1 6h3m-2 1h3m-3 2h3m-3 1h3m-2-5h3m-3 6h3m-2-7h3m-1 0h3m-2 4h3" stroke="#2274de" stroke-width="3" stroke-opacity="0.9" fill="none"/><path transform="scale(.25)" d="M1217 701h3m-1-10h3m2 5h3m-1-5h3m7 9h3m1 4h3m3 3h3m1-19h3m7-8h3m2 17h3m-2 6h3m-3 4h3m-2-21h3m5-3h3m-1 25h3m1-1h3m-2-18h3m-3 4h3m-1 13h3m5-4h3m5-14h3m4 16h3m-3 2h3m0-14h3m7 8h3m-1-8h3m-3 6h3m-1-3h3m-2 4h3m-1-8h3m0 14h3m2-19h3m-1 13h3m-2-5h3m-1 1h3m-3 15h3m-1-20h3m-1 7h3m-2-16h3m1 24h3m-2-10h3m-2 5h3m-3 5h3m-2-21h3m0 0h3m3-4h3m-3 18h3m1-6h3m7-5h3m-1 20h3" stroke="#2274de" stroke-width="3" stroke-opacity="0.8" fill="none"/><rect x="304" y="183.6" width="43" height="4.4" fill="#161616" fill-opacity="0.85"/><path transform="scale(.25)" d="M1216 735h3m-3 6h3m-3 2h3m-3 3h3m-2-5h3m-3 0h3m-3 0h3m-3 6h3m-3 6h3m-2-21h3m-3 8h3m-3 1h3m-2-3h3m-3 0h3m-3 9h3m-3 0h3m-2-13h3m-3 0h3m-3 8h3m-3 2h3m-2-8h3m-3 5h3m-3 3h3m-3 2h3m-3 6h3m-3 2h3m-2-17h3m-3 8h3m-2-15h3m-3 3h3m-3 4h3m-3 0h3m-3 5h3m-3 2h3m-3 2h3m-3 2h3m-3 2h3m-2-11h3m-3 10h3m-3 1h3m-3 2h3m-2-17h3m-2 2h3m-3 4h3m-3 5h3m-3 5h3m-3 2h3m-2-18h3m-3 4h3m-3 1h3m-3 10h3m-2-18h3m-3 1h3m-3 10h3m-3 3h3m-3 9h3m-2-16h3m-3 3h3m-3 1h3m-3 5h3m-2-19h3m-3 0h3m-3 8h3m-3 3h3m-3 2h3m-3 6h3m-3 2h3m-3 1h3m-2-18h3m-3 3h3m-3 2h3m-3 3h3m-3 3h3m-3 2h3m-3 2h3m-3 3h3m-3 6h3m-2-18h3m-3 0h3m-3 0h3m-3 4h3m-3 0h3m-3 2h3m-3 0h3m-3 4h3m-2-16h3m-3 1h3m-3 16h3m-2-12h3m-3 0h3m-3 8h3m-3 6h3m-2-17h3m-3 15h3m-2-18h3m-3 9h3m-3 3h3m-3 4h3m-2-12h3m-3 5h3m-3 5h3m-3 1h3m-3 0h3m-3 1h3m-3 1h3m-2-11h3m-3 0h3m-3 2h3m-3 7h3m-3 3h3m-2-11h3m-3 0h3m-3 2h3m-3 4h3m-3 0h3m-3 3h3m-2-14h3m-3 1h3m-3 0h3m-3 14h3m-3 6h3m-2-26h3m-3 7h3m-3 2h3m-3 3h3m-3 4h3m-3 0h3m-3 1h3m-3 1h3m-3 2h3m-3 1h3m-3 4h3m-2-21h3m-3 5h3m-3 2h3m-3 7h3m-3 4h3m-2-11h3m-3 3h3m-3 9h3m-2-10h3m-3 2h3m-3 8h3m-3 1h3m-3 0h3m-2-11h3m-3 4h3m-3 0h3m-3 0h3m-3 4h3m-3 5h3m-3 0h3m-2-20h3m-3 7h3m-3 2h3m-3 1h3m-3 0h3m-3 1h3m-3 9h3m-3 3h3m-2-26h3m-3 8h3m-3 2h3m-3 4h3m-3 2h3m-3 1h3m-3 2h3m-2-2h3m-2-10h3m-3 5h3m-3 1h3m-2-5h3m-3 2h3m-3 5h3m-2-14h3m-3 7h3m-3 0h3m-3 3h3m-3 5h3m-3 5h3m-2-15h3m-3 19h3m-2-22h3m-2 5h3m-3 2h3m-3 0h3m-3 3h3m-3 7h3m-2-24h3m-3 8h3m-3 1h3m-3 3h3m-3 3h3m-3 10h3m-2-12h3m-3 2h3m-3 2h3m-2-5h3m-3 1h3m-3 8h3m-3 0h3m-2-16h3m-3 14h3m-3 1h3m-3 4h3m-3 4h3m-2-15h3m-3 4h3m-3 4h3m-3 9h3m-2-25h3m-3 2h3m-3 3h3m-3 4h3m-3 5h3m-2-9h3m-3 3h3m-3 1h3m-3 1h3m-3 3h3m-3 3h3m-2-3h3m-3 1h3m-3 1h3m-3 5h3m-2-8h3m-3 1h3m-3 2h3m-3 1h3m-3 0h3m-3 2h3m-2-11h3m-3 0h3m-3 3h3m-3 1h3m-3 4h3m-2-12h3m-3 1h3m-3 4h3m-3 1h3m-3 2h3m-3 2h3m-3 3h3m-2-10h3m-3 2h3m-3 1h3m-3 3h3m-2-1h3m-3 0h3m-3 5h3m-2-5h3m-3 1h3m-3 7h3m-1-7h3m-3 9h3m-3 0h3m-2-20h3m-3 5h3m-3 3h3m-3 6h3m-2-7h3m-3 1h3m-3 2h3m-3 0h3m-2 0h3m-3 1h3m-3 1h3m-3 0h3m-3 1h3m-3 1h3m-3 1h3m-2-13h3m-3 2h3m-3 4h3m-3 2h3m-3 2h3m-2-14h3m-3 10h3m-3 0h3m-3 2h3m-3 1h3m-3 2h3m-3 1h3m-3 4h3m-2-12h3m-3 1h3m-3 5h3m-3 2h3m-3 2h3m-2-11h3m-3 0h3m-3 3h3m-3 4h3m-2-8h3m-3 3h3m-3 0h3m-3 0h3m-3 8h3m-2-16h3m-3 0h3m-3 2h3m-3 6h3m-3 1h3m-3 0h3m-3 5h3m-2-9h3m-3 3h3m-3 1h3m-3 2h3m-3 1h3m-2-2h3m-3 0h3m-3 9h3m-2-20h3m-3 8h3m-3 2h3m-3 0h3m-3 2h3m-3 2h3m-2-5h3m-3 0h3m-3 4h3m-3 0h3m-3 0h3m-2-13h3m-3 1h3m-3 1h3m-3 4h3m-3 1h3m-3 3h3m-3 1h3m-3 0h3m-3 11h3m-2-22h3m-3 3h3m-3 6h3m-3 1h3m-3 3h3m-3 7h3m-3 1h3m-2-18h3m-3 0h3m-3 2h3m-3 6h3m-3 1h3m-3 4h3m-3 1h3m-2-21h3m-3 14h3m-3 6h3m-3 1h3m-3 1h3m-2-20h3m-3 4h3m-3 3h3m-3 3h3m-3 3h3m-3 2h3m-3 5h3m-3 0h3m-3 7h3m-2-16h3m-3 0h3m-3 4h3m-3 2h3m-3 3h3m-2-15h3m-3 4h3m-3 8h3m-2-9h3m-3 3h3m-3 2h3m-3 1h3m-3 1h3m-3 2h3m-3 4h3m-2-15h3m-3 4h3m-3 1h3m-3 1h3m-3 9h3m-3 1h3m-2-14h3m-2-10h3m-3 4h3m-3 8h3m-3 5h3m-3 2h3m-3 6h3m-2-18h3m-3 3h3m-3 0h3m-3 4h3m-3 0h3m-3 9h3m-2-16h3m-3 0h3m-3 1h3m-3 0h3m-3 6h3m-3 0h3m-3 7h3m-3 1h3m-3 1h3m-2-19h3m-3 6h3m-3 6h3m-3 1h3m-3 11h3m-2-21h3m-3 3h3m-3 3h3m-3 0h3m-3 2h3m-2-10h3m-3 9h3m-3 4h3m-3 3h3m-3 1h3m-3 0h3m-2-10h3m-3 1h3m-2-8h3m-3 5h3m-3 8h3m-3 1h3m-3 1h3m-3 3h3m-3 6h3m-2-28h3m-3 8h3m-3 1h3m-3 5h3m-3 2h3m-3 7h3m-3 3h3m-2-21h3m-3 2h3m-3 1h3m-3 1h3m-3 0h3m-3 3h3m-2-2h3m-3 1h3m-3 8h3m-3 2h3m-3 5h3m-2-15h3m-3 4h3m-3 0h3m-3 2h3m-3 2h3m-3 1h3m-2-11h3m-3 2h3m-3 0h3m-3 9h3m-3 0h3m-3 7h3m-2-26h3m-3 9h3m-3 2h3m-3 0h3m-3 1h3m-3 0h3m-3 2h3m-3 2h3m-3 1h3m-3 10h3m-2-15h3m-3 3h3m-3 4h3m-3 2h3m-3 2h3m-2-19h3m-3 8h3m-3 5h3m-3 1h3m-2-13h3m-3 3h3m-3 8h3m-3 2h3m-2-8h3m-3 1h3m-3 1h3m-3 2h3m-3 0h3m-3 5h3m-3 2h3m-3 3h3m-2-21h3m-3 14h3m-3 5h3m-3 1h3m-2-19h3m-3 5h3m-3 4h3m-2-10h3m-3 9h3m-3 0h3m-3 0h3m-3 6h3m-3 2h3m-3 1h3m-2-10h3m-3 5h3m-3 3h3m-2-16h3m-3 4h3m-3 2h3m-3 1h3m-3 1h3m-3 10h3m-3 3h3m-2-21h3m-3 5h3m-3 2h3m-3 8h3m-3 9h3m-2-22h3m-3 2h3m-3 5h3m-3 2h3m-3 1h3m-3 11h3m-2-20h3m-3 2h3m-3 1h3m-3 3h3m-3 0h3m-3 1h3m-3 0h3m-3 12h3m-2-19h3m-3 16h3m-2-18h3m-3 7h3m-3 1h3m-3 8h3m-3 4h3m-2-20h3m-3 1h3m-3 2h3m-3 0h3m-3 1h3m-3 4h3m-3 4h3m-3 0h3m-2-14h3m-3 5h3m-2 2h3m-3 1h3m-3 5h3m-3 9h3m-2-20h3m-3 4h3m-3 1h3m-3 5h3m-3 2h3m-3 6h3m-2-20h3m-3 12h3m-3 3h3m-3 2h3m-3 6h3m-2-6h3m-3 1h3m-2-13h3m-3 2h3m-3 7h3m-3 7h3m-2-20h3m-3 6h3m-3 0h3m-3 2h3m-2-6h3m-3 1h3m-3 2h3m-3 3h3m-3 0h3m-3 4h3m-3 4h3m-3 5h3m-2-22h3m-3 11h3m-3 2h3m-2-2h3m-3 1h3m-3 2h3m-2-8h3m-3 0h3m-3 14h3m-2-6h3m-3 1h3m-3 4h3m-2-18h3m-3 3h3m-3 6h3m-3 2h3m-3 5h3m-2-14h3m-3 0h3m-3 1h3m-3 3h3m-3 3h3m-3 3h3m-3 7h3m-3 3h3m-2-12h3m-3 2h3m-3 1h3m-3 1h3m-3 0h3m-3 0h3m-3 1h3m-3 1h3m-3 3h3m-2-22h3m-3 15h3m-3 4h3m-3 3h3m-2-16h3m-3 7h3m-3 3h3m-2-8h3m-3 2h3m-3 1h3m-3 0h3m-3 0h3m-3 4h3m-3 2h3m-3 8h3m-2-22h3m-3 6h3m-3 8h3m-3 1h3m-2-13h3m-3 3h3m-3 6h3m-2-9h3m-3 1h3m-3 4h3m-3 2h3m-3 3h3m-3 1h3m-3 3h3m-3 1h3m-2-15h3m-3 3h3m-3 4h3m-3 2h3m-3 1h3m-3 3h3m-2-4h3m-3 1h3m-3 1h3m-3 1h3m-3 2h3m-2-9h3m-3 3h3m-3 8h3m-3 4h3m-3 3h3m-2-2h3m-2-27h3m-3 15h3m-3 2h3m-3 0h3m-3 2h3m-3 0h3m-3 3h3m-2-9h3m-3 4h3m-3 0h3m-2-3h3m-3 4h3m-2-11h3m-3 6h3m-3 0h3m-3 2h3m-3 1h3m-2-6h3m-3 1h3m-3 4h3m-3 2h3m-3 4h3m-3 7h3m-2-17h3m-3 1h3m-3 6h3m-3 0h3m-3 3h3m-3 1h3m-3 1h3m-2-14h3m-3 1h3m-3 1h3m-3 7h3m-3 4h3m-2-14h3m-3 1h3m-3 1h3m-3 0h3m-3 5h3m-3 1h3m-3 3h3m-3 5h3m-2-17h3m-3 1h3m-3 3h3m-3 3h3m-3 2h3m-3 2h3m-3 0h3m-3 2h3m-3 1h3m-3 1h3m-3 0h3m-2-14h3m-3 5h3m-3 3h3m-3 2h3m-3 6h3m-2-20h3m-3 1h3m-3 3h3m-3 1h3m-2-3h3m-3 4h3m-3 1h3m-3 2h3m-3 3h3m-3 2h3m-3 1h3m-3 7h3m-2-21h3m-3 5h3m-3 1h3m-3 7h3m-3 3h3m-2-19h3m-3 4h3m-3 1h3m-3 2h3m-3 1h3m-3 10h3m-3 1h3m-2-17h3m-3 6h3m-3 1h3m-3 3h3m-3 5h3m-3 0h3m-2-14h3m-3 0h3m-3 6h3m-3 1h3m-3 2h3m-3 1h3m-3 4h3m-3 4h3m-2-16h3m-3 1h3m-3 2h3m-3 3h3m-2 1h3m-3 0h3m-3 4h3m-3 3h3m-2-11h3m-3 4h3m-3 2h3m-3 4h3m-3 2h3m-2-19h3m-3 5h3m-3 0h3m-3 3h3m-3 2h3m-3 2h3m-3 2h3m-3 3h3m-3 4h3m-2-13h3m-3 1h3m-3 2h3m-3 9h3m-2-16h3m-3 4h3m-3 3h3m-2-8h3m-3 3h3m-3 1h3m-3 2h3m-3 2h3m-3 0h3m-3 1h3m-3 1h3m-3 0h3m-3 1h3m-3 1h3m-3 1h3m-3 2h3m-2-11h3m-3 1h3m-3 7h3m-3 2h3m-3 0h3m-3 2h3m-3 0h3m-2-13h3m-3 1h3m-3 0h3m-3 0h3m-3 2h3m-3 3h3m-3 2h3m-2-11h3m-3 2h3m-3 2h3m-3 4h3m-3 1h3m-3 2h3m-3 1h3m-3 2h3m-3 1h3m-2-16h3m-3 4h3m-3 2h3m-3 3h3m-3 3h3m-3 6h3m-2-13h3m-3 3h3m-3 2h3m-3 4h3m-3 1h3m-3 1h3m-2-16h3m-3 3h3m-3 4h3m-3 1h3m-3 1h3m-3 1h3m-3 0h3m-3 1h3m-3 4h3m-2-12h3m-3 2h3m-3 0h3m-3 10h3m-3 8h3m-2-23h3m-3 3h3m-3 6h3m-3 4h3m-2-11h3m-3 7h3m-3 4h3m-2-13h3m-3 0h3m-3 5h3m-3 5h3m-3 9h3m-2-14h3m-3 7h3m-2-15h3m-3 7h3m-3 2h3m-3 6h3m-3 8h3m-2-11h3m-3 2h3m-3 0h3m-2-10h3m-3 4h3m-3 2h3m-3 1h3m-3 0h3m-3 0h3m-3 2h3m-3 1h3m-3 10h3m-2-22h3m-3 7h3m-3 6h3m-3 2h3m-3 2h3m-3 4h3" stroke="#1a1a1a" stroke-width="3" stroke-opacity="0.7" fill="none"/><path transform="scale(.25)" d="M1217 830h3m3-43h3m-3 9h3m-2-4h3m-3 28h3m-3 18h3m1-19h3m-3 19h3m-2-9h3m2-49h3m-2-6h3m-3 66h3m-2-12h3m3-58h3m-1 13h3m-2 3h3m-3 0h3m-3 24h3m-3 15h3m-2 14h3m-2-19h3m-2-46h3m2 48h3m0-20h3m-1 23h3m-3 2h3m-2-7h3m-3 14h3m-1-48h3m-2 24h3m4 29h3m1-64h3m-3 47h3m-2-5h3m-2-40h3m-3 23h3m-1-6h3m-2-24h3m-2 69h3m-2-44h3m-2 1h3m5-21h3m-3 38h3m0-15h3m-3 20h3m-1-33h3m-2-23h3m-3 51h3m2 9h3m5-38h3m2 38h3m-2 2h3m4-30h3m0 5h3m-2 31h3m-2-7h3m2-31h3m-2-22h3m-1 11h3m-3 18h3m-2 30h3m-2-44h3m-2-19h3m-2-5h3m-2 58h3m-3 14h3m4-43h3m-2 38h3m-2-22h3m-1 1h3m0-7h3m-1 11h3m-2 10h3m-2-50h3m-2-4h3m1 40h3m0-4h3m-2 15h3m1-12h3m-1 1h3m-3 7h3m-2-5h3m-1 28h3m-2-58h3m-1 33h3m-3 6h3m-3 16h3m-2-39h3m-2-28h3m2 16h3" stroke="#2a2a2a" stroke-width="3" stroke-opacity="0.8" fill="none"/><rect x="304" y="179.9" width="43.5" height="1.3" fill="#d846dc" fill-opacity="1.0"/><rect x="347.5" y="197.6" width="45.5" height="4.2" fill="#141414" fill-opacity="0.9"/><path transform="scale(.25)" d="M1390 795h3m-3 5h3m-2-6h3m-3 5h3m-3 3h3m-2-9h3m-3 2h3m-3 2h3m-3 5h3m-2-8h3m-3 2h3m-3 1h3m-3 6h3m-3 1h3m-3 4h3m-2-19h3m-3 7h3m-3 8h3m-3 0h3m-3 0h3m-3 6h3m-2-19h3m-3 2h3m-2 6h3m-3 0h3m-3 1h3m-2-3h3m-3 3h3m-2-3h3m-3 2h3m-3 6h3m-2-10h3m-2-1h3m-3 0h3m-3 1h3m-3 0h3m-3 1h3m-3 3h3m-3 4h3m-2-7h3m-3 1h3m-3 2h3m-3 1h3m-3 2h3m-3 3h3m-2-16h3m-3 7h3m-3 2h3m-3 6h3m-3 7h3m-2-24h3m-3 10h3m-3 2h3m-3 1h3m-3 8h3m-3 1h3m-2-21h3m-3 1h3m-3 2h3m-3 3h3m-3 4h3m-3 0h3m-3 1h3m-3 7h3m-2-14h3m-3 1h3m-3 6h3m-3 8h3m-2-14h3m-3 9h3m-3 0h3m-3 4h3m-2-13h3m-3 6h3m-2-3h3m-3 2h3m-3 1h3m-3 2h3m-3 5h3m-2-15h3m-3 7h3m-3 1h3m-3 2h3m-3 2h3m-2-9h3m-3 7h3m-3 7h3m-2-9h3m-3 1h3m-2 1h3m-2-16h3m-3 16h3m-3 2h3m-2-19h3m-3 15h3m-2-7h3m-3 3h3m-3 3h3m-3 0h3m-2-6h3m-3 1h3m-3 1h3m-3 6h3m-2-8h3m-3 3h3m-3 8h3m-3 5h3m-2-12h3m-3 4h3m-3 4h3m-3 3h3m-2-18h3m-3 5h3m-3 2h3m-3 0h3m-3 2h3m-3 5h3m-2-10h3m-3 6h3m-3 2h3m-3 2h3m-3 0h3m-3 1h3m-3 9h3m-2-17h3m-3 1h3m-3 5h3m-2-13h3m-3 4h3m-3 8h3m-2-6h3m-3 2h3m-3 0h3m-3 3h3m-3 2h3m-2-9h3m-3 0h3m-3 6h3m-2-13h3m-3 6h3m-2 2h3m-3 2h3m-3 3h3m-3 2h3m-2-9h3m-3 2h3m-3 1h3m-3 2h3m-3 2h3m-3 5h3m-2-6h3m-3 1h3m-3 2h3m-3 1h3m-3 2h3m-3 2h3m-2-6h3m-3 0h3m-3 3h3m-2-8h3m-3 7h3m-3 3h3m-3 2h3m-3 2h3m-2-18h3m-3 8h3m-3 0h3m-3 4h3m-3 3h3m-2-15h3m-3 3h3m-3 4h3m-3 3h3m-3 2h3m-3 9h3m-2-21h3m-3 1h3m-3 1h3m-3 3h3m-3 2h3m-3 0h3m-3 9h3m-2-11h3m-3 1h3m-3 1h3m-3 1h3m-3 0h3m-2-7h3m-3 4h3m-3 3h3m-3 5h3m-3 4h3m-2-12h3m-3 10h3m-2-18h3m-3 8h3m-3 1h3m-3 2h3m-3 0h3m-3 4h3m-2-12h3m-3 10h3m-3 1h3m-3 1h3m-2-11h3m-3 4h3m-3 1h3m-3 2h3m-3 0h3m-3 2h3m-3 2h3m-3 4h3m-3 3h3m-2-18h3m-3 3h3m-3 1h3m-3 2h3m-3 2h3m-3 2h3m-3 2h3m-2-9h3m-3 3h3m-3 0h3m-3 0h3m-3 3h3m-3 0h3m-3 1h3m-2-9h3m-3 0h3m-3 3h3m-3 4h3m-3 5h3m-2-7h3m-2-3h3m-3 3h3m-3 4h3m-2-7h3m-3 8h3m-2-5h3m-3 1h3m-3 4h3m-2-5h3m-3 0h3m-3 2h3m-3 1h3m-3 1h3m-2-8h3m-3 0h3m-3 0h3m-3 2h3m-3 1h3m-3 8h3m-2-9h3m-3 2h3m-3 0h3m-2-3h3m-2 0h3m-3 3h3m-3 0h3m-3 3h3m-3 3h3m-3 4h3m-2-19h3m-3 4h3m-3 10h3m-3 3h3m-3 3h3m-2-20h3m-3 0h3m-3 3h3m-3 6h3m-3 0h3m-3 2h3m-3 4h3m-3 0h3m-2-9h3m-3 1h3m-2-2h3m-3 4h3m-3 4h3m-2-7h3m-3 1h3m-3 0h3m-3 1h3m-3 0h3m-3 0h3m-3 1h3m-3 4h3m-3 3h3m-2-11h3m-3 1h3m-3 4h3m-3 4h3m-3 2h3m-3 7h3m-2-23h3m-3 3h3m-3 2h3m-3 1h3m-3 3h3m-3 6h3m-3 1h3m-2-14h3m-3 7h3m-3 4h3m-3 11h3m-2-17h3m-3 5h3m-3 1h3m-2-16h3m-3 3h3m-3 3h3m-3 3h3m-3 1h3m-3 3h3m-3 3h3m-3 1h3m-3 0h3m-3 0h3m-3 0h3m-2-9h3m-3 9h3m-3 1h3m-3 0h3m-2-13h3m-3 2h3m-3 1h3m-3 1h3m-3 2h3m-3 0h3m-3 8h3m-2-10h3m-3 3h3m-3 1h3m-3 6h3m-2-16h3m-3 1h3m-3 1h3m-3 11h3m-3 0h3m-3 1h3m-3 3h3m-2-11h3m-3 2h3m-2-8h3m-3 2h3m-3 5h3m-3 3h3m-3 4h3m-2-9h3m-3 3h3m-3 0h3m-3 1h3m-3 1h3m-3 4h3m-2-11h3m-3 3h3m-3 2h3m-3 4h3m-3 1h3m-3 2h3m-2-9h3m-3 1h3m-3 3h3m-3 3h3m-3 1h3m-2-8h3m-2 1h3m-3 1h3m-3 2h3m-3 1h3m-3 3h3m-3 4h3m-3 0h3m-2-12h3m-3 2h3m-3 3h3m-3 1h3m-3 4h3m-2-16h3m-3 2h3m-3 3h3m-3 3h3m-3 1h3m-3 1h3m-3 3h3m-2-14h3m-3 10h3m-2-5h3m-3 2h3m-3 0h3m-3 7h3m-3 6h3m-2-15h3m-3 11h3m-2-6h3m-3 4h3m-3 1h3m-3 4h3m-2-8h3m-3 5h3m-1-12h3m-3 8h3m-2-5h3m-3 4h3m-3 3h3m-3 3h3m-2-13h3m-3 1h3m-2-3h3m-3 5h3m-3 0h3m-3 0h3m-3 1h3m-3 3h3m-2 1h3m-3 8h3m-2-11h3m-3 5h3m-3 4h3m-2-3h3m-3 3h3m-2-6h3m-2-8h3m-3 5h3m-3 2h3m-3 1h3m-3 3h3m-3 0h3m-2-2h3m-3 4h3m-2-17h3m-3 8h3m-3 1h3m-3 4h3m-2-5h3m-3 0h3m-3 2h3m-3 1h3m-3 1h3m-3 2h3m-2-6h3m-3 0h3m-3 5h3m-3 0h3m-3 3h3m-3 2h3m-2-15h3m-3 4h3m-3 6h3m-2-9h3m-3 3h3m-3 1h3m-3 7h3m-3 3h3m-2-15h3m-3 1h3m-3 2h3m-3 3h3m-3 1h3m-3 4h3m-2-15h3m-3 9h3m-3 0h3m-3 1h3m-3 1h3m-3 1h3m-3 2h3m-3 2h3m-3 3h3m-3 0h3m-3 5h3m-2-6h3m-2-11h3m-3 0h3m-3 4h3m-3 0h3m-3 5h3m-3 2h3m-2-6h3m-3 1h3m-3 2h3m-2-9h3m-3 3h3m-3 0h3m-3 6h3m-2-12h3m-3 2h3m-3 8h3m-3 0h3m-3 1h3m-3 4h3m-3 8h3m-2-21h3m-3 7h3m-3 1h3m-3 0h3m-3 5h3m-3 2h3m-2-14h3m-3 1h3m-3 7h3m-3 1h3m-3 2h3m-3 1h3m-3 0h3m-2-9h3m-3 3h3m-2-6h3m-3 6h3m-2-13h3m-3 6h3m-3 6h3m-3 9h3m-3 2h3m-2-18h3m-3 2h3m-3 3h3m-3 1h3m-3 4h3m-3 3h3m-2-12h3m-2 7h3m-3 4h3m-2-11h3m-3 3h3m-3 3h3m-3 6h3m-3 1h3m-2-10h3m-2-1h3m-3 0h3m-3 6h3m-3 3h3m-3 1h3m-3 3h3m-2-14h3m-3 4h3m-3 1h3m-3 3h3m-3 1h3m-3 0h3m-2-7h3m-3 6h3m-3 3h3m-2-12h3m-3 5h3m-3 1h3m-2-6h3m-3 11h3m-2-9h3m-3 3h3m-3 3h3m-3 1h3m-3 0h3m-3 3h3m-3 0h3m-3 1h3m-2-20h3m-3 2h3m-3 8h3m-3 10h3m-3 4h3m-2-17h3m-3 4h3m-3 2h3m-2-7h3m-3 8h3m-3 0h3m-3 10h3m-2-12h3m-3 0h3m-3 3h3m-3 0h3m-3 0h3m-3 1h3m-3 4h3m-3 0h3m-3 5h3m-3 0h3m-2-18h3m-3 5h3m-3 3h3m-3 4h3m-3 0h3m-3 5h3m-2-11h3m-3 2h3m-3 0h3m-3 2h3m-3 4h3m-2-17h3m-3 3h3m-3 5h3m-3 3h3m-2-6h3m-3 0h3m-3 5h3m-3 2h3m-2-12h3m-3 5h3m-3 3h3m-2-8h3m-3 1h3m-3 2h3m-3 4h3m-3 2h3m-2-8h3m-3 5h3m-3 0h3m-3 1h3m-3 0h3m-3 3h3m-3 6h3m-3 1h3m-3 0h3m-2-14h3m-3 2h3m-3 1h3m-3 8h3m-3 0h3m-3 1h3m-3 0h3m-2-3h3m-3 3h3m-2-14h3m-2 2h3m-3 1h3m-3 7h3m-3 10h3m-2-18h3m-3 2h3m-3 2h3m-3 0h3m-3 0h3m-3 3h3m-3 0h3m-3 2h3m-3 5h3m-2-16h3m-3 9h3m-3 0h3m-3 1h3m-3 4h3m-2-9h3m-3 1h3m-3 1h3m-3 1h3m-3 0h3m-3 1h3m-3 1h3m-3 3h3m-2-11h3m-3 3h3m-3 3h3m-3 3h3m-3 0h3m-3 3h3m-3 4h3m-2-10h3m-3 1h3m-3 1h3m-3 0h3m-3 2h3m-2-14h3m-3 9h3m-3 1h3m-2-5h3m-3 1h3m-3 3h3m-3 5h3m-3 4h3m-3 2h3m-2-13h3m-3 6h3m-3 2h3m-3 0h3m-2-10h3m-2-2h3m-3 4h3m-3 0h3m-3 4h3m-3 2h3m-3 6h3m-2-12h3m-3 2h3m-3 0h3m-2-6h3m-3 0h3m-3 5h3m-3 0h3m-3 2h3m-3 9h3m-2-12h3m-3 0h3m-3 4h3m-3 2h3m-3 0h3m-2-12h3m-3 5h3m-3 7h3m-3 0h3m-2-8h3m-3 2h3m-3 7h3m-3 1h3m-3 1h3m-3 2h3m-3 5h3m-2-22h3m-3 8h3m-3 3h3m-3 2h3m-3 0h3m-3 1h3m-2-7h3m-3 1h3m-3 1h3m-3 2h3m-3 2h3m-3 0h3m-3 1h3m-2-8h3m-3 1h3m-3 2h3m-3 1h3m-3 0h3m-3 2h3m-3 1h3m-3 1h3m-2-9h3m-3 3h3m-3 0h3m-3 4h3m-3 0h3m-3 4h3m-2-9h3m-3 3h3m-3 0h3m-3 1h3m-2-3h3m-3 6h3m-3 3h3m-3 1h3m-2-17h3m-3 3h3m-3 2h3m-3 3h3m-3 0h3m-3 3h3m-3 1h3m-3 3h3m-2-14h3m-3 9h3m-2-4h3m-2 1h3m-3 1h3m-3 1h3m-3 6h3m-2-8h3m-3 4h3m-2-8h3m-3 1h3m-3 4h3m-3 0h3m-3 3h3m-3 9h3m-2-14h3m-3 8h3m-3 2h3m-2-13h3m-3 6h3m-2-5h3m-3 0h3m-3 0h3m-3 7h3m-3 3h3m-3 0h3m-3 2h3m-2-13h3m-3 4h3m-3 3h3m-3 1h3m-3 6h3m-2-7h3m-3 0h3m-3 3h3m-2-7h3m-3 1h3m-3 1h3m-3 3h3m-2-6h3m-3 2h3m-2-1h3m-3 4h3m-3 5h3m-3 0h3m-2-9h3m-3 2h3" stroke="#1a1a1a" stroke-width="3" stroke-opacity="0.7" fill="none"/><rect x="347.5" y="189.6" width="45.5" height="2.4" fill="#dd8ee2" fill-opacity="1.0"/><rect x="385" y="189.6" width="7" height="1.6" fill="#444" fill-opacity="0.6"/><rect x="304" y="153.6" width="89" height="74.9" fill="none" stroke="#8c8c8c" stroke-width=".7"/><line x1="304" y1="228.5" x2="393" y2="228.5" stroke="#999" stroke-width="0.7"/><line x1="304" y1="153.6" x2="304" y2="228.5" stroke="#888" stroke-width=".6"/><text x="288.2" y="191.3" font-size="4" text-anchor="middle" fill="#1e1e1e" stroke="#1e1e1e" stroke-width=".12" textLength="24.5" lengthAdjust="spacingAndGlyphs" transform="rotate(-90 288.2 191.3)">Ch1 Amplitude</text><rect x="286.2" y="139.6" width="111.3" height="1.6" fill="#404040" fill-opacity="1.0"/><text x="317" y="137" font-size="5.3" font-weight="bold" text-anchor="start" fill="#2ea858" textLength="54.7" lengthAdjust="spacing" stroke="#2ea858" stroke-width=".2">Non-converted DNA</text><text x="314.3" y="151" font-size="5.3" font-weight="bold" text-anchor="start" fill="#2ea858" textLength="17.7" lengthAdjust="spacing" stroke="#2ea858" stroke-width=".2">C-LESS</text><text x="365.5" y="151" font-size="5.3" font-weight="bold" text-anchor="start" fill="#2ea858" textLength="14" lengthAdjust="spacing" stroke="#2ea858" stroke-width=".2">SDC2</text><text x="2.8" y="7.7" font-size="6.6" font-weight="bold" text-anchor="start" fill="#141414" textLength="4.6" lengthAdjust="spacingAndGlyphs" stroke="#141414" stroke-width=".4">A</text><text x="266.1" y="7.7" font-size="6.6" font-weight="bold" text-anchor="start" fill="#141414" textLength="4.7" lengthAdjust="spacingAndGlyphs" stroke="#141414" stroke-width=".4">B</text></g></svg></body></html>
